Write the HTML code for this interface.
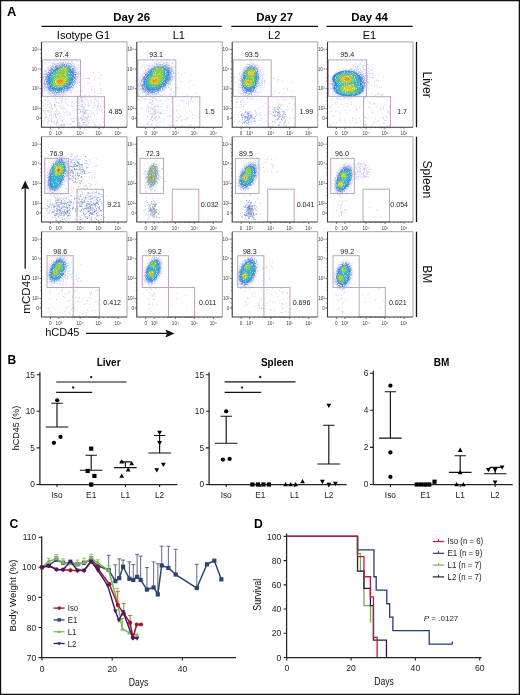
<!DOCTYPE html>
<html><head><meta charset="utf-8"><style>
html,body{margin:0;padding:0;background:#fff;}
body{width:520px;height:695px;overflow:hidden;position:relative;}
svg{position:absolute;left:0;top:0;will-change:transform;}
text{font-family:"Liberation Sans", sans-serif;}
</style></head><body>
<svg width="520" height="695" viewBox="0 0 520 695">
<defs><filter id="bl" x="-30%" y="-30%" width="160%" height="160%"><feGaussianBlur stdDeviation="0.75"/></filter>
<filter id="nz0" x="-20%" y="-20%" width="140%" height="140%"><feTurbulence type="fractalNoise" baseFrequency="0.9" numOctaves="2" seed="4" result="n"/><feColorMatrix in="n" type="matrix" values="0 0 0 0 0 0 0 0 0 0 0 0 0 0 0 0 0 0 5 -2.3" result="m"/><feGaussianBlur in="SourceGraphic" stdDeviation="0.9" result="b"/><feComposite in="b" in2="m" operator="in"/></filter>
<filter id="nz1" x="-20%" y="-20%" width="140%" height="140%"><feTurbulence type="fractalNoise" baseFrequency="0.9" numOctaves="2" seed="9" result="n"/><feColorMatrix in="n" type="matrix" values="0 0 0 0 0 0 0 0 0 0 0 0 0 0 0 0 0 0 5 -1.9" result="m"/><feGaussianBlur in="SourceGraphic" stdDeviation="0.8" result="b"/><feComposite in="b" in2="m" operator="in"/></filter>
<filter id="nz2" x="-20%" y="-20%" width="140%" height="140%"><feTurbulence type="fractalNoise" baseFrequency="0.9" numOctaves="2" seed="13" result="n"/><feColorMatrix in="n" type="matrix" values="0 0 0 0 0 0 0 0 0 0 0 0 0 0 0 0 0 0 5 -1.7" result="m"/><feGaussianBlur in="SourceGraphic" stdDeviation="0.7" result="b"/><feComposite in="b" in2="m" operator="in"/></filter>
<filter id="sp" x="-10%" y="-10%" width="120%" height="120%"><feTurbulence type="fractalNoise" baseFrequency="1.1" numOctaves="1" seed="21" result="n"/><feColorMatrix in="n" type="matrix" values="0 0 0 0 0 0 0 0 0 0 0 0 0 0 0 0 0 0 6 -3.2" result="m"/><feComposite in="SourceGraphic" in2="m" operator="in" result="c"/><feComponentTransfer in="c"><feFuncA type="linear" slope="0.55"/></feComponentTransfer></filter></defs>
<text x="7.1" y="15.9" font-size="12.9" text-anchor="start" font-weight="bold" fill="#000" >A</text>
<text x="131.65" y="20.9" font-size="11.4" text-anchor="middle" font-weight="bold" fill="#000" >Day 26</text>
<line x1="41.5" y1="26.4" x2="221.8" y2="26.4" stroke="#111" stroke-width="1.2" />
<text x="274.65" y="20.9" font-size="11.4" text-anchor="middle" font-weight="bold" fill="#000" >Day 27</text>
<line x1="231.3" y1="26.4" x2="318" y2="26.4" stroke="#111" stroke-width="1.2" />
<text x="369.6" y="20.9" font-size="11.4" text-anchor="middle" font-weight="bold" fill="#000" >Day 44</text>
<line x1="326.5" y1="26.4" x2="412.7" y2="26.4" stroke="#111" stroke-width="1.2" />
<text x="83.45" y="39.2" font-size="11" text-anchor="middle" fill="#000" >Isotype G1</text>
<text x="178.75" y="39.2" font-size="11" text-anchor="middle" fill="#000" >L1</text>
<text x="274.15" y="39.2" font-size="11" text-anchor="middle" fill="#000" >L2</text>
<text x="369.45" y="39.2" font-size="11" text-anchor="middle" fill="#000" >E1</text>
<line x1="416.5" y1="41.9" x2="416.5" y2="127.2" stroke="#111" stroke-width="1.3" />
<text x="0" y="0" font-size="12.1" text-anchor="middle" fill="#111" transform="translate(423.1 84.55) rotate(90)">Liver</text>
<line x1="416.5" y1="136.7" x2="416.5" y2="222" stroke="#111" stroke-width="1.3" />
<text x="0" y="0" font-size="12.1" text-anchor="middle" fill="#111" transform="translate(423.1 179.35) rotate(90)">Spleen</text>
<line x1="416.5" y1="231.7" x2="416.5" y2="317" stroke="#111" stroke-width="1.3" />
<text x="0" y="0" font-size="12.1" text-anchor="middle" fill="#111" transform="translate(423.1 274.35) rotate(90)">BM</text>
<line x1="25.2" y1="268.7" x2="25.2" y2="188" stroke="#111" stroke-width="1.3" />
<path d="M25.2 180.6 L29.3 189.6 L25.2 188 L21.1 189.6 Z" fill="#111"/>
<text x="0" y="0" font-size="11.6" text-anchor="middle" fill="#111" transform="translate(29.6 294) rotate(-90)">mCD45</text>
<text x="45.2" y="335.6" font-size="11" text-anchor="start" fill="#111" >hCD45</text>
<line x1="86" y1="333.4" x2="168" y2="333.4" stroke="#111" stroke-width="1.3" />
<path d="M174.6 333.4 L165.4 329.4 L167 333.4 L165.4 337.4 Z" fill="#111"/>
<clipPath id="c00"><rect x="41.5" y="41.9" width="85.5" height="85.3"/></clipPath>
<g clip-path="url(#c00)">
<path d="M52.09 77.27h0.9v0.9h-0.9zM87.91 106.12h0.9v0.9h-0.9zM79.77 123.54h0.9v0.9h-0.9zM76.48 116.59h0.9v0.9h-0.9zM62.28 121.52h0.9v0.9h-0.9zM94.51 124.1h0.9v0.9h-0.9zM52.79 82.82h0.9v0.9h-0.9zM53.89 82.81h0.9v0.9h-0.9zM66.85 104.35h0.9v0.9h-0.9zM78.23 124.85h0.9v0.9h-0.9zM81.19 126.04h0.9v0.9h-0.9zM48.35 120.29h0.9v0.9h-0.9zM63.85 50.7h0.9v0.9h-0.9zM70.5 78.66h0.9v0.9h-0.9zM65.15 82.22h0.9v0.9h-0.9zM80.72 97.84h0.9v0.9h-0.9zM78.51 125.33h0.9v0.9h-0.9zM79.14 67.37h0.9v0.9h-0.9zM81.8 78.84h0.9v0.9h-0.9zM91.51 86.47h0.9v0.9h-0.9zM65.15 76.42h0.9v0.9h-0.9zM50.89 77.45h0.9v0.9h-0.9zM42.46 74.57h0.9v0.9h-0.9zM56.66 93h0.9v0.9h-0.9zM100.82 75.05h0.9v0.9h-0.9zM80.53 111.26h0.9v0.9h-0.9zM86.38 121.19h0.9v0.9h-0.9zM62.08 125.48h0.9v0.9h-0.9zM78.11 122.21h0.9v0.9h-0.9zM52.46 85.7h0.9v0.9h-0.9zM80.75 100.06h0.9v0.9h-0.9zM73.83 84.1h0.9v0.9h-0.9zM50.19 125.76h0.9v0.9h-0.9zM81.29 100.83h0.9v0.9h-0.9zM68.37 130.06h0.9v0.9h-0.9zM76.59 60.99h0.9v0.9h-0.9zM79.48 108.81h0.9v0.9h-0.9zM50 87h0.9v0.9h-0.9zM84.15 112.13h0.9v0.9h-0.9zM104.19 104.78h0.9v0.9h-0.9zM44.79 74.06h0.9v0.9h-0.9zM93.33 107.32h0.9v0.9h-0.9zM80.3 110.52h0.9v0.9h-0.9zM85.45 97.28h0.9v0.9h-0.9zM60.06 113.01h0.9v0.9h-0.9zM51.21 120.34h0.9v0.9h-0.9zM73.66 68.21h0.9v0.9h-0.9zM104.22 125.27h0.9v0.9h-0.9zM59.23 125.43h0.9v0.9h-0.9zM81.01 97.36h0.9v0.9h-0.9zM85.26 110.25h0.9v0.9h-0.9zM64 80.85h0.9v0.9h-0.9zM51.9 68.73h0.9v0.9h-0.9zM43.29 110.89h0.9v0.9h-0.9zM60.89 102.39h0.9v0.9h-0.9zM47.68 80.07h0.9v0.9h-0.9zM78.26 100.83h0.9v0.9h-0.9zM58.5 92.69h0.9v0.9h-0.9zM86.23 112.42h0.9v0.9h-0.9zM94.23 125.55h0.9v0.9h-0.9zM73.14 106.41h0.9v0.9h-0.9zM47.08 97.33h0.9v0.9h-0.9zM75.3 126.84h0.9v0.9h-0.9zM80.71 118.52h0.9v0.9h-0.9zM56.91 82.43h0.9v0.9h-0.9zM81.66 124.84h0.9v0.9h-0.9zM47.03 104.4h0.9v0.9h-0.9zM53.5 114.64h0.9v0.9h-0.9zM84.56 122.2h0.9v0.9h-0.9zM74.17 121.34h0.9v0.9h-0.9zM57.87 84.35h0.9v0.9h-0.9zM103.89 100.92h0.9v0.9h-0.9zM77.75 106.94h0.9v0.9h-0.9zM56.17 121.75h0.9v0.9h-0.9zM42.46 88.18h0.9v0.9h-0.9zM99.7 124.58h0.9v0.9h-0.9zM59.94 134.93h0.9v0.9h-0.9zM79.38 101.88h0.9v0.9h-0.9zM103.03 118.21h0.9v0.9h-0.9zM74.45 70.48h0.9v0.9h-0.9zM45.32 110.51h0.9v0.9h-0.9zM70.55 67.07h0.9v0.9h-0.9zM88.67 119.57h0.9v0.9h-0.9zM82.83 124.21h0.9v0.9h-0.9zM68.75 111.38h0.9v0.9h-0.9zM103.54 118.5h0.9v0.9h-0.9zM58.84 77.67h0.9v0.9h-0.9zM58.33 113.06h0.9v0.9h-0.9zM58.24 80.43h0.9v0.9h-0.9zM64.04 73.33h0.9v0.9h-0.9zM51.2 105.29h0.9v0.9h-0.9zM69.43 79.73h0.9v0.9h-0.9zM67.13 80.18h0.9v0.9h-0.9zM56.75 74.6h0.9v0.9h-0.9zM51.7 114.23h0.9v0.9h-0.9zM96.88 112.78h0.9v0.9h-0.9zM53.21 83.37h0.9v0.9h-0.9zM75.48 104.77h0.9v0.9h-0.9zM65.58 71.7h0.9v0.9h-0.9zM62.87 67.94h0.9v0.9h-0.9zM92.83 71.9h0.9v0.9h-0.9zM62.64 125.3h0.9v0.9h-0.9zM83.3 120.46h0.9v0.9h-0.9zM85.06 116.83h0.9v0.9h-0.9zM77.77 66.49h0.9v0.9h-0.9zM62.8 110.72h0.9v0.9h-0.9zM57.42 110.84h0.9v0.9h-0.9zM90.58 100.12h0.9v0.9h-0.9zM55.4 107.03h0.9v0.9h-0.9zM57.22 124.71h0.9v0.9h-0.9zM77.15 122.12h0.9v0.9h-0.9zM57.55 95.63h0.9v0.9h-0.9zM63.99 101.4h0.9v0.9h-0.9zM86.85 121.29h0.9v0.9h-0.9zM58.36 105.98h0.9v0.9h-0.9zM101.25 109.41h0.9v0.9h-0.9zM73.74 75.47h0.9v0.9h-0.9zM88.13 105.69h0.9v0.9h-0.9zM81.76 103.95h0.9v0.9h-0.9zM65.45 82.4h0.9v0.9h-0.9zM62.26 117.42h0.9v0.9h-0.9zM80.06 108.7h0.9v0.9h-0.9zM44.56 120.18h0.9v0.9h-0.9zM97.84 93.29h0.9v0.9h-0.9zM91.12 113.48h0.9v0.9h-0.9zM100.64 88.01h0.9v0.9h-0.9zM95.37 119.29h0.9v0.9h-0.9zM87.6 82.41h0.9v0.9h-0.9zM67.47 73.77h0.9v0.9h-0.9zM90.96 88.76h0.9v0.9h-0.9zM59.09 117.02h0.9v0.9h-0.9zM49.38 103.09h0.9v0.9h-0.9zM69.26 114.26h0.9v0.9h-0.9zM60.99 101.34h0.9v0.9h-0.9zM103.28 127.09h0.9v0.9h-0.9zM88.54 126.34h0.9v0.9h-0.9zM59.8 74.01h0.9v0.9h-0.9zM58.29 79.87h0.9v0.9h-0.9zM66.97 123.46h0.9v0.9h-0.9zM82.08 114.52h0.9v0.9h-0.9zM80.04 82h0.9v0.9h-0.9zM82.82 116.33h0.9v0.9h-0.9zM55.31 115.9h0.9v0.9h-0.9zM80.31 112.19h0.9v0.9h-0.9zM84.54 113.12h0.9v0.9h-0.9zM97.56 100.49h0.9v0.9h-0.9z" fill="#aab0d8" fill-opacity="0.7"/>
<path d="M81.88 118.59h0.9v0.9h-0.9zM62.44 106.79h0.9v0.9h-0.9zM84.42 108.49h0.9v0.9h-0.9zM56.77 82.71h0.9v0.9h-0.9zM87.52 123.54h0.9v0.9h-0.9zM60.55 107.18h0.9v0.9h-0.9zM103 121.5h0.9v0.9h-0.9zM57.43 84.93h0.9v0.9h-0.9zM55.12 71.35h0.9v0.9h-0.9zM82.36 97.45h0.9v0.9h-0.9zM57.22 82.96h0.9v0.9h-0.9zM58.11 89.13h0.9v0.9h-0.9zM60.49 74.35h0.9v0.9h-0.9zM44.94 99.65h0.9v0.9h-0.9zM103.22 105.68h0.9v0.9h-0.9zM44.9 63.55h0.9v0.9h-0.9zM63.99 125.11h0.9v0.9h-0.9zM54.36 67.22h0.9v0.9h-0.9zM81.08 101.96h0.9v0.9h-0.9zM62.16 119.93h0.9v0.9h-0.9zM82.37 131.6h0.9v0.9h-0.9zM59.59 84.02h0.9v0.9h-0.9zM69.53 112.28h0.9v0.9h-0.9zM42.64 121.11h0.9v0.9h-0.9zM80.61 106.55h0.9v0.9h-0.9zM80.51 117.84h0.9v0.9h-0.9zM79.96 117.24h0.9v0.9h-0.9zM44.53 112.28h0.9v0.9h-0.9zM61.85 96.96h0.9v0.9h-0.9zM61.67 98.8h0.9v0.9h-0.9zM97.34 105.04h0.9v0.9h-0.9zM67.75 73.53h0.9v0.9h-0.9zM78.89 99.45h0.9v0.9h-0.9zM55.33 82.59h0.9v0.9h-0.9zM55.79 66.65h0.9v0.9h-0.9zM55.65 117.66h0.9v0.9h-0.9zM82.85 73.66h0.9v0.9h-0.9zM81.77 90.36h0.9v0.9h-0.9zM52.57 62.93h0.9v0.9h-0.9zM56.23 108.99h0.9v0.9h-0.9zM71.56 71.77h0.9v0.9h-0.9zM49.55 93.59h0.9v0.9h-0.9zM43.79 89.89h0.9v0.9h-0.9zM62.92 124.3h0.9v0.9h-0.9zM46.05 107.92h0.9v0.9h-0.9zM77.57 104.9h0.9v0.9h-0.9zM104.48 114.75h0.9v0.9h-0.9zM91.29 101.43h0.9v0.9h-0.9zM60.93 125.19h0.9v0.9h-0.9zM60.54 115.61h0.9v0.9h-0.9zM52.38 87.9h0.9v0.9h-0.9zM83.19 78.19h0.9v0.9h-0.9zM79.29 125.92h0.9v0.9h-0.9zM54.76 113.52h0.9v0.9h-0.9zM84.88 109.61h0.9v0.9h-0.9zM84.23 94.82h0.9v0.9h-0.9zM97.96 103.57h0.9v0.9h-0.9zM89.99 115.91h0.9v0.9h-0.9zM57.97 74.53h0.9v0.9h-0.9zM42.64 87.1h0.9v0.9h-0.9zM81.25 100.82h0.9v0.9h-0.9zM82.71 109.01h0.9v0.9h-0.9zM81.08 101.85h0.9v0.9h-0.9zM78.4 126.75h0.9v0.9h-0.9zM84.53 113.8h0.9v0.9h-0.9zM98.14 102.65h0.9v0.9h-0.9zM84.43 122.19h0.9v0.9h-0.9zM54.88 95.19h0.9v0.9h-0.9zM76.02 101.47h0.9v0.9h-0.9zM60.98 123.98h0.9v0.9h-0.9zM44.59 103.14h0.9v0.9h-0.9zM82.07 99.03h0.9v0.9h-0.9zM60.98 126.55h0.9v0.9h-0.9zM55.42 114.06h0.9v0.9h-0.9zM43.31 125.71h0.9v0.9h-0.9zM97.64 107.31h0.9v0.9h-0.9zM86.6 119.29h0.9v0.9h-0.9zM94.2 124.35h0.9v0.9h-0.9zM54.63 79.1h0.9v0.9h-0.9zM69.8 71.22h0.9v0.9h-0.9zM60.05 73.67h0.9v0.9h-0.9zM66.79 63.18h0.9v0.9h-0.9zM59.75 127.88h0.9v0.9h-0.9zM60.59 100.12h0.9v0.9h-0.9zM87.13 126.67h0.9v0.9h-0.9zM56.18 123.3h0.9v0.9h-0.9zM66.5 79.47h0.9v0.9h-0.9zM71.51 101.79h0.9v0.9h-0.9zM60.66 115.81h0.9v0.9h-0.9zM36.77 73.55h0.9v0.9h-0.9zM55.29 123.68h0.9v0.9h-0.9zM81.6 133.55h0.9v0.9h-0.9zM82.43 110.69h0.9v0.9h-0.9zM88.01 116.82h0.9v0.9h-0.9zM54.24 104.58h0.9v0.9h-0.9zM82.53 118.77h0.9v0.9h-0.9zM67.78 94.06h0.9v0.9h-0.9zM69.94 124.08h0.9v0.9h-0.9zM60.43 117.89h0.9v0.9h-0.9zM87.39 116.17h0.9v0.9h-0.9zM61.14 120.51h0.9v0.9h-0.9zM84.63 98.55h0.9v0.9h-0.9zM59.32 76.61h0.9v0.9h-0.9zM57.93 80.06h0.9v0.9h-0.9zM51.64 108.01h0.9v0.9h-0.9zM80.57 97.04h0.9v0.9h-0.9zM72.34 121.32h0.9v0.9h-0.9zM72.62 77.25h0.9v0.9h-0.9zM61.94 120.66h0.9v0.9h-0.9zM62.7 108.92h0.9v0.9h-0.9zM82.36 113.66h0.9v0.9h-0.9zM78.99 124.56h0.9v0.9h-0.9zM53.09 94.93h0.9v0.9h-0.9zM51.4 77.95h0.9v0.9h-0.9zM82.79 75.76h0.9v0.9h-0.9zM93.34 112.78h0.9v0.9h-0.9zM53.3 121.63h0.9v0.9h-0.9zM66.78 117.92h0.9v0.9h-0.9zM54.04 103.66h0.9v0.9h-0.9zM46.12 116.12h0.9v0.9h-0.9zM76.81 116.82h0.9v0.9h-0.9zM69.61 84.82h0.9v0.9h-0.9zM54.94 97.78h0.9v0.9h-0.9zM82.3 122.12h0.9v0.9h-0.9zM61.69 67.29h0.9v0.9h-0.9zM66.07 84.17h0.9v0.9h-0.9zM42.64 109.59h0.9v0.9h-0.9zM57.52 79.7h0.9v0.9h-0.9zM54.88 88.65h0.9v0.9h-0.9zM48.53 111.25h0.9v0.9h-0.9zM58.87 103.21h0.9v0.9h-0.9zM88.65 77.49h0.9v0.9h-0.9zM63.95 123.31h0.9v0.9h-0.9zM44.03 70.47h0.9v0.9h-0.9zM62.98 72.02h0.9v0.9h-0.9zM57.36 121.95h0.9v0.9h-0.9zM78.35 105.04h0.9v0.9h-0.9zM73.11 121.08h0.9v0.9h-0.9zM51.59 117.57h0.9v0.9h-0.9zM50.92 114.67h0.9v0.9h-0.9zM85.7 112.93h0.9v0.9h-0.9zM61.84 85.25h0.9v0.9h-0.9zM83.17 121.64h0.9v0.9h-0.9zM48.15 109.98h0.9v0.9h-0.9zM46.76 110.3h0.9v0.9h-0.9zM93.68 101.8h0.9v0.9h-0.9z" fill="#9aa2d0" fill-opacity="0.7"/>
<path d="M55.72 57.85h0.9v0.9h-0.9zM54.4 98.49h0.9v0.9h-0.9zM75.06 69.05h0.9v0.9h-0.9zM63.28 82.11h0.9v0.9h-0.9zM84.5 102.29h0.9v0.9h-0.9zM50.22 103.77h0.9v0.9h-0.9zM102.41 100.54h0.9v0.9h-0.9zM58.96 76.51h0.9v0.9h-0.9zM65.28 99.09h0.9v0.9h-0.9zM86.27 117.52h0.9v0.9h-0.9zM64.34 124.18h0.9v0.9h-0.9zM82.72 112.47h0.9v0.9h-0.9zM79.36 107.83h0.9v0.9h-0.9zM52.19 81.48h0.9v0.9h-0.9zM81.45 104.24h0.9v0.9h-0.9zM71.9 125.52h0.9v0.9h-0.9zM94.24 114.52h0.9v0.9h-0.9zM80.66 98.1h0.9v0.9h-0.9zM79.87 124.87h0.9v0.9h-0.9zM81.18 89.64h0.9v0.9h-0.9zM71.17 74.24h0.9v0.9h-0.9zM85.24 124.98h0.9v0.9h-0.9zM50.31 108.35h0.9v0.9h-0.9zM91.07 87.64h0.9v0.9h-0.9zM86.96 72.44h0.9v0.9h-0.9zM48.93 60h0.9v0.9h-0.9zM78.03 118.03h0.9v0.9h-0.9zM60.88 123.42h0.9v0.9h-0.9zM78.34 60.77h0.9v0.9h-0.9zM98.62 77.3h0.9v0.9h-0.9zM78.05 120.5h0.9v0.9h-0.9zM51.69 76.29h0.9v0.9h-0.9zM72.72 79.63h0.9v0.9h-0.9zM87.71 103.12h0.9v0.9h-0.9zM82.53 87.23h0.9v0.9h-0.9zM62.34 88.88h0.9v0.9h-0.9zM71.14 119.32h0.9v0.9h-0.9zM94.51 95.03h0.9v0.9h-0.9zM56.55 125.59h0.9v0.9h-0.9zM53.69 122.24h0.9v0.9h-0.9zM81.33 91.46h0.9v0.9h-0.9zM85.43 78.08h0.9v0.9h-0.9zM78.89 82.11h0.9v0.9h-0.9zM57.68 123.31h0.9v0.9h-0.9zM50.6 67.6h0.9v0.9h-0.9zM55.44 104.81h0.9v0.9h-0.9zM75.31 74.21h0.9v0.9h-0.9zM77.33 82.72h0.9v0.9h-0.9zM79.03 101.79h0.9v0.9h-0.9zM70.78 74.59h0.9v0.9h-0.9zM74.44 92.82h0.9v0.9h-0.9zM76.73 67.91h0.9v0.9h-0.9zM86.83 83.42h0.9v0.9h-0.9zM48.72 84.93h0.9v0.9h-0.9zM45.51 100h0.9v0.9h-0.9zM84.21 117.62h0.9v0.9h-0.9zM76.63 91.71h0.9v0.9h-0.9zM73.4 126.22h0.9v0.9h-0.9zM55.05 71.61h0.9v0.9h-0.9zM68.03 105.62h0.9v0.9h-0.9zM88.89 83.05h0.9v0.9h-0.9zM100.92 78.11h0.9v0.9h-0.9zM55.38 69.7h0.9v0.9h-0.9zM53.91 112.61h0.9v0.9h-0.9zM82.92 114.4h0.9v0.9h-0.9zM94.83 76.85h0.9v0.9h-0.9zM49.83 73.01h0.9v0.9h-0.9zM43.39 123.39h0.9v0.9h-0.9zM82.76 119.12h0.9v0.9h-0.9zM43.79 79.79h0.9v0.9h-0.9zM55.06 123.69h0.9v0.9h-0.9zM78.67 122.84h0.9v0.9h-0.9zM81.19 125.98h0.9v0.9h-0.9zM44.1 88.33h0.9v0.9h-0.9zM59.17 98.19h0.9v0.9h-0.9zM82.65 107.02h0.9v0.9h-0.9zM71.92 111.43h0.9v0.9h-0.9zM91.73 110.81h0.9v0.9h-0.9zM102.16 112.31h0.9v0.9h-0.9zM78.86 94.24h0.9v0.9h-0.9zM85.32 115.92h0.9v0.9h-0.9zM59.6 98.07h0.9v0.9h-0.9zM59.72 72.28h0.9v0.9h-0.9zM57 113.53h0.9v0.9h-0.9zM78.44 63.71h0.9v0.9h-0.9zM95.61 122.36h0.9v0.9h-0.9zM96.19 109.87h0.9v0.9h-0.9zM101.28 116.43h0.9v0.9h-0.9zM57.44 102.44h0.9v0.9h-0.9zM51.2 118.67h0.9v0.9h-0.9zM53.83 101.47h0.9v0.9h-0.9zM56.95 114.42h0.9v0.9h-0.9zM83.17 107.43h0.9v0.9h-0.9zM84.74 120.16h0.9v0.9h-0.9zM83.38 107.62h0.9v0.9h-0.9zM54.64 86.05h0.9v0.9h-0.9zM94.06 79.49h0.9v0.9h-0.9zM79.59 124.75h0.9v0.9h-0.9zM68.07 85.96h0.9v0.9h-0.9zM87.86 126.46h0.9v0.9h-0.9zM90.1 85.69h0.9v0.9h-0.9zM69.88 77.68h0.9v0.9h-0.9zM63.19 112.78h0.9v0.9h-0.9zM88.97 104.74h0.9v0.9h-0.9zM52.54 80.61h0.9v0.9h-0.9zM102.16 126.23h0.9v0.9h-0.9zM45.06 117.19h0.9v0.9h-0.9zM86.5 99.25h0.9v0.9h-0.9zM72.87 77.72h0.9v0.9h-0.9zM43.81 110.04h0.9v0.9h-0.9zM49.55 78.94h0.9v0.9h-0.9zM67.78 97.49h0.9v0.9h-0.9zM70.92 90.39h0.9v0.9h-0.9zM70.28 113.6h0.9v0.9h-0.9zM44.62 118.16h0.9v0.9h-0.9zM83.71 110.63h0.9v0.9h-0.9zM78.29 117.56h0.9v0.9h-0.9zM83.85 107.18h0.9v0.9h-0.9zM47.91 118.6h0.9v0.9h-0.9zM53.87 89.58h0.9v0.9h-0.9zM94.61 104.73h0.9v0.9h-0.9zM67.75 64.26h0.9v0.9h-0.9zM87.16 100.92h0.9v0.9h-0.9zM87.14 125.76h0.9v0.9h-0.9zM71.03 79.07h0.9v0.9h-0.9zM62.94 73.84h0.9v0.9h-0.9zM82.29 121.95h0.9v0.9h-0.9zM100.85 98.4h0.9v0.9h-0.9zM85.26 72.75h0.9v0.9h-0.9zM77.89 109.03h0.9v0.9h-0.9zM57.06 77.85h0.9v0.9h-0.9zM71.17 123.08h0.9v0.9h-0.9zM70.86 61.05h0.9v0.9h-0.9zM50.77 73.17h0.9v0.9h-0.9zM82.32 110.92h0.9v0.9h-0.9zM84.06 101.96h0.9v0.9h-0.9zM79.9 90.83h0.9v0.9h-0.9zM80.37 95.64h0.9v0.9h-0.9zM47.03 66.72h0.9v0.9h-0.9zM63.63 108.03h0.9v0.9h-0.9zM54.27 60.95h0.9v0.9h-0.9zM44.47 113.56h0.9v0.9h-0.9zM85.49 118.12h0.9v0.9h-0.9zM79.35 71.12h0.9v0.9h-0.9zM81.22 116.12h0.9v0.9h-0.9zM56.21 93.75h0.9v0.9h-0.9z" fill="#bcbcde" fill-opacity="0.7"/>
<path d="M44.37 76.94h0.9v0.9h-0.9zM47.72 123.69h0.9v0.9h-0.9zM65.61 101.23h0.9v0.9h-0.9zM65 71.02h0.9v0.9h-0.9zM75.93 107.95h0.9v0.9h-0.9zM42.93 71.68h0.9v0.9h-0.9zM78.54 104.95h0.9v0.9h-0.9zM68.49 76.54h0.9v0.9h-0.9zM78.75 98.64h0.9v0.9h-0.9zM68.7 66.65h0.9v0.9h-0.9zM64.46 125.62h0.9v0.9h-0.9zM45.47 116.92h0.9v0.9h-0.9zM69.47 75.99h0.9v0.9h-0.9zM86.73 98.9h0.9v0.9h-0.9zM71.42 103.29h0.9v0.9h-0.9zM64.47 71.65h0.9v0.9h-0.9zM63.55 74.76h0.9v0.9h-0.9zM48.06 74.06h0.9v0.9h-0.9zM91.47 88.95h0.9v0.9h-0.9zM51.31 105.78h0.9v0.9h-0.9zM58.5 73.16h0.9v0.9h-0.9zM53.64 66.37h0.9v0.9h-0.9zM51.57 117.88h0.9v0.9h-0.9zM66.17 98.54h0.9v0.9h-0.9zM53.74 93.91h0.9v0.9h-0.9zM63.59 64h0.9v0.9h-0.9zM80.6 95.41h0.9v0.9h-0.9zM55.13 114.58h0.9v0.9h-0.9zM83.96 119.13h0.9v0.9h-0.9zM86.96 105.71h0.9v0.9h-0.9zM63.12 104.86h0.9v0.9h-0.9zM50.57 105.29h0.9v0.9h-0.9zM73.98 120.53h0.9v0.9h-0.9zM59.88 125.24h0.9v0.9h-0.9zM83.33 115.81h0.9v0.9h-0.9zM65.2 50.39h0.9v0.9h-0.9zM82.48 100.29h0.9v0.9h-0.9zM73 86.49h0.9v0.9h-0.9zM101.02 110.56h0.9v0.9h-0.9zM82.95 106.78h0.9v0.9h-0.9zM42.51 101.48h0.9v0.9h-0.9zM70.34 95.81h0.9v0.9h-0.9zM95.08 98.36h0.9v0.9h-0.9zM70.34 72.76h0.9v0.9h-0.9zM81.6 110.82h0.9v0.9h-0.9zM51.33 107.43h0.9v0.9h-0.9zM67.87 102.05h0.9v0.9h-0.9zM77.3 115.28h0.9v0.9h-0.9zM57.41 81.44h0.9v0.9h-0.9zM65.15 126.99h0.9v0.9h-0.9zM81.63 118.12h0.9v0.9h-0.9zM56 117.16h0.9v0.9h-0.9zM72.21 126.99h0.9v0.9h-0.9zM68.61 78.51h0.9v0.9h-0.9zM54.88 110.78h0.9v0.9h-0.9zM77.9 71.75h0.9v0.9h-0.9zM78.97 104.95h0.9v0.9h-0.9zM74.34 120.6h0.9v0.9h-0.9zM43.87 117.15h0.9v0.9h-0.9zM94.09 91.02h0.9v0.9h-0.9zM93.86 89.36h0.9v0.9h-0.9zM42.55 81.32h0.9v0.9h-0.9zM61.73 123.67h0.9v0.9h-0.9zM83.98 117.28h0.9v0.9h-0.9zM79.56 104.59h0.9v0.9h-0.9zM57.13 119.84h0.9v0.9h-0.9zM48.33 91.73h0.9v0.9h-0.9zM96.4 107.15h0.9v0.9h-0.9zM50.91 87.28h0.9v0.9h-0.9zM62.53 101.14h0.9v0.9h-0.9zM76.67 98.31h0.9v0.9h-0.9zM81.24 117.14h0.9v0.9h-0.9zM84.35 97h0.9v0.9h-0.9zM52.78 93.48h0.9v0.9h-0.9zM79.71 110.41h0.9v0.9h-0.9zM60.58 78.98h0.9v0.9h-0.9zM46.95 101.48h0.9v0.9h-0.9zM51.26 68.13h0.9v0.9h-0.9zM85.85 119.71h0.9v0.9h-0.9zM84.88 104.12h0.9v0.9h-0.9zM50.87 121.44h0.9v0.9h-0.9zM76.51 108.89h0.9v0.9h-0.9zM60.36 124.1h0.9v0.9h-0.9zM43.82 62.15h0.9v0.9h-0.9zM58.81 77.99h0.9v0.9h-0.9zM78.43 123.04h0.9v0.9h-0.9zM52.3 92.59h0.9v0.9h-0.9zM82.08 105.91h0.9v0.9h-0.9zM73.76 87.72h0.9v0.9h-0.9zM78.08 97.58h0.9v0.9h-0.9zM72.79 86.51h0.9v0.9h-0.9zM51.39 77.01h0.9v0.9h-0.9zM88.96 109.99h0.9v0.9h-0.9zM49.35 106.55h0.9v0.9h-0.9zM46.83 103.66h0.9v0.9h-0.9zM82.5 113.54h0.9v0.9h-0.9zM52.66 77.02h0.9v0.9h-0.9zM84.4 105.83h0.9v0.9h-0.9zM87.06 117.91h0.9v0.9h-0.9zM55.28 116.83h0.9v0.9h-0.9zM71.56 72.74h0.9v0.9h-0.9zM54.49 104.92h0.9v0.9h-0.9zM56.05 89.48h0.9v0.9h-0.9zM98.83 72.45h0.9v0.9h-0.9zM44.68 98.94h0.9v0.9h-0.9zM65.34 67.41h0.9v0.9h-0.9zM84.7 126.35h0.9v0.9h-0.9zM92.82 122.19h0.9v0.9h-0.9zM87.64 116.39h0.9v0.9h-0.9zM47.87 67.24h0.9v0.9h-0.9zM86.51 124.86h0.9v0.9h-0.9zM57.19 68.94h0.9v0.9h-0.9zM82.73 101.36h0.9v0.9h-0.9zM75.86 117.82h0.9v0.9h-0.9zM78.47 90.45h0.9v0.9h-0.9zM86.19 78.11h0.9v0.9h-0.9zM77.85 73.3h0.9v0.9h-0.9zM74.94 59.08h0.9v0.9h-0.9zM77.46 69.15h0.9v0.9h-0.9zM83 112.25h0.9v0.9h-0.9zM83.91 112.91h0.9v0.9h-0.9zM80.37 105.92h0.9v0.9h-0.9zM67.88 113.76h0.9v0.9h-0.9zM51.58 109.6h0.9v0.9h-0.9zM96.34 108.8h0.9v0.9h-0.9zM47.89 61.77h0.9v0.9h-0.9zM103.12 102.94h0.9v0.9h-0.9zM78.76 109.01h0.9v0.9h-0.9zM78.81 64.35h0.9v0.9h-0.9zM80.16 63.58h0.9v0.9h-0.9zM64.08 114.68h0.9v0.9h-0.9zM53.91 113.5h0.9v0.9h-0.9zM82.03 120h0.9v0.9h-0.9zM71.63 61.36h0.9v0.9h-0.9zM48.36 66.42h0.9v0.9h-0.9zM70.57 92.57h0.9v0.9h-0.9zM45.04 104.19h0.9v0.9h-0.9zM42.64 92.25h0.9v0.9h-0.9zM91.55 111.8h0.9v0.9h-0.9zM64.66 98.19h0.9v0.9h-0.9zM78.68 122.39h0.9v0.9h-0.9zM75.98 110.45h0.9v0.9h-0.9zM57.86 84.77h0.9v0.9h-0.9zM58.43 88.34h0.9v0.9h-0.9zM48.75 120.81h0.9v0.9h-0.9z" fill="#c4b6da" fill-opacity="0.7"/>
<path d="M93.12 72.16h0.9v0.9h-0.9zM81.53 105.13h0.9v0.9h-0.9zM63.38 74.52h0.9v0.9h-0.9zM53.11 116.58h0.9v0.9h-0.9zM63.94 112.22h0.9v0.9h-0.9zM103.55 100.76h0.9v0.9h-0.9zM99.06 83.78h0.9v0.9h-0.9zM54.54 104.31h0.9v0.9h-0.9zM83.68 112.05h0.9v0.9h-0.9zM77.51 108.46h0.9v0.9h-0.9zM76.81 100.48h0.9v0.9h-0.9zM82.82 109.57h0.9v0.9h-0.9zM94.74 104.95h0.9v0.9h-0.9zM56.44 111.66h0.9v0.9h-0.9zM86.91 117.87h0.9v0.9h-0.9zM47.55 100.47h0.9v0.9h-0.9zM87.77 121.51h0.9v0.9h-0.9zM95.22 98.38h0.9v0.9h-0.9zM81.95 103.99h0.9v0.9h-0.9zM44.99 70.6h0.9v0.9h-0.9zM51.9 62.23h0.9v0.9h-0.9zM57.9 102.45h0.9v0.9h-0.9zM99.31 83.73h0.9v0.9h-0.9zM57.27 118.62h0.9v0.9h-0.9zM53.71 94.17h0.9v0.9h-0.9zM78.49 119.35h0.9v0.9h-0.9zM53.13 72.55h0.9v0.9h-0.9zM67.26 67.22h0.9v0.9h-0.9zM80.92 126.16h0.9v0.9h-0.9zM61.51 97.72h0.9v0.9h-0.9zM60.33 106.27h0.9v0.9h-0.9zM57.23 120.99h0.9v0.9h-0.9zM100.67 89.52h0.9v0.9h-0.9zM55.25 100.62h0.9v0.9h-0.9zM85.38 94.9h0.9v0.9h-0.9zM55.95 102.06h0.9v0.9h-0.9zM50.99 74.91h0.9v0.9h-0.9zM83.63 106.51h0.9v0.9h-0.9zM97.82 97.65h0.9v0.9h-0.9zM47.62 121.94h0.9v0.9h-0.9zM89.32 78.33h0.9v0.9h-0.9zM55.53 110.61h0.9v0.9h-0.9zM85.68 123.95h0.9v0.9h-0.9zM47.82 111.72h0.9v0.9h-0.9zM80.9 120.57h0.9v0.9h-0.9zM97.36 106.05h0.9v0.9h-0.9zM59.65 73.52h0.9v0.9h-0.9zM79.45 112.77h0.9v0.9h-0.9zM100.03 106.02h0.9v0.9h-0.9zM66 112.24h0.9v0.9h-0.9zM81.83 107.7h0.9v0.9h-0.9zM58.77 72.39h0.9v0.9h-0.9zM77.54 112.86h0.9v0.9h-0.9zM65.35 121.13h0.9v0.9h-0.9zM96.35 125.87h0.9v0.9h-0.9zM49.81 101.82h0.9v0.9h-0.9zM87.82 104.54h0.9v0.9h-0.9zM61.26 107.98h0.9v0.9h-0.9zM88.24 115.59h0.9v0.9h-0.9zM73.22 83.42h0.9v0.9h-0.9zM50.44 112.58h0.9v0.9h-0.9zM88.77 121.94h0.9v0.9h-0.9zM79.47 80.89h0.9v0.9h-0.9zM66.85 110.38h0.9v0.9h-0.9zM78.97 122.23h0.9v0.9h-0.9zM49.66 85.48h0.9v0.9h-0.9zM87.13 109.79h0.9v0.9h-0.9zM54.83 115.08h0.9v0.9h-0.9zM46.21 113.88h0.9v0.9h-0.9zM103.73 113.54h0.9v0.9h-0.9zM78.15 72.29h0.9v0.9h-0.9zM94 99.65h0.9v0.9h-0.9zM65.72 76.27h0.9v0.9h-0.9zM51.04 114.31h0.9v0.9h-0.9zM78.21 103.01h0.9v0.9h-0.9zM61.34 66.64h0.9v0.9h-0.9zM79.84 99.39h0.9v0.9h-0.9zM59.45 87.16h0.9v0.9h-0.9zM89.69 117.22h0.9v0.9h-0.9zM91.52 119.65h0.9v0.9h-0.9zM60.35 104.71h0.9v0.9h-0.9zM50.59 94.97h0.9v0.9h-0.9zM60.17 73.27h0.9v0.9h-0.9zM72.23 62.74h0.9v0.9h-0.9zM95.21 125.25h0.9v0.9h-0.9zM84.73 110.98h0.9v0.9h-0.9zM63.69 107.94h0.9v0.9h-0.9zM58.81 111.56h0.9v0.9h-0.9zM54.53 69.82h0.9v0.9h-0.9zM74.44 110.33h0.9v0.9h-0.9zM71.9 101.06h0.9v0.9h-0.9zM98.91 123.78h0.9v0.9h-0.9zM60.82 97.47h0.9v0.9h-0.9zM60.54 89.39h0.9v0.9h-0.9zM56.71 71.84h0.9v0.9h-0.9zM61.78 68.23h0.9v0.9h-0.9zM66.84 114.91h0.9v0.9h-0.9zM70.9 92.25h0.9v0.9h-0.9zM54.64 72.93h0.9v0.9h-0.9zM46.16 77.85h0.9v0.9h-0.9zM80.4 95.19h0.9v0.9h-0.9zM70.9 126.74h0.9v0.9h-0.9zM88.72 95.07h0.9v0.9h-0.9zM100.53 93.12h0.9v0.9h-0.9zM72.55 105.68h0.9v0.9h-0.9zM54.29 105.61h0.9v0.9h-0.9zM50.67 111.59h0.9v0.9h-0.9zM66.31 109.86h0.9v0.9h-0.9zM43.48 105.37h0.9v0.9h-0.9zM64.86 108.18h0.9v0.9h-0.9zM54.14 121.16h0.9v0.9h-0.9zM48.83 114.52h0.9v0.9h-0.9zM51.38 121.54h0.9v0.9h-0.9zM68.28 66.57h0.9v0.9h-0.9zM87.76 113.6h0.9v0.9h-0.9zM50.88 111.02h0.9v0.9h-0.9zM71.27 105.52h0.9v0.9h-0.9zM48.38 100.45h0.9v0.9h-0.9zM70.25 72.63h0.9v0.9h-0.9zM52.24 109.48h0.9v0.9h-0.9zM48.67 103.93h0.9v0.9h-0.9zM76.07 95.46h0.9v0.9h-0.9zM95.95 99.66h0.9v0.9h-0.9zM63.26 118.98h0.9v0.9h-0.9zM78.8 85.14h0.9v0.9h-0.9zM98.75 108.85h0.9v0.9h-0.9zM75.41 76.07h0.9v0.9h-0.9zM63.16 81.19h0.9v0.9h-0.9zM85.99 109.74h0.9v0.9h-0.9zM59.32 126.61h0.9v0.9h-0.9zM87.7 78.24h0.9v0.9h-0.9zM70.3 118.08h0.9v0.9h-0.9zM81.87 106.14h0.9v0.9h-0.9zM66.52 83.95h0.9v0.9h-0.9zM100.27 89.94h0.9v0.9h-0.9zM83.41 124.52h0.9v0.9h-0.9zM66.89 79.16h0.9v0.9h-0.9zM53.29 77.57h0.9v0.9h-0.9zM47.09 124.47h0.9v0.9h-0.9zM72.72 117.99h0.9v0.9h-0.9zM97.35 101.13h0.9v0.9h-0.9zM65.27 103.21h0.9v0.9h-0.9zM51.4 74.91h0.9v0.9h-0.9zM80.15 111.29h0.9v0.9h-0.9zM84.9 112.29h0.9v0.9h-0.9z" fill="#a4aed8" fill-opacity="0.7"/>
<g fill="#b4c0ee" fill-opacity="0.55" filter="url(#nz0)">
<ellipse cx="60.5" cy="78.5" rx="21.12" ry="17.28" transform="rotate(-35 60.5 78.5)"/>
</g>
<g fill="#8aa0e0" fill-opacity="0.75" filter="url(#nz1)">
<ellipse cx="60.5" cy="78.5" rx="18.48" ry="15.12" transform="rotate(-35 60.5 78.5)"/>
</g>
<g fill="#5a7ad0" fill-opacity="0.75" filter="url(#nz2)">
<ellipse cx="60.5" cy="78.5" rx="16.5" ry="13.5" transform="rotate(-35 60.5 78.5)"/>
</g>
<g fill="#3a8ad8" filter="url(#bl)">
<ellipse cx="60.5" cy="78.5" rx="13.86" ry="11.34" transform="rotate(-35 60.5 78.5)"/>
</g>
<g fill="#38aed0" filter="url(#bl)">
<ellipse cx="60.5" cy="78.5" rx="11.55" ry="9.45" transform="rotate(-35 60.5 78.5)"/>
</g>
<g fill="#56bf86" filter="url(#bl)">
<ellipse cx="60.5" cy="78.5" rx="9.24" ry="7.56" transform="rotate(-35 60.5 78.5)"/>
<ellipse cx="60" cy="81.5" rx="9.52" ry="6.16" transform="rotate(-15 60 81.5)"/>
<ellipse cx="62.5" cy="72" rx="7.28" ry="5.6" transform="rotate(-30 62.5 72)"/>
</g>
<g fill="#8fc944" filter="url(#bl)">
<ellipse cx="60.5" cy="78.5" rx="7.09" ry="5.8" transform="rotate(-35 60.5 78.5)"/>
<ellipse cx="60" cy="81.5" rx="7.31" ry="4.73" transform="rotate(-15 60 81.5)"/>
<ellipse cx="62.5" cy="72" rx="5.59" ry="4.3" transform="rotate(-30 62.5 72)"/>
</g>
<g fill="#d6cc2e" filter="url(#bl)">
<ellipse cx="60" cy="81.5" rx="5.1" ry="3.3" transform="rotate(-15 60 81.5)"/>
</g>
<g fill="#ec8f22" filter="url(#bl)">
<ellipse cx="60" cy="81.5" rx="3.06" ry="1.98" transform="rotate(-15 60 81.5)"/>
</g>
<g fill="#fff" filter="url(#sp)">
<ellipse cx="60.5" cy="78.5" rx="17.32" ry="14.18" transform="rotate(-35 60.5 78.5)"/>
</g>
</g>
<rect x="42.5" y="59.9" width="38" height="36.5" fill="none" stroke="#bca6bc" stroke-width="1"/>
<rect x="77.5" y="96.7" width="27" height="30.5" fill="none" stroke="#bca6bc" stroke-width="1"/>
<path d="M41.5 41.9H127V127.2" fill="none" stroke="#a6a6a6" stroke-width="1"/>
<path d="M41.5 41.9V127.2H127" fill="none" stroke="#3a3a3a" stroke-width="1.1"/>
<path d="M39.5 49.4h2M40.5 53.9h1M40.5 57.9h1M40.5 61.4h1M39.5 69.1h2M40.5 73.6h1M40.5 77.6h1M40.5 81.1h1M39.5 88.7h2M40.5 93.2h1M40.5 97.2h1M40.5 100.7h1M39.5 108.7h2M40.5 113.2h1M40.5 117.2h1M39.3 118.3h2.2M50.4 127.2v2M58.9 127.2v2M80.1 127.2v2M99 127.2v2M118 127.2v2M63.5 127.2v1M68.5 127.2v1M72 127.2v1M74.5 127.2v1M84.5 127.2v1M89.5 127.2v1M93 127.2v1M95.5 127.2v1M103.5 127.2v1M108.5 127.2v1M112 127.2v1M114.5 127.2v1" stroke="#444" stroke-width="0.7" fill="none"/>
<g font-size="4.6" fill="#3a3a3a"><text x="38.9" y="50.8" text-anchor="end">10⁵</text><text x="38.9" y="70.5" text-anchor="end">10⁴</text><text x="38.9" y="90.1" text-anchor="end">10³</text><text x="38.9" y="110.1" text-anchor="end">10²</text><text x="38.7" y="119.7" text-anchor="end">0</text><text x="50.4" y="134.8" text-anchor="middle">0</text><text x="58.9" y="134.8" text-anchor="middle">10³</text><text x="80.1" y="134.8" text-anchor="middle">10⁴</text><text x="99" y="134.8" text-anchor="middle">10⁵</text><text x="118" y="134.8" text-anchor="middle">10⁶</text></g>
<text x="54.9" y="57.4" font-size="7.1" text-anchor="start" fill="#1a1a1a" >87.4</text>
<text x="108.5" y="113.9" font-size="7.1" text-anchor="start" fill="#1a1a1a" >4.85</text>
<clipPath id="c01"><rect x="136.8" y="41.9" width="85.5" height="85.3"/></clipPath>
<g clip-path="url(#c01)">
<path d="M171.91 84.6h0.9v0.9h-0.9zM180.63 75.31h0.9v0.9h-0.9zM147.72 68.08h0.9v0.9h-0.9zM158.28 72.2h0.9v0.9h-0.9zM163.49 63.74h0.9v0.9h-0.9zM158.32 111.3h0.9v0.9h-0.9zM149.28 121.3h0.9v0.9h-0.9zM141.08 80.01h0.9v0.9h-0.9zM141.13 122.84h0.9v0.9h-0.9zM197.79 117.21h0.9v0.9h-0.9zM160.93 82.61h0.9v0.9h-0.9zM150.89 106.5h0.9v0.9h-0.9zM159.51 112.25h0.9v0.9h-0.9zM146.29 106.77h0.9v0.9h-0.9zM156.31 77.32h0.9v0.9h-0.9zM154.72 105.59h0.9v0.9h-0.9zM172.39 68.63h0.9v0.9h-0.9zM168.1 115.71h0.9v0.9h-0.9zM154 80.48h0.9v0.9h-0.9zM154.05 98.13h0.9v0.9h-0.9zM152.26 100.03h0.9v0.9h-0.9zM159.36 95.97h0.9v0.9h-0.9zM154.26 117.77h0.9v0.9h-0.9zM186.83 94.29h0.9v0.9h-0.9zM191.33 111.64h0.9v0.9h-0.9zM175.47 72.75h0.9v0.9h-0.9zM195.47 109.2h0.9v0.9h-0.9zM157.56 109.73h0.9v0.9h-0.9zM141.91 108.94h0.9v0.9h-0.9zM143.09 85.05h0.9v0.9h-0.9zM160.6 63.83h0.9v0.9h-0.9zM181.4 120.45h0.9v0.9h-0.9zM153.05 81.83h0.9v0.9h-0.9zM147.25 123.51h0.9v0.9h-0.9zM177.16 110.39h0.9v0.9h-0.9zM158.38 80.99h0.9v0.9h-0.9zM150.98 116.69h0.9v0.9h-0.9zM169.75 80.97h0.9v0.9h-0.9zM161.02 84.37h0.9v0.9h-0.9zM186.02 102.64h0.9v0.9h-0.9zM156.2 86.96h0.9v0.9h-0.9zM163.56 119.33h0.9v0.9h-0.9zM180.52 115.48h0.9v0.9h-0.9zM165.77 60.32h0.9v0.9h-0.9zM151.8 90.63h0.9v0.9h-0.9zM150.23 57.56h0.9v0.9h-0.9zM137.17 95.48h0.9v0.9h-0.9zM143.64 98.73h0.9v0.9h-0.9zM145.82 109.31h0.9v0.9h-0.9zM142.77 82.39h0.9v0.9h-0.9zM148.43 111.38h0.9v0.9h-0.9zM159.59 84.29h0.9v0.9h-0.9zM149.14 106.76h0.9v0.9h-0.9zM161.23 112.89h0.9v0.9h-0.9zM151.68 115.36h0.9v0.9h-0.9zM171.87 98.12h0.9v0.9h-0.9zM185.45 126.59h0.9v0.9h-0.9zM148.08 107.59h0.9v0.9h-0.9zM164.13 76.05h0.9v0.9h-0.9zM155.65 119.7h0.9v0.9h-0.9zM163.16 74.88h0.9v0.9h-0.9zM193.96 106.65h0.9v0.9h-0.9zM155.61 126.33h0.9v0.9h-0.9zM168.36 84.21h0.9v0.9h-0.9zM190.12 74.45h0.9v0.9h-0.9zM157.8 106.06h0.9v0.9h-0.9zM163.1 67.27h0.9v0.9h-0.9zM156.55 85.02h0.9v0.9h-0.9zM160.72 61.13h0.9v0.9h-0.9zM153.28 118.91h0.9v0.9h-0.9zM152.53 108.93h0.9v0.9h-0.9zM170.68 78.99h0.9v0.9h-0.9zM159.8 79.88h0.9v0.9h-0.9zM147.51 68.51h0.9v0.9h-0.9zM158.8 117.57h0.9v0.9h-0.9zM144.27 66.78h0.9v0.9h-0.9zM138.16 98.97h0.9v0.9h-0.9zM182.22 125.67h0.9v0.9h-0.9zM198.51 121.9h0.9v0.9h-0.9zM154.15 83.25h0.9v0.9h-0.9zM181.76 119.29h0.9v0.9h-0.9zM169.93 115.79h0.9v0.9h-0.9zM198.82 101.99h0.9v0.9h-0.9zM167 107.63h0.9v0.9h-0.9zM141.56 88.41h0.9v0.9h-0.9zM153.86 114.3h0.9v0.9h-0.9zM159.37 76.78h0.9v0.9h-0.9zM151.27 84.88h0.9v0.9h-0.9zM157.56 119.26h0.9v0.9h-0.9zM195.11 92.85h0.9v0.9h-0.9zM166.46 97.84h0.9v0.9h-0.9zM176.98 126.57h0.9v0.9h-0.9zM153.1 121.92h0.9v0.9h-0.9zM163.05 72.7h0.9v0.9h-0.9zM134.97 80.35h0.9v0.9h-0.9z" fill="#aab0d8" fill-opacity="0.7"/>
<path d="M147.77 73.45h0.9v0.9h-0.9zM182.5 99.66h0.9v0.9h-0.9zM152.43 103.77h0.9v0.9h-0.9zM173.18 91.35h0.9v0.9h-0.9zM167.55 105.36h0.9v0.9h-0.9zM142.38 64.78h0.9v0.9h-0.9zM163.75 65.7h0.9v0.9h-0.9zM161.54 68.47h0.9v0.9h-0.9zM141.7 87.73h0.9v0.9h-0.9zM161.58 65.46h0.9v0.9h-0.9zM151.43 108.33h0.9v0.9h-0.9zM139.39 85.17h0.9v0.9h-0.9zM186.53 117.4h0.9v0.9h-0.9zM165.27 71.84h0.9v0.9h-0.9zM157.59 83.96h0.9v0.9h-0.9zM158.11 122.64h0.9v0.9h-0.9zM152.35 116.64h0.9v0.9h-0.9zM147.49 122.32h0.9v0.9h-0.9zM152.88 102.39h0.9v0.9h-0.9zM158.21 74.65h0.9v0.9h-0.9zM187.9 102.19h0.9v0.9h-0.9zM145.83 89.39h0.9v0.9h-0.9zM192.73 113.64h0.9v0.9h-0.9zM153.68 97.36h0.9v0.9h-0.9zM181.01 100.25h0.9v0.9h-0.9zM159.89 112.78h0.9v0.9h-0.9zM175.99 109.77h0.9v0.9h-0.9zM163.25 109.93h0.9v0.9h-0.9zM161.88 90.43h0.9v0.9h-0.9zM156.93 74.14h0.9v0.9h-0.9zM149.82 125.24h0.9v0.9h-0.9zM158.64 116.54h0.9v0.9h-0.9zM151.66 112.92h0.9v0.9h-0.9zM154.18 118.37h0.9v0.9h-0.9zM155.05 78.8h0.9v0.9h-0.9zM148.53 76.64h0.9v0.9h-0.9zM152.2 70.51h0.9v0.9h-0.9zM144.81 73.28h0.9v0.9h-0.9zM156.87 80.9h0.9v0.9h-0.9zM157.38 76.46h0.9v0.9h-0.9zM154.85 112.21h0.9v0.9h-0.9zM160.76 105.84h0.9v0.9h-0.9zM165.33 74.95h0.9v0.9h-0.9zM146.25 86.53h0.9v0.9h-0.9zM171.26 97.67h0.9v0.9h-0.9zM152.83 70.57h0.9v0.9h-0.9zM153.82 110.77h0.9v0.9h-0.9zM155.85 63.25h0.9v0.9h-0.9zM149.44 77.46h0.9v0.9h-0.9zM156.53 92.96h0.9v0.9h-0.9zM155.2 110.95h0.9v0.9h-0.9zM151.36 117.01h0.9v0.9h-0.9zM151.39 123.21h0.9v0.9h-0.9zM159.29 75.05h0.9v0.9h-0.9zM174.6 67.2h0.9v0.9h-0.9zM170.29 101.57h0.9v0.9h-0.9zM162.97 87.8h0.9v0.9h-0.9zM159.92 118.22h0.9v0.9h-0.9zM188.04 103.8h0.9v0.9h-0.9zM151.99 82.18h0.9v0.9h-0.9zM178.76 112.88h0.9v0.9h-0.9zM151.86 120.15h0.9v0.9h-0.9zM169.78 88.85h0.9v0.9h-0.9zM161.63 84.45h0.9v0.9h-0.9zM161.61 94.47h0.9v0.9h-0.9zM164.78 86.44h0.9v0.9h-0.9zM164.5 112.68h0.9v0.9h-0.9zM178.36 117.3h0.9v0.9h-0.9zM159.6 88.07h0.9v0.9h-0.9zM180.38 81.21h0.9v0.9h-0.9zM164.28 86.38h0.9v0.9h-0.9zM181.14 126.08h0.9v0.9h-0.9zM148.56 76.3h0.9v0.9h-0.9zM147.2 116.01h0.9v0.9h-0.9zM184.07 119.44h0.9v0.9h-0.9zM172.32 63.06h0.9v0.9h-0.9zM182.18 99.7h0.9v0.9h-0.9zM176.39 116.32h0.9v0.9h-0.9zM164.67 70.55h0.9v0.9h-0.9zM155.49 119.7h0.9v0.9h-0.9zM138.74 95.7h0.9v0.9h-0.9zM151.91 119.98h0.9v0.9h-0.9zM164.36 93.53h0.9v0.9h-0.9zM153.86 114h0.9v0.9h-0.9zM155.59 116.33h0.9v0.9h-0.9zM189.23 109.95h0.9v0.9h-0.9zM172.44 108.43h0.9v0.9h-0.9zM155.33 116.55h0.9v0.9h-0.9zM172.71 110.65h0.9v0.9h-0.9zM166.56 106.9h0.9v0.9h-0.9zM141.76 107.43h0.9v0.9h-0.9zM155.21 79.38h0.9v0.9h-0.9zM147.85 110.66h0.9v0.9h-0.9zM149.85 110.76h0.9v0.9h-0.9zM154.63 110.77h0.9v0.9h-0.9z" fill="#9aa2d0" fill-opacity="0.7"/>
<path d="M153.17 61.6h0.9v0.9h-0.9zM176.47 87.17h0.9v0.9h-0.9zM141.03 107.89h0.9v0.9h-0.9zM171.82 123.9h0.9v0.9h-0.9zM189.39 80.81h0.9v0.9h-0.9zM162.1 74.56h0.9v0.9h-0.9zM168.4 86.4h0.9v0.9h-0.9zM155.02 109.87h0.9v0.9h-0.9zM165.35 73.62h0.9v0.9h-0.9zM167.94 68.47h0.9v0.9h-0.9zM150.15 112.84h0.9v0.9h-0.9zM152.09 108h0.9v0.9h-0.9zM157.31 101.51h0.9v0.9h-0.9zM157.04 86.87h0.9v0.9h-0.9zM154.15 70.01h0.9v0.9h-0.9zM139 90.04h0.9v0.9h-0.9zM153.71 108.21h0.9v0.9h-0.9zM156.55 72.72h0.9v0.9h-0.9zM144.89 115.41h0.9v0.9h-0.9zM148.3 113.17h0.9v0.9h-0.9zM155.6 93.65h0.9v0.9h-0.9zM153.31 81.62h0.9v0.9h-0.9zM198.63 111.7h0.9v0.9h-0.9zM155.6 117.22h0.9v0.9h-0.9zM145.36 98.62h0.9v0.9h-0.9zM155.58 99.6h0.9v0.9h-0.9zM162.01 119.52h0.9v0.9h-0.9zM152.16 113.56h0.9v0.9h-0.9zM150.63 99.18h0.9v0.9h-0.9zM151.36 77.5h0.9v0.9h-0.9zM156.35 62.56h0.9v0.9h-0.9zM190.9 79.66h0.9v0.9h-0.9zM154.73 77.28h0.9v0.9h-0.9zM147.53 104.55h0.9v0.9h-0.9zM154.88 105.7h0.9v0.9h-0.9zM135.56 73.76h0.9v0.9h-0.9zM178.05 91.97h0.9v0.9h-0.9zM149.21 99.11h0.9v0.9h-0.9zM150.55 118.09h0.9v0.9h-0.9zM155.01 109.16h0.9v0.9h-0.9zM147.62 65.31h0.9v0.9h-0.9zM164.75 68.07h0.9v0.9h-0.9zM187.85 98.28h0.9v0.9h-0.9zM179.3 115.97h0.9v0.9h-0.9zM154.88 74.84h0.9v0.9h-0.9zM147.4 94.07h0.9v0.9h-0.9zM152.73 114.46h0.9v0.9h-0.9zM146.62 105.44h0.9v0.9h-0.9zM152.16 101.15h0.9v0.9h-0.9zM153.82 110.14h0.9v0.9h-0.9zM172.96 117.85h0.9v0.9h-0.9zM146.16 76.93h0.9v0.9h-0.9zM141.42 67.07h0.9v0.9h-0.9zM155.32 109.73h0.9v0.9h-0.9zM181.12 73.34h0.9v0.9h-0.9zM178.81 73.7h0.9v0.9h-0.9zM188.17 105.67h0.9v0.9h-0.9zM185.91 119.54h0.9v0.9h-0.9zM151.28 73.11h0.9v0.9h-0.9zM159.18 79.14h0.9v0.9h-0.9zM175.7 87.31h0.9v0.9h-0.9zM154.96 106.38h0.9v0.9h-0.9zM155.37 112.65h0.9v0.9h-0.9zM161.47 110.63h0.9v0.9h-0.9zM138.13 94.32h0.9v0.9h-0.9zM148.01 75.89h0.9v0.9h-0.9zM152.45 128.1h0.9v0.9h-0.9zM138.56 113.6h0.9v0.9h-0.9zM199.75 115.54h0.9v0.9h-0.9zM192.98 97.67h0.9v0.9h-0.9zM179.94 116.45h0.9v0.9h-0.9zM163.24 90h0.9v0.9h-0.9zM179.17 104.79h0.9v0.9h-0.9zM165.9 110.1h0.9v0.9h-0.9zM175.37 67.16h0.9v0.9h-0.9zM161.4 95.62h0.9v0.9h-0.9zM184.75 107.21h0.9v0.9h-0.9zM171.04 89.23h0.9v0.9h-0.9zM157.98 91.82h0.9v0.9h-0.9zM162.75 64.83h0.9v0.9h-0.9zM151.33 113.52h0.9v0.9h-0.9zM188.33 125.25h0.9v0.9h-0.9zM193.66 83.89h0.9v0.9h-0.9zM151.02 118.56h0.9v0.9h-0.9zM172.43 117.43h0.9v0.9h-0.9zM161.19 101.15h0.9v0.9h-0.9zM188.46 87.56h0.9v0.9h-0.9zM140.89 89.05h0.9v0.9h-0.9zM198.21 117.41h0.9v0.9h-0.9zM138.04 119.5h0.9v0.9h-0.9zM170.86 87.99h0.9v0.9h-0.9zM156.51 122.08h0.9v0.9h-0.9zM139.05 99.95h0.9v0.9h-0.9zM156.59 104.64h0.9v0.9h-0.9z" fill="#bcbcde" fill-opacity="0.7"/>
<path d="M161.62 75.54h0.9v0.9h-0.9zM150.2 101.41h0.9v0.9h-0.9zM158.28 65.64h0.9v0.9h-0.9zM173.97 124.04h0.9v0.9h-0.9zM172.35 80.31h0.9v0.9h-0.9zM154.52 88.38h0.9v0.9h-0.9zM156.6 92.15h0.9v0.9h-0.9zM155.06 74.56h0.9v0.9h-0.9zM191.65 100.94h0.9v0.9h-0.9zM196.43 114.63h0.9v0.9h-0.9zM188.75 81.38h0.9v0.9h-0.9zM176.96 89.67h0.9v0.9h-0.9zM184.23 96.38h0.9v0.9h-0.9zM146.93 75.79h0.9v0.9h-0.9zM154.18 112.89h0.9v0.9h-0.9zM155.96 74.2h0.9v0.9h-0.9zM143.48 125.75h0.9v0.9h-0.9zM178.37 117.81h0.9v0.9h-0.9zM154.08 79.15h0.9v0.9h-0.9zM155.24 75.78h0.9v0.9h-0.9zM157.69 82.28h0.9v0.9h-0.9zM148.67 102.22h0.9v0.9h-0.9zM178.19 72.52h0.9v0.9h-0.9zM158.67 80.5h0.9v0.9h-0.9zM170.49 109.53h0.9v0.9h-0.9zM162.3 81.5h0.9v0.9h-0.9zM159.49 113.33h0.9v0.9h-0.9zM169.84 69.64h0.9v0.9h-0.9zM155.88 89.33h0.9v0.9h-0.9zM178.78 77.59h0.9v0.9h-0.9zM158.46 125.14h0.9v0.9h-0.9zM141.3 97.31h0.9v0.9h-0.9zM168.3 71.24h0.9v0.9h-0.9zM177.22 120.56h0.9v0.9h-0.9zM193.3 84.68h0.9v0.9h-0.9zM150.39 127.69h0.9v0.9h-0.9zM170.16 84.36h0.9v0.9h-0.9zM193.24 101.63h0.9v0.9h-0.9zM151.68 124.9h0.9v0.9h-0.9zM150.36 113.94h0.9v0.9h-0.9zM140.35 73.46h0.9v0.9h-0.9zM155.64 98.87h0.9v0.9h-0.9zM172.55 101.43h0.9v0.9h-0.9zM156.71 125.74h0.9v0.9h-0.9zM154.08 109.84h0.9v0.9h-0.9zM170.74 67.58h0.9v0.9h-0.9zM157.3 78.79h0.9v0.9h-0.9zM195.45 115.87h0.9v0.9h-0.9zM140.63 82.24h0.9v0.9h-0.9zM157.65 80.13h0.9v0.9h-0.9zM148.29 113.15h0.9v0.9h-0.9zM153.61 107.06h0.9v0.9h-0.9zM152.43 108.99h0.9v0.9h-0.9zM166.29 67.87h0.9v0.9h-0.9zM174.11 76.45h0.9v0.9h-0.9zM156.83 106.23h0.9v0.9h-0.9zM165.49 100.74h0.9v0.9h-0.9zM157.41 100.22h0.9v0.9h-0.9zM167.61 117.89h0.9v0.9h-0.9zM171.71 115.32h0.9v0.9h-0.9zM157.14 91.55h0.9v0.9h-0.9zM151.84 70.32h0.9v0.9h-0.9zM144.5 85.99h0.9v0.9h-0.9zM155.75 123.75h0.9v0.9h-0.9zM168.05 81.24h0.9v0.9h-0.9zM152.7 80.47h0.9v0.9h-0.9zM142.16 86.12h0.9v0.9h-0.9zM167.18 79.12h0.9v0.9h-0.9zM158.5 62.42h0.9v0.9h-0.9zM160.16 68.91h0.9v0.9h-0.9zM159.43 103.61h0.9v0.9h-0.9zM159.09 70.79h0.9v0.9h-0.9zM149.48 102.62h0.9v0.9h-0.9zM169.83 94.73h0.9v0.9h-0.9zM159.59 80.94h0.9v0.9h-0.9zM139.44 126.6h0.9v0.9h-0.9zM186.38 117.76h0.9v0.9h-0.9zM157.97 87.53h0.9v0.9h-0.9zM158.87 86.2h0.9v0.9h-0.9zM149.92 119.12h0.9v0.9h-0.9zM165.42 65.07h0.9v0.9h-0.9zM164.07 65.19h0.9v0.9h-0.9zM157.33 105.4h0.9v0.9h-0.9zM152.14 71.55h0.9v0.9h-0.9zM152.45 93.31h0.9v0.9h-0.9zM180.35 82.47h0.9v0.9h-0.9zM153.8 73.17h0.9v0.9h-0.9zM147.25 91.45h0.9v0.9h-0.9zM152.2 60.05h0.9v0.9h-0.9zM159.01 107.44h0.9v0.9h-0.9zM147.88 107.58h0.9v0.9h-0.9zM174.58 66.8h0.9v0.9h-0.9zM152.41 62.19h0.9v0.9h-0.9zM156.92 78.16h0.9v0.9h-0.9z" fill="#c4b6da" fill-opacity="0.7"/>
<path d="M149.75 71.98h0.9v0.9h-0.9zM183.47 101.3h0.9v0.9h-0.9zM146.51 94.39h0.9v0.9h-0.9zM192.53 118.09h0.9v0.9h-0.9zM150.99 103.93h0.9v0.9h-0.9zM191.15 96.79h0.9v0.9h-0.9zM185.84 118.28h0.9v0.9h-0.9zM173.13 111.64h0.9v0.9h-0.9zM195.14 96.9h0.9v0.9h-0.9zM169.35 99.46h0.9v0.9h-0.9zM150.58 102.87h0.9v0.9h-0.9zM159.57 68.56h0.9v0.9h-0.9zM172.08 74.49h0.9v0.9h-0.9zM153.2 112.4h0.9v0.9h-0.9zM169.27 114.7h0.9v0.9h-0.9zM169.66 94.03h0.9v0.9h-0.9zM142.99 82.74h0.9v0.9h-0.9zM142.06 97.31h0.9v0.9h-0.9zM157.85 108.64h0.9v0.9h-0.9zM170.07 127.07h0.9v0.9h-0.9zM168.21 64.73h0.9v0.9h-0.9zM148.73 115.69h0.9v0.9h-0.9zM151.89 101.37h0.9v0.9h-0.9zM157.54 112h0.9v0.9h-0.9zM149.27 102.01h0.9v0.9h-0.9zM149.81 69.98h0.9v0.9h-0.9zM184.27 73.16h0.9v0.9h-0.9zM165.44 71.83h0.9v0.9h-0.9zM171.37 124.81h0.9v0.9h-0.9zM153.33 108.46h0.9v0.9h-0.9zM155.13 112.82h0.9v0.9h-0.9zM156.91 126.28h0.9v0.9h-0.9zM158.42 78.5h0.9v0.9h-0.9zM150.31 108.58h0.9v0.9h-0.9zM157.87 71.11h0.9v0.9h-0.9zM160.82 112.56h0.9v0.9h-0.9zM173.64 72.86h0.9v0.9h-0.9zM191.19 98.03h0.9v0.9h-0.9zM159.79 121.33h0.9v0.9h-0.9zM154.64 91.32h0.9v0.9h-0.9zM162.12 103.61h0.9v0.9h-0.9zM150.88 86.04h0.9v0.9h-0.9zM190.43 99.27h0.9v0.9h-0.9zM162.63 68.22h0.9v0.9h-0.9zM161.85 68.56h0.9v0.9h-0.9zM169.62 83.29h0.9v0.9h-0.9zM186.24 112.68h0.9v0.9h-0.9zM151.94 97.36h0.9v0.9h-0.9zM159.55 100.26h0.9v0.9h-0.9zM162 77.41h0.9v0.9h-0.9zM156.61 76.9h0.9v0.9h-0.9zM167.74 72.11h0.9v0.9h-0.9zM146.08 98.09h0.9v0.9h-0.9zM191.59 126.42h0.9v0.9h-0.9zM146.78 124.05h0.9v0.9h-0.9zM168.83 72.62h0.9v0.9h-0.9zM195.66 120.48h0.9v0.9h-0.9zM171.64 62.16h0.9v0.9h-0.9zM182.13 124.58h0.9v0.9h-0.9zM161.37 66.84h0.9v0.9h-0.9zM167.72 72.56h0.9v0.9h-0.9zM190.5 124.2h0.9v0.9h-0.9zM175.82 120.04h0.9v0.9h-0.9zM144.93 84.03h0.9v0.9h-0.9zM156.17 68.06h0.9v0.9h-0.9zM159.79 95.16h0.9v0.9h-0.9zM165.7 63.49h0.9v0.9h-0.9zM160.38 75.62h0.9v0.9h-0.9zM163.87 79.49h0.9v0.9h-0.9zM183.53 95.95h0.9v0.9h-0.9zM157.45 72.89h0.9v0.9h-0.9zM151.27 91.74h0.9v0.9h-0.9zM158.01 105.21h0.9v0.9h-0.9zM155.44 116.7h0.9v0.9h-0.9zM151.36 117.19h0.9v0.9h-0.9zM138.61 95.49h0.9v0.9h-0.9zM144.39 109.66h0.9v0.9h-0.9zM191.91 114.7h0.9v0.9h-0.9zM189.99 101.06h0.9v0.9h-0.9zM162.82 80.24h0.9v0.9h-0.9zM156.19 103.66h0.9v0.9h-0.9zM141.66 79.7h0.9v0.9h-0.9zM150.64 123.92h0.9v0.9h-0.9zM158.2 116.29h0.9v0.9h-0.9zM168.2 87.11h0.9v0.9h-0.9zM189.8 125.43h0.9v0.9h-0.9zM163.08 87.08h0.9v0.9h-0.9zM156.45 112.78h0.9v0.9h-0.9zM149.37 65.01h0.9v0.9h-0.9zM154.12 106.12h0.9v0.9h-0.9zM172.57 92.4h0.9v0.9h-0.9zM178.7 87.82h0.9v0.9h-0.9zM151.32 71.69h0.9v0.9h-0.9zM168.78 124.64h0.9v0.9h-0.9z" fill="#a4aed8" fill-opacity="0.7"/>
<g fill="#b4c0ee" fill-opacity="0.55" filter="url(#nz0)">
<ellipse cx="156.5" cy="79" rx="21.76" ry="14.72" transform="rotate(-40 156.5 79)"/>
</g>
<g fill="#8aa0e0" fill-opacity="0.75" filter="url(#nz1)">
<ellipse cx="156.5" cy="79" rx="19.04" ry="12.88" transform="rotate(-40 156.5 79)"/>
</g>
<g fill="#5a7ad0" fill-opacity="0.75" filter="url(#nz2)">
<ellipse cx="156.5" cy="79" rx="17" ry="11.5" transform="rotate(-40 156.5 79)"/>
</g>
<g fill="#3a8ad8" filter="url(#bl)">
<ellipse cx="156.5" cy="79" rx="14.28" ry="9.66" transform="rotate(-40 156.5 79)"/>
</g>
<g fill="#38aed0" filter="url(#bl)">
<ellipse cx="156.5" cy="79" rx="11.9" ry="8.05" transform="rotate(-40 156.5 79)"/>
</g>
<g fill="#56bf86" filter="url(#bl)">
<ellipse cx="156.5" cy="79" rx="9.52" ry="6.44" transform="rotate(-40 156.5 79)"/>
<ellipse cx="155" cy="80.5" rx="8.4" ry="6.16" transform="rotate(-20 155 80.5)"/>
<ellipse cx="158" cy="72" rx="6.72" ry="5.04" transform="rotate(-30 158 72)"/>
</g>
<g fill="#8fc944" filter="url(#bl)">
<ellipse cx="156.5" cy="79" rx="7.31" ry="4.95" transform="rotate(-40 156.5 79)"/>
<ellipse cx="155" cy="80.5" rx="6.45" ry="4.73" transform="rotate(-20 155 80.5)"/>
<ellipse cx="158" cy="72" rx="5.16" ry="3.87" transform="rotate(-30 158 72)"/>
</g>
<g fill="#d6cc2e" filter="url(#bl)">
<ellipse cx="155" cy="80.5" rx="4.5" ry="3.3" transform="rotate(-20 155 80.5)"/>
</g>
<g fill="#ec8f22" filter="url(#bl)">
<ellipse cx="155" cy="80.5" rx="2.7" ry="1.98" transform="rotate(-20 155 80.5)"/>
</g>
<g fill="#fff" filter="url(#sp)">
<ellipse cx="156.5" cy="79" rx="17.85" ry="12.08" transform="rotate(-40 156.5 79)"/>
</g>
</g>
<rect x="137.8" y="59.9" width="38" height="36.5" fill="none" stroke="#bca6bc" stroke-width="1"/>
<rect x="172.8" y="96.7" width="27" height="30.5" fill="none" stroke="#bca6bc" stroke-width="1"/>
<path d="M136.8 41.9H222.3V127.2" fill="none" stroke="#a6a6a6" stroke-width="1"/>
<path d="M136.8 41.9V127.2H222.3" fill="none" stroke="#3a3a3a" stroke-width="1.1"/>
<path d="M134.8 49.4h2M135.8 53.9h1M135.8 57.9h1M135.8 61.4h1M134.8 69.1h2M135.8 73.6h1M135.8 77.6h1M135.8 81.1h1M134.8 88.7h2M135.8 93.2h1M135.8 97.2h1M135.8 100.7h1M134.8 108.7h2M135.8 113.2h1M135.8 117.2h1M134.6 118.3h2.2M145.7 127.2v2M154.2 127.2v2M175.4 127.2v2M194.3 127.2v2M213.3 127.2v2M158.8 127.2v1M163.8 127.2v1M167.3 127.2v1M169.8 127.2v1M179.8 127.2v1M184.8 127.2v1M188.3 127.2v1M190.8 127.2v1M198.8 127.2v1M203.8 127.2v1M207.3 127.2v1M209.8 127.2v1" stroke="#444" stroke-width="0.7" fill="none"/>
<g font-size="4.6" fill="#3a3a3a"><text x="134.2" y="50.8" text-anchor="end">10⁵</text><text x="134.2" y="70.5" text-anchor="end">10⁴</text><text x="134.2" y="90.1" text-anchor="end">10³</text><text x="134.2" y="110.1" text-anchor="end">10²</text><text x="134" y="119.7" text-anchor="end">0</text><text x="145.7" y="134.8" text-anchor="middle">0</text><text x="154.2" y="134.8" text-anchor="middle">10³</text><text x="175.4" y="134.8" text-anchor="middle">10⁴</text><text x="194.3" y="134.8" text-anchor="middle">10⁵</text><text x="213.3" y="134.8" text-anchor="middle">10⁶</text></g>
<text x="149.2" y="57.4" font-size="7.1" text-anchor="start" fill="#1a1a1a" >93.1</text>
<text x="204.8" y="113.9" font-size="7.1" text-anchor="start" fill="#1a1a1a" >1.5</text>
<clipPath id="c02"><rect x="232.2" y="41.9" width="85.5" height="85.3"/></clipPath>
<g clip-path="url(#c02)">
<path d="M295 102.57h0.9v0.9h-0.9zM255.35 67.72h0.9v0.9h-0.9zM247.66 118h0.9v0.9h-0.9zM242.17 125.67h0.9v0.9h-0.9zM247.5 97.19h0.9v0.9h-0.9zM287.33 98.93h0.9v0.9h-0.9zM249.74 59.7h0.9v0.9h-0.9zM252.59 86.86h0.9v0.9h-0.9zM255.41 73.62h0.9v0.9h-0.9zM240.57 116.78h0.9v0.9h-0.9zM247.43 81.46h0.9v0.9h-0.9zM237.04 122.11h0.9v0.9h-0.9zM283.07 88.33h0.9v0.9h-0.9zM271.39 93.24h0.9v0.9h-0.9zM238.98 73.06h0.9v0.9h-0.9zM242.87 84.54h0.9v0.9h-0.9zM265.15 102.98h0.9v0.9h-0.9zM235.76 107.12h0.9v0.9h-0.9zM258.9 78.27h0.9v0.9h-0.9zM242.45 74.93h0.9v0.9h-0.9zM260.25 102.19h0.9v0.9h-0.9zM262.64 127.14h0.9v0.9h-0.9zM240.14 101.41h0.9v0.9h-0.9zM254 83.12h0.9v0.9h-0.9zM250.8 93.58h0.9v0.9h-0.9zM276.79 79.3h0.9v0.9h-0.9zM239.05 121.07h0.9v0.9h-0.9zM288.99 103.07h0.9v0.9h-0.9zM277.45 108.38h0.9v0.9h-0.9zM281.5 120.29h0.9v0.9h-0.9zM256.74 83.7h0.9v0.9h-0.9zM253.76 78.62h0.9v0.9h-0.9zM268.28 123.59h0.9v0.9h-0.9zM237.48 89.83h0.9v0.9h-0.9zM289.35 121.21h0.9v0.9h-0.9zM243.83 99.45h0.9v0.9h-0.9zM274.68 114.71h0.9v0.9h-0.9zM248.09 89.37h0.9v0.9h-0.9zM293.17 117.69h0.9v0.9h-0.9zM250.3 72.54h0.9v0.9h-0.9zM235.87 118.95h0.9v0.9h-0.9zM245.46 111.48h0.9v0.9h-0.9z" fill="#aab0d8" fill-opacity="0.7"/>
<path d="M243.45 92.02h0.9v0.9h-0.9zM286.11 124.3h0.9v0.9h-0.9zM241.52 79.78h0.9v0.9h-0.9zM234.03 76.83h0.9v0.9h-0.9zM243.12 113.73h0.9v0.9h-0.9zM233.37 116.44h0.9v0.9h-0.9zM278.72 106.98h0.9v0.9h-0.9zM244.81 88.96h0.9v0.9h-0.9zM258.45 65.39h0.9v0.9h-0.9zM272.65 108.59h0.9v0.9h-0.9zM249.72 71.9h0.9v0.9h-0.9zM248.44 94.25h0.9v0.9h-0.9zM282.93 99.42h0.9v0.9h-0.9zM292.22 109.25h0.9v0.9h-0.9zM243 106.08h0.9v0.9h-0.9zM240 93.26h0.9v0.9h-0.9zM286.67 88.81h0.9v0.9h-0.9zM258.9 107.79h0.9v0.9h-0.9zM240.82 104.28h0.9v0.9h-0.9zM259.77 114.83h0.9v0.9h-0.9zM278.58 92.3h0.9v0.9h-0.9zM244.08 78.34h0.9v0.9h-0.9zM249.1 82.14h0.9v0.9h-0.9zM278.34 124.06h0.9v0.9h-0.9zM241.76 75.98h0.9v0.9h-0.9zM273.38 78.05h0.9v0.9h-0.9zM249.01 84.54h0.9v0.9h-0.9zM293.8 103.82h0.9v0.9h-0.9zM292.22 98.42h0.9v0.9h-0.9zM240 101.51h0.9v0.9h-0.9zM247.02 79.98h0.9v0.9h-0.9zM287.02 88.55h0.9v0.9h-0.9zM289.49 117.51h0.9v0.9h-0.9zM248.04 115.81h0.9v0.9h-0.9zM254.05 85.38h0.9v0.9h-0.9zM293.88 123.51h0.9v0.9h-0.9zM291.53 81.67h0.9v0.9h-0.9zM262.58 81h0.9v0.9h-0.9zM234.59 114.45h0.9v0.9h-0.9zM251.5 77.35h0.9v0.9h-0.9zM250.82 91.25h0.9v0.9h-0.9zM245.51 116.82h0.9v0.9h-0.9z" fill="#9aa2d0" fill-opacity="0.7"/>
<path d="M243.94 67.85h0.9v0.9h-0.9zM258.46 80.8h0.9v0.9h-0.9zM257.05 64.63h0.9v0.9h-0.9zM253.09 98.17h0.9v0.9h-0.9zM239.64 107h0.9v0.9h-0.9zM239.6 106.52h0.9v0.9h-0.9zM246.7 63.91h0.9v0.9h-0.9zM254.97 78.45h0.9v0.9h-0.9zM250.5 75.1h0.9v0.9h-0.9zM269.62 111.02h0.9v0.9h-0.9zM251.55 99.11h0.9v0.9h-0.9zM262.49 106.09h0.9v0.9h-0.9zM272.27 101.97h0.9v0.9h-0.9zM252.83 87.78h0.9v0.9h-0.9zM291.87 90.26h0.9v0.9h-0.9zM282.73 104.22h0.9v0.9h-0.9zM230.23 73.07h0.9v0.9h-0.9zM248.16 79.58h0.9v0.9h-0.9zM241.56 88.77h0.9v0.9h-0.9zM249.17 95.89h0.9v0.9h-0.9zM274.04 90.73h0.9v0.9h-0.9zM285.28 98.96h0.9v0.9h-0.9zM265.8 120.73h0.9v0.9h-0.9zM237.04 114.17h0.9v0.9h-0.9zM284.23 116.75h0.9v0.9h-0.9zM279.72 106.13h0.9v0.9h-0.9zM241.59 99.78h0.9v0.9h-0.9zM242.67 113.29h0.9v0.9h-0.9zM242.34 100.13h0.9v0.9h-0.9zM236.72 96.94h0.9v0.9h-0.9zM251.86 70.91h0.9v0.9h-0.9zM264.15 79.75h0.9v0.9h-0.9zM241.13 93.38h0.9v0.9h-0.9zM247.25 98.08h0.9v0.9h-0.9zM283.73 125.18h0.9v0.9h-0.9zM260.55 123.85h0.9v0.9h-0.9zM246.96 97.99h0.9v0.9h-0.9zM269.08 107.08h0.9v0.9h-0.9zM240.58 119.43h0.9v0.9h-0.9zM258.69 76.48h0.9v0.9h-0.9zM244.55 104.35h0.9v0.9h-0.9zM234.92 81.75h0.9v0.9h-0.9z" fill="#bcbcde" fill-opacity="0.7"/>
<path d="M257.51 82.25h0.9v0.9h-0.9zM252.42 97.25h0.9v0.9h-0.9zM274.04 115.9h0.9v0.9h-0.9zM285.47 125.31h0.9v0.9h-0.9zM261.52 118.83h0.9v0.9h-0.9zM255.14 77.98h0.9v0.9h-0.9zM237.43 117.02h0.9v0.9h-0.9zM237.15 101.79h0.9v0.9h-0.9zM241.89 92.81h0.9v0.9h-0.9zM257.79 69.41h0.9v0.9h-0.9zM283.94 93.32h0.9v0.9h-0.9zM253.64 119.81h0.9v0.9h-0.9zM236.63 103.41h0.9v0.9h-0.9zM283.36 123.49h0.9v0.9h-0.9zM286.34 120.89h0.9v0.9h-0.9zM252.31 79.04h0.9v0.9h-0.9zM246.93 73.91h0.9v0.9h-0.9zM234.33 120.79h0.9v0.9h-0.9zM238.3 87.03h0.9v0.9h-0.9zM253.85 84.05h0.9v0.9h-0.9zM260.6 79.96h0.9v0.9h-0.9zM260.07 120.08h0.9v0.9h-0.9zM252.59 77.74h0.9v0.9h-0.9zM276.52 82.3h0.9v0.9h-0.9zM248.43 70.61h0.9v0.9h-0.9zM285.78 126.33h0.9v0.9h-0.9zM250.13 99.3h0.9v0.9h-0.9zM248.59 93.35h0.9v0.9h-0.9zM269.22 112.82h0.9v0.9h-0.9zM256.91 82.7h0.9v0.9h-0.9zM276.31 115.2h0.9v0.9h-0.9zM240.25 111.15h0.9v0.9h-0.9zM267.78 124.42h0.9v0.9h-0.9zM243.43 97.67h0.9v0.9h-0.9zM261.87 121.79h0.9v0.9h-0.9zM260.32 112.44h0.9v0.9h-0.9zM289.72 95.91h0.9v0.9h-0.9zM276.29 101.32h0.9v0.9h-0.9zM289.6 91.67h0.9v0.9h-0.9zM282 80.18h0.9v0.9h-0.9zM244.73 107.93h0.9v0.9h-0.9z" fill="#c4b6da" fill-opacity="0.7"/>
<path d="M245.2 83.93h0.9v0.9h-0.9zM283.93 121.24h0.9v0.9h-0.9zM258.63 113.1h0.9v0.9h-0.9zM278.83 111.02h0.9v0.9h-0.9zM281.6 104.76h0.9v0.9h-0.9zM256.33 77.56h0.9v0.9h-0.9zM246.23 72.19h0.9v0.9h-0.9zM243.7 102.11h0.9v0.9h-0.9zM277.11 98.99h0.9v0.9h-0.9zM288.47 122.58h0.9v0.9h-0.9zM264.85 114.44h0.9v0.9h-0.9zM251.1 71.14h0.9v0.9h-0.9zM278.07 109.36h0.9v0.9h-0.9zM252.85 76.8h0.9v0.9h-0.9zM236.9 98.53h0.9v0.9h-0.9zM241.56 101.54h0.9v0.9h-0.9zM281.04 109.35h0.9v0.9h-0.9zM262.03 69.45h0.9v0.9h-0.9zM286.12 108.86h0.9v0.9h-0.9zM238.38 112.4h0.9v0.9h-0.9zM277.68 79.86h0.9v0.9h-0.9zM250.35 97.44h0.9v0.9h-0.9zM256.4 99.63h0.9v0.9h-0.9zM258.15 75.38h0.9v0.9h-0.9zM246.51 95.09h0.9v0.9h-0.9zM250.02 78.35h0.9v0.9h-0.9zM251.96 90.94h0.9v0.9h-0.9zM249.28 79.93h0.9v0.9h-0.9zM251.54 64.85h0.9v0.9h-0.9zM238.14 92.3h0.9v0.9h-0.9zM243.7 114.48h0.9v0.9h-0.9zM236.25 102.09h0.9v0.9h-0.9zM249.12 119.53h0.9v0.9h-0.9zM291.6 98.42h0.9v0.9h-0.9zM247.74 122.27h0.9v0.9h-0.9zM282.05 119.57h0.9v0.9h-0.9zM260.91 118.15h0.9v0.9h-0.9zM286.93 106.08h0.9v0.9h-0.9zM284.49 98.8h0.9v0.9h-0.9zM251.03 75.61h0.9v0.9h-0.9zM285.12 120.35h0.9v0.9h-0.9z" fill="#a4aed8" fill-opacity="0.7"/>
<path d="M281.63 116.06h0.9v0.9h-0.9zM278.42 112.41h0.9v0.9h-0.9zM246.8 120.14h0.9v0.9h-0.9zM278.28 125.16h0.9v0.9h-0.9zM243.23 122.2h0.9v0.9h-0.9zM283.52 111.6h0.9v0.9h-0.9zM279.33 112.48h0.9v0.9h-0.9zM283.48 113.28h0.9v0.9h-0.9zM281.05 118.81h0.9v0.9h-0.9zM274.79 111.92h0.9v0.9h-0.9zM283.57 116.43h0.9v0.9h-0.9zM247.25 117.85h0.9v0.9h-0.9zM253.68 118.21h0.9v0.9h-0.9zM251.44 116.63h0.9v0.9h-0.9zM278.26 118.57h0.9v0.9h-0.9zM255.08 116.31h0.9v0.9h-0.9zM275.55 111.17h0.9v0.9h-0.9zM244.09 118.66h0.9v0.9h-0.9zM274.68 122.01h0.9v0.9h-0.9zM246.73 116.53h0.9v0.9h-0.9zM250.36 117.59h0.9v0.9h-0.9zM284.73 119.47h0.9v0.9h-0.9zM250.35 116.9h0.9v0.9h-0.9zM251.49 114.71h0.9v0.9h-0.9zM276.68 119.6h0.9v0.9h-0.9zM277 114.75h0.9v0.9h-0.9zM248.67 117.81h0.9v0.9h-0.9zM274.77 116.06h0.9v0.9h-0.9zM253.85 121.05h0.9v0.9h-0.9z" fill="#4a66c4" fill-opacity="0.75"/>
<path d="M285.62 116.15h0.9v0.9h-0.9zM284.5 111.72h0.9v0.9h-0.9zM278.93 107.03h0.9v0.9h-0.9zM277.93 116.68h0.9v0.9h-0.9zM247.64 112.91h0.9v0.9h-0.9zM244.69 116.04h0.9v0.9h-0.9zM278.27 103.59h0.9v0.9h-0.9zM279.64 122.18h0.9v0.9h-0.9zM282.15 117.13h0.9v0.9h-0.9zM245.21 116.46h0.9v0.9h-0.9zM278.14 105.67h0.9v0.9h-0.9zM247.4 113.84h0.9v0.9h-0.9zM246.62 112.47h0.9v0.9h-0.9zM248.23 111.78h0.9v0.9h-0.9zM277.05 108.82h0.9v0.9h-0.9zM244 120.65h0.9v0.9h-0.9zM244.18 116.71h0.9v0.9h-0.9zM273.53 115.14h0.9v0.9h-0.9zM241.87 122.79h0.9v0.9h-0.9zM278.3 110.55h0.9v0.9h-0.9zM247.69 115.74h0.9v0.9h-0.9zM247.53 117.15h0.9v0.9h-0.9zM272.9 111.4h0.9v0.9h-0.9zM250.12 116.75h0.9v0.9h-0.9zM274.49 108.62h0.9v0.9h-0.9zM278.58 115.89h0.9v0.9h-0.9zM247.93 113.77h0.9v0.9h-0.9zM254.86 110.56h0.9v0.9h-0.9zM247.26 117.07h0.9v0.9h-0.9z" fill="#5c7ad2" fill-opacity="0.75"/>
<path d="M278.57 124.3h0.9v0.9h-0.9zM248.35 124.05h0.9v0.9h-0.9zM278.19 112.52h0.9v0.9h-0.9zM275.3 119.28h0.9v0.9h-0.9zM252.52 117.62h0.9v0.9h-0.9zM277.48 118.25h0.9v0.9h-0.9zM278.05 114.21h0.9v0.9h-0.9zM276.32 111.19h0.9v0.9h-0.9zM244.39 112.13h0.9v0.9h-0.9zM254.32 118.45h0.9v0.9h-0.9zM247.18 114.19h0.9v0.9h-0.9zM250.99 121.87h0.9v0.9h-0.9zM241.05 114.56h0.9v0.9h-0.9zM283.71 117.8h0.9v0.9h-0.9zM256.34 114.48h0.9v0.9h-0.9zM243.59 122.4h0.9v0.9h-0.9zM267.99 113.23h0.9v0.9h-0.9zM277.15 118.86h0.9v0.9h-0.9zM255.65 112.56h0.9v0.9h-0.9zM248.36 119.32h0.9v0.9h-0.9zM246.86 122.92h0.9v0.9h-0.9zM242.09 113.43h0.9v0.9h-0.9zM247.93 115.36h0.9v0.9h-0.9zM244.37 116.28h0.9v0.9h-0.9zM247.97 120.48h0.9v0.9h-0.9zM273.76 109.58h0.9v0.9h-0.9zM242.26 118.84h0.9v0.9h-0.9zM248.33 113.61h0.9v0.9h-0.9z" fill="#7088d6" fill-opacity="0.75"/>
<path d="M250.01 115.38h0.9v0.9h-0.9zM249.1 118.61h0.9v0.9h-0.9zM247.63 113.18h0.9v0.9h-0.9zM246.66 111.64h0.9v0.9h-0.9zM244.94 111.39h0.9v0.9h-0.9zM245.79 119.98h0.9v0.9h-0.9zM278.02 111.96h0.9v0.9h-0.9zM244.89 120.98h0.9v0.9h-0.9zM247.94 121.8h0.9v0.9h-0.9zM245.09 117.76h0.9v0.9h-0.9zM240.92 114.55h0.9v0.9h-0.9zM283.82 122.25h0.9v0.9h-0.9zM272.46 124.66h0.9v0.9h-0.9zM246.24 122.55h0.9v0.9h-0.9zM273.07 111.73h0.9v0.9h-0.9zM254.62 120.46h0.9v0.9h-0.9zM280.08 115.42h0.9v0.9h-0.9zM251.54 116.4h0.9v0.9h-0.9zM274.34 107.18h0.9v0.9h-0.9zM284.87 114.09h0.9v0.9h-0.9zM282.64 110.99h0.9v0.9h-0.9zM250.98 115.55h0.9v0.9h-0.9zM246.99 118.62h0.9v0.9h-0.9zM277.25 112.07h0.9v0.9h-0.9zM250.52 114.52h0.9v0.9h-0.9zM242 116.88h0.9v0.9h-0.9zM271.95 120.96h0.9v0.9h-0.9zM244.19 122.45h0.9v0.9h-0.9z" fill="#3e5ab4" fill-opacity="0.75"/>
<path d="M279.82 104.59h0.9v0.9h-0.9zM279.25 116.54h0.9v0.9h-0.9zM275.34 114.9h0.9v0.9h-0.9zM270.38 113.58h0.9v0.9h-0.9zM282.4 111.47h0.9v0.9h-0.9zM275.36 111.06h0.9v0.9h-0.9zM247.77 118.78h0.9v0.9h-0.9zM246.23 117.33h0.9v0.9h-0.9zM278.95 115.48h0.9v0.9h-0.9zM277.46 106.57h0.9v0.9h-0.9zM279.73 113.78h0.9v0.9h-0.9zM241.92 115.56h0.9v0.9h-0.9zM278.66 117.11h0.9v0.9h-0.9zM241.35 114.86h0.9v0.9h-0.9zM249.44 112.71h0.9v0.9h-0.9zM246.4 119.74h0.9v0.9h-0.9zM246.32 116.18h0.9v0.9h-0.9zM274.69 110.34h0.9v0.9h-0.9zM246.13 125.44h0.9v0.9h-0.9zM274.03 115.06h0.9v0.9h-0.9zM254.03 118.04h0.9v0.9h-0.9zM250.56 113.81h0.9v0.9h-0.9zM276.99 112.3h0.9v0.9h-0.9zM250.48 121.31h0.9v0.9h-0.9zM269.37 123.46h0.9v0.9h-0.9zM283.84 116.05h0.9v0.9h-0.9zM243.11 115.28h0.9v0.9h-0.9zM248.34 115.51h0.9v0.9h-0.9z" fill="#8aa0dc" fill-opacity="0.75"/>
<path d="M249.03 115.3h0.9v0.9h-0.9zM276.39 106.92h0.9v0.9h-0.9zM242.97 116.64h0.9v0.9h-0.9zM285.15 122.22h0.9v0.9h-0.9zM250.27 111.51h0.9v0.9h-0.9zM279.38 114.24h0.9v0.9h-0.9zM251.02 119.88h0.9v0.9h-0.9zM243.4 116h0.9v0.9h-0.9zM281.86 114.87h0.9v0.9h-0.9zM282.95 114.51h0.9v0.9h-0.9zM251.17 118.47h0.9v0.9h-0.9zM249.46 117.29h0.9v0.9h-0.9zM279.29 108h0.9v0.9h-0.9zM245.51 117.08h0.9v0.9h-0.9zM275.55 108.37h0.9v0.9h-0.9zM272.49 115.17h0.9v0.9h-0.9zM250.65 119.44h0.9v0.9h-0.9zM248.45 115.51h0.9v0.9h-0.9zM273.42 121.21h0.9v0.9h-0.9zM248.9 111.05h0.9v0.9h-0.9zM278.88 114.54h0.9v0.9h-0.9zM279.88 115h0.9v0.9h-0.9zM252.63 116.93h0.9v0.9h-0.9zM282.88 124.52h0.9v0.9h-0.9zM277.22 106.62h0.9v0.9h-0.9zM287.44 109.43h0.9v0.9h-0.9zM246.55 117.61h0.9v0.9h-0.9zM279.61 121.58h0.9v0.9h-0.9z" fill="#a0b0e0" fill-opacity="0.75"/>
<g fill="#b4c0ee" fill-opacity="0.55" filter="url(#nz0)">
<ellipse cx="250" cy="79.5" rx="10.88" ry="17.92" transform="rotate(12 250 79.5)"/>
<ellipse cx="257" cy="82" rx="8.96" ry="14.08" transform="rotate(10 257 82)"/>
</g>
<g fill="#8aa0e0" fill-opacity="0.75" filter="url(#nz1)">
<ellipse cx="250" cy="79.5" rx="9.52" ry="15.68" transform="rotate(12 250 79.5)"/>
</g>
<g fill="#5a7ad0" fill-opacity="0.75" filter="url(#nz2)">
<ellipse cx="250" cy="79.5" rx="8.5" ry="14" transform="rotate(12 250 79.5)"/>
</g>
<g fill="#3a8ad8" filter="url(#bl)">
<ellipse cx="250" cy="79.5" rx="7.14" ry="11.76" transform="rotate(12 250 79.5)"/>
</g>
<g fill="#38aed0" filter="url(#bl)">
<ellipse cx="250" cy="79.5" rx="5.95" ry="9.8" transform="rotate(12 250 79.5)"/>
</g>
<g fill="#56bf86" filter="url(#bl)">
<ellipse cx="250" cy="79.5" rx="4.76" ry="7.84" transform="rotate(12 250 79.5)"/>
<ellipse cx="248.5" cy="82.5" rx="6.16" ry="5.04" transform="rotate(0 248.5 82.5)"/>
<ellipse cx="251" cy="73" rx="5.6" ry="5.04" transform="rotate(0 251 73)"/>
</g>
<g fill="#8fc944" filter="url(#bl)">
<ellipse cx="250" cy="79.5" rx="3.65" ry="6.02" transform="rotate(12 250 79.5)"/>
<ellipse cx="248.5" cy="82.5" rx="4.73" ry="3.87" transform="rotate(0 248.5 82.5)"/>
<ellipse cx="251" cy="73" rx="4.3" ry="3.87" transform="rotate(0 251 73)"/>
</g>
<g fill="#d6cc2e" filter="url(#bl)">
<ellipse cx="248.5" cy="82.5" rx="3.3" ry="2.7" transform="rotate(0 248.5 82.5)"/>
<ellipse cx="251" cy="73" rx="3" ry="2.7" transform="rotate(0 251 73)"/>
</g>
<g fill="#ec8f22" filter="url(#bl)">
<ellipse cx="248.5" cy="82.5" rx="1.98" ry="1.62" transform="rotate(0 248.5 82.5)"/>
</g>
<g fill="#fff" filter="url(#sp)">
<ellipse cx="250" cy="79.5" rx="8.93" ry="14.7" transform="rotate(12 250 79.5)"/>
</g>
</g>
<rect x="233.2" y="59.9" width="38" height="36.5" fill="none" stroke="#bca6bc" stroke-width="1"/>
<rect x="268.2" y="96.7" width="27" height="30.5" fill="none" stroke="#bca6bc" stroke-width="1"/>
<path d="M232.2 41.9H317.7V127.2" fill="none" stroke="#a6a6a6" stroke-width="1"/>
<path d="M232.2 41.9V127.2H317.7" fill="none" stroke="#3a3a3a" stroke-width="1.1"/>
<path d="M230.2 49.4h2M231.2 53.9h1M231.2 57.9h1M231.2 61.4h1M230.2 69.1h2M231.2 73.6h1M231.2 77.6h1M231.2 81.1h1M230.2 88.7h2M231.2 93.2h1M231.2 97.2h1M231.2 100.7h1M230.2 108.7h2M231.2 113.2h1M231.2 117.2h1M230 118.3h2.2M241.1 127.2v2M249.6 127.2v2M270.8 127.2v2M289.7 127.2v2M308.7 127.2v2M254.2 127.2v1M259.2 127.2v1M262.7 127.2v1M265.2 127.2v1M275.2 127.2v1M280.2 127.2v1M283.7 127.2v1M286.2 127.2v1M294.2 127.2v1M299.2 127.2v1M302.7 127.2v1M305.2 127.2v1" stroke="#444" stroke-width="0.7" fill="none"/>
<g font-size="4.6" fill="#3a3a3a"><text x="229.6" y="50.8" text-anchor="end">10⁵</text><text x="229.6" y="70.5" text-anchor="end">10⁴</text><text x="229.6" y="90.1" text-anchor="end">10³</text><text x="229.6" y="110.1" text-anchor="end">10²</text><text x="229.4" y="119.7" text-anchor="end">0</text><text x="241.1" y="134.8" text-anchor="middle">0</text><text x="249.6" y="134.8" text-anchor="middle">10³</text><text x="270.8" y="134.8" text-anchor="middle">10⁴</text><text x="289.7" y="134.8" text-anchor="middle">10⁵</text><text x="308.7" y="134.8" text-anchor="middle">10⁶</text></g>
<text x="244.9" y="57.4" font-size="7.1" text-anchor="start" fill="#1a1a1a" >93.5</text>
<text x="299.4" y="113.9" font-size="7.1" text-anchor="start" fill="#1a1a1a" >1.99</text>
<clipPath id="c03"><rect x="327.5" y="41.9" width="85.5" height="85.3"/></clipPath>
<g clip-path="url(#c03)">
<path d="M337.82 78.72h0.9v0.9h-0.9zM343.79 74.83h0.9v0.9h-0.9zM330.77 110.68h0.9v0.9h-0.9zM345.76 77.94h0.9v0.9h-0.9zM347.25 77.6h0.9v0.9h-0.9zM364.91 123.85h0.9v0.9h-0.9zM341.86 84.89h0.9v0.9h-0.9zM330.33 126.4h0.9v0.9h-0.9zM385.39 119.89h0.9v0.9h-0.9zM382.95 108.62h0.9v0.9h-0.9zM354.79 122.32h0.9v0.9h-0.9zM340.58 119.88h0.9v0.9h-0.9zM354.22 74.3h0.9v0.9h-0.9zM378.81 124.53h0.9v0.9h-0.9zM378.33 80.71h0.9v0.9h-0.9zM364.45 116.83h0.9v0.9h-0.9zM340.46 73.6h0.9v0.9h-0.9zM364.88 120.21h0.9v0.9h-0.9zM377.35 121.57h0.9v0.9h-0.9zM380.11 106.4h0.9v0.9h-0.9zM366.88 79.24h0.9v0.9h-0.9zM383.07 106.43h0.9v0.9h-0.9zM334.58 102.19h0.9v0.9h-0.9zM337.73 69.06h0.9v0.9h-0.9zM356.24 86.49h0.9v0.9h-0.9zM384.41 122.87h0.9v0.9h-0.9zM372.7 112.65h0.9v0.9h-0.9zM359.78 63.44h0.9v0.9h-0.9zM346.8 106.18h0.9v0.9h-0.9zM336.36 82.04h0.9v0.9h-0.9zM349.16 75.86h0.9v0.9h-0.9zM346.45 103.31h0.9v0.9h-0.9zM368.13 101.46h0.9v0.9h-0.9zM338.36 64.37h0.9v0.9h-0.9zM341.42 122.66h0.9v0.9h-0.9zM361.72 82.21h0.9v0.9h-0.9zM349.34 109.39h0.9v0.9h-0.9zM333.44 115.24h0.9v0.9h-0.9zM360.82 80.2h0.9v0.9h-0.9zM325.36 82.57h0.9v0.9h-0.9zM347.59 81.66h0.9v0.9h-0.9zM359.06 78.63h0.9v0.9h-0.9zM352.34 118.17h0.9v0.9h-0.9zM359.12 106.99h0.9v0.9h-0.9zM331.39 99.58h0.9v0.9h-0.9zM372.08 123.6h0.9v0.9h-0.9zM374.8 118.27h0.9v0.9h-0.9zM372.91 77.6h0.9v0.9h-0.9zM375.18 94.68h0.9v0.9h-0.9zM381.13 86.9h0.9v0.9h-0.9zM351.81 120.13h0.9v0.9h-0.9zM336.05 122.35h0.9v0.9h-0.9zM378.17 80.92h0.9v0.9h-0.9zM366.91 81.15h0.9v0.9h-0.9zM350.79 75.76h0.9v0.9h-0.9zM349.57 82.49h0.9v0.9h-0.9z" fill="#aab0d8" fill-opacity="0.7"/>
<path d="M341.05 75.26h0.9v0.9h-0.9zM336.77 97.63h0.9v0.9h-0.9zM366.69 95.79h0.9v0.9h-0.9zM340.36 118.23h0.9v0.9h-0.9zM367.34 93.4h0.9v0.9h-0.9zM340.66 87.37h0.9v0.9h-0.9zM375.73 79.86h0.9v0.9h-0.9zM361.45 84.09h0.9v0.9h-0.9zM344.37 82.45h0.9v0.9h-0.9zM348.67 88h0.9v0.9h-0.9zM358.68 83.62h0.9v0.9h-0.9zM386.52 116.91h0.9v0.9h-0.9zM340.11 98.63h0.9v0.9h-0.9zM357.93 69.09h0.9v0.9h-0.9zM382.76 117.23h0.9v0.9h-0.9zM373.95 121.35h0.9v0.9h-0.9zM355.84 108.84h0.9v0.9h-0.9zM335.23 102.47h0.9v0.9h-0.9zM390.44 103.81h0.9v0.9h-0.9zM344.51 119.65h0.9v0.9h-0.9zM369.76 107.32h0.9v0.9h-0.9zM349.86 81.14h0.9v0.9h-0.9zM350.31 85.6h0.9v0.9h-0.9zM371.16 84.78h0.9v0.9h-0.9zM378.48 92.83h0.9v0.9h-0.9zM364.36 124.47h0.9v0.9h-0.9zM361.27 81.12h0.9v0.9h-0.9zM388.22 111.78h0.9v0.9h-0.9zM356.44 122.26h0.9v0.9h-0.9zM355.61 106.46h0.9v0.9h-0.9zM357.34 73.47h0.9v0.9h-0.9zM353.04 75.32h0.9v0.9h-0.9zM376.98 86.11h0.9v0.9h-0.9zM358.33 83.04h0.9v0.9h-0.9zM355.32 68.8h0.9v0.9h-0.9zM387.56 110.78h0.9v0.9h-0.9zM350.86 89.43h0.9v0.9h-0.9zM371.78 112.19h0.9v0.9h-0.9zM341.59 104.06h0.9v0.9h-0.9zM346.64 82.05h0.9v0.9h-0.9zM381.77 93.73h0.9v0.9h-0.9zM377.94 120.53h0.9v0.9h-0.9zM388.97 113.79h0.9v0.9h-0.9zM369.61 102.5h0.9v0.9h-0.9zM365.52 116.87h0.9v0.9h-0.9zM367.05 77.65h0.9v0.9h-0.9zM366.09 79.17h0.9v0.9h-0.9zM331.07 107.47h0.9v0.9h-0.9zM370.13 77.11h0.9v0.9h-0.9zM335.44 111.14h0.9v0.9h-0.9zM340.51 81.38h0.9v0.9h-0.9zM376.74 79.68h0.9v0.9h-0.9zM361.33 88.03h0.9v0.9h-0.9zM384.76 119.59h0.9v0.9h-0.9zM353.18 81.1h0.9v0.9h-0.9zM362.81 90.33h0.9v0.9h-0.9z" fill="#9aa2d0" fill-opacity="0.7"/>
<path d="M337.01 82.9h0.9v0.9h-0.9zM338.71 119.55h0.9v0.9h-0.9zM343.58 76.64h0.9v0.9h-0.9zM345.69 85.4h0.9v0.9h-0.9zM361.53 88.07h0.9v0.9h-0.9zM377.37 110.52h0.9v0.9h-0.9zM385.16 97.74h0.9v0.9h-0.9zM378.4 99.68h0.9v0.9h-0.9zM360.02 120.69h0.9v0.9h-0.9zM349.23 120.2h0.9v0.9h-0.9zM372.02 92.87h0.9v0.9h-0.9zM332.6 115.97h0.9v0.9h-0.9zM355.98 118.67h0.9v0.9h-0.9zM382.4 106.48h0.9v0.9h-0.9zM336.51 97.61h0.9v0.9h-0.9zM363.84 117.38h0.9v0.9h-0.9zM367.52 74.86h0.9v0.9h-0.9zM375.18 95.09h0.9v0.9h-0.9zM348.12 97.78h0.9v0.9h-0.9zM382.17 95.55h0.9v0.9h-0.9zM352.86 70.82h0.9v0.9h-0.9zM356.81 90.33h0.9v0.9h-0.9zM359.95 100.88h0.9v0.9h-0.9zM376.72 94.08h0.9v0.9h-0.9zM365.3 121.25h0.9v0.9h-0.9zM336.77 102.21h0.9v0.9h-0.9zM358.44 81.42h0.9v0.9h-0.9zM331.59 78.65h0.9v0.9h-0.9zM344.36 98.41h0.9v0.9h-0.9zM328.96 125.19h0.9v0.9h-0.9zM382.48 76.5h0.9v0.9h-0.9zM374.47 104.16h0.9v0.9h-0.9zM385.56 116.42h0.9v0.9h-0.9zM335.64 104.43h0.9v0.9h-0.9zM340.73 70.98h0.9v0.9h-0.9zM343.3 105.84h0.9v0.9h-0.9zM355.29 80.32h0.9v0.9h-0.9zM354.08 84.2h0.9v0.9h-0.9zM383.92 120.22h0.9v0.9h-0.9zM339.71 85.97h0.9v0.9h-0.9zM379.2 92.97h0.9v0.9h-0.9zM380.34 110.15h0.9v0.9h-0.9zM356.08 62.68h0.9v0.9h-0.9zM335.7 83.62h0.9v0.9h-0.9zM351.7 69.25h0.9v0.9h-0.9zM366.88 75.17h0.9v0.9h-0.9zM337.79 98.82h0.9v0.9h-0.9zM339.51 121.48h0.9v0.9h-0.9zM367.09 122.9h0.9v0.9h-0.9zM362.68 78.87h0.9v0.9h-0.9zM344.29 73.14h0.9v0.9h-0.9zM325.62 77.78h0.9v0.9h-0.9zM372.09 77.58h0.9v0.9h-0.9zM356.08 71.96h0.9v0.9h-0.9zM340.77 80.92h0.9v0.9h-0.9zM352.76 117.4h0.9v0.9h-0.9z" fill="#bcbcde" fill-opacity="0.7"/>
<path d="M344.66 84.03h0.9v0.9h-0.9zM388.96 125.38h0.9v0.9h-0.9zM333.11 123.2h0.9v0.9h-0.9zM354.27 87.12h0.9v0.9h-0.9zM363.13 121.3h0.9v0.9h-0.9zM353.13 77.83h0.9v0.9h-0.9zM350.29 121.89h0.9v0.9h-0.9zM359.49 68.33h0.9v0.9h-0.9zM363.6 92.64h0.9v0.9h-0.9zM356.31 76.37h0.9v0.9h-0.9zM331.03 111.22h0.9v0.9h-0.9zM349.46 74.95h0.9v0.9h-0.9zM368.81 81.71h0.9v0.9h-0.9zM366.28 85.28h0.9v0.9h-0.9zM371.79 104.17h0.9v0.9h-0.9zM338.77 106.75h0.9v0.9h-0.9zM349.14 79.8h0.9v0.9h-0.9zM330.8 101.51h0.9v0.9h-0.9zM353.63 110.66h0.9v0.9h-0.9zM367.6 83.05h0.9v0.9h-0.9zM330.1 124.08h0.9v0.9h-0.9zM340.01 89.2h0.9v0.9h-0.9zM345.02 110.09h0.9v0.9h-0.9zM379.2 86.99h0.9v0.9h-0.9zM381.93 116.89h0.9v0.9h-0.9zM380.69 94.48h0.9v0.9h-0.9zM360.95 104.9h0.9v0.9h-0.9zM365.21 117.63h0.9v0.9h-0.9zM376.36 106.32h0.9v0.9h-0.9zM349.57 75.49h0.9v0.9h-0.9zM345.33 78.69h0.9v0.9h-0.9zM365.87 124.85h0.9v0.9h-0.9zM356.68 108.91h0.9v0.9h-0.9zM372.3 110.14h0.9v0.9h-0.9zM358.95 117.68h0.9v0.9h-0.9zM376.34 84.35h0.9v0.9h-0.9zM356.29 110.6h0.9v0.9h-0.9zM330.72 83.21h0.9v0.9h-0.9zM336.93 90.35h0.9v0.9h-0.9zM341.98 78.7h0.9v0.9h-0.9zM330.67 110.93h0.9v0.9h-0.9zM357.77 77.03h0.9v0.9h-0.9zM368.16 106.59h0.9v0.9h-0.9zM371.17 125.47h0.9v0.9h-0.9zM354.21 81.65h0.9v0.9h-0.9zM340 112.1h0.9v0.9h-0.9zM329.08 106.33h0.9v0.9h-0.9zM363.45 87.34h0.9v0.9h-0.9zM345.05 83.59h0.9v0.9h-0.9zM364.56 98.04h0.9v0.9h-0.9zM352.93 78.67h0.9v0.9h-0.9zM367.41 118.03h0.9v0.9h-0.9zM353.07 70.27h0.9v0.9h-0.9zM366.25 72.76h0.9v0.9h-0.9zM371.89 76.67h0.9v0.9h-0.9zM367.97 88.22h0.9v0.9h-0.9z" fill="#c4b6da" fill-opacity="0.7"/>
<path d="M364.14 68.86h0.9v0.9h-0.9zM381.6 112.96h0.9v0.9h-0.9zM345.98 91.96h0.9v0.9h-0.9zM346.05 112.71h0.9v0.9h-0.9zM374.02 83.44h0.9v0.9h-0.9zM389.14 106.04h0.9v0.9h-0.9zM338.73 113.57h0.9v0.9h-0.9zM386.92 112.45h0.9v0.9h-0.9zM382.61 107.88h0.9v0.9h-0.9zM363.02 127.06h0.9v0.9h-0.9zM336.1 83.06h0.9v0.9h-0.9zM352.02 75.44h0.9v0.9h-0.9zM356.78 81.98h0.9v0.9h-0.9zM386.51 125.32h0.9v0.9h-0.9zM361.66 86.76h0.9v0.9h-0.9zM360.39 75.58h0.9v0.9h-0.9zM367.24 75.36h0.9v0.9h-0.9zM378.42 74.44h0.9v0.9h-0.9zM383.19 122.61h0.9v0.9h-0.9zM345.68 77.51h0.9v0.9h-0.9zM377.04 93.48h0.9v0.9h-0.9zM350.53 104.33h0.9v0.9h-0.9zM371.99 63.97h0.9v0.9h-0.9zM334.63 78.7h0.9v0.9h-0.9zM329.56 106.61h0.9v0.9h-0.9zM374.13 81.35h0.9v0.9h-0.9zM340.33 81.52h0.9v0.9h-0.9zM382.46 94.3h0.9v0.9h-0.9zM350.2 84.83h0.9v0.9h-0.9zM385.6 115.19h0.9v0.9h-0.9zM350.01 80.13h0.9v0.9h-0.9zM364.07 65.12h0.9v0.9h-0.9zM364.91 69.77h0.9v0.9h-0.9zM351.55 84.36h0.9v0.9h-0.9zM337.03 72.81h0.9v0.9h-0.9zM373.88 86.13h0.9v0.9h-0.9zM357.44 81.46h0.9v0.9h-0.9zM382.27 126.48h0.9v0.9h-0.9zM347.64 82.37h0.9v0.9h-0.9zM352.64 77.01h0.9v0.9h-0.9zM334.33 86.45h0.9v0.9h-0.9zM331.5 104.44h0.9v0.9h-0.9zM351.21 101.85h0.9v0.9h-0.9zM344.81 79.85h0.9v0.9h-0.9zM380.18 108.85h0.9v0.9h-0.9zM340.13 73.36h0.9v0.9h-0.9zM356.28 89.19h0.9v0.9h-0.9zM372.57 73.19h0.9v0.9h-0.9zM365.02 96.9h0.9v0.9h-0.9zM344.9 121.58h0.9v0.9h-0.9zM364.98 124.05h0.9v0.9h-0.9zM362.87 84.94h0.9v0.9h-0.9zM384.76 104.61h0.9v0.9h-0.9zM382.83 119.2h0.9v0.9h-0.9zM374.12 103.02h0.9v0.9h-0.9zM358.69 83.73h0.9v0.9h-0.9z" fill="#a4aed8" fill-opacity="0.7"/>
<g fill="#b4c0ee" fill-opacity="0.55" filter="url(#nz0)">
<ellipse cx="349" cy="83.5" rx="20.48" ry="16" transform="rotate(-8 349 83.5)"/>
<ellipse cx="362" cy="72" rx="11.52" ry="10.24" transform="rotate(0 362 72)"/>
</g>
<g fill="#8aa0e0" fill-opacity="0.75" filter="url(#nz1)">
<ellipse cx="349" cy="83.5" rx="17.92" ry="14" transform="rotate(-8 349 83.5)"/>
</g>
<g fill="#5a7ad0" fill-opacity="0.75" filter="url(#nz2)">
<ellipse cx="349" cy="83.5" rx="16" ry="12.5" transform="rotate(-8 349 83.5)"/>
</g>
<g fill="#3a8ad8" filter="url(#bl)">
<ellipse cx="349" cy="83.5" rx="13.44" ry="10.5" transform="rotate(-8 349 83.5)"/>
<ellipse cx="346.5" cy="79" rx="14.28" ry="8.4" transform="rotate(0 346.5 79)"/>
<ellipse cx="348.6" cy="88.5" rx="15.12" ry="7.98" transform="rotate(0 348.6 88.5)"/>
</g>
<g fill="#38aed0" filter="url(#bl)">
<ellipse cx="349" cy="83.5" rx="11.2" ry="8.75" transform="rotate(-8 349 83.5)"/>
<ellipse cx="346.5" cy="79" rx="11.9" ry="7" transform="rotate(0 346.5 79)"/>
<ellipse cx="348.6" cy="88.5" rx="12.6" ry="6.65" transform="rotate(0 348.6 88.5)"/>
</g>
<g fill="#56bf86" filter="url(#bl)">
<ellipse cx="346.5" cy="79" rx="9.52" ry="5.6" transform="rotate(0 346.5 79)"/>
<ellipse cx="348.6" cy="88.5" rx="10.08" ry="5.32" transform="rotate(0 348.6 88.5)"/>
</g>
<g fill="#8fc944" filter="url(#bl)">
<ellipse cx="346.5" cy="79" rx="7.31" ry="4.3" transform="rotate(0 346.5 79)"/>
<ellipse cx="348.6" cy="88.5" rx="7.74" ry="4.08" transform="rotate(0 348.6 88.5)"/>
</g>
<g fill="#d6cc2e" filter="url(#bl)">
<ellipse cx="346.5" cy="79" rx="5.1" ry="3" transform="rotate(0 346.5 79)"/>
<ellipse cx="348.6" cy="88.5" rx="5.4" ry="2.85" transform="rotate(0 348.6 88.5)"/>
</g>
<g fill="#ec8f22" filter="url(#bl)">
<ellipse cx="346.5" cy="79" rx="3.06" ry="1.8" transform="rotate(0 346.5 79)"/>
</g>
<g fill="#fff" filter="url(#sp)">
<ellipse cx="349" cy="83.5" rx="16.8" ry="13.12" transform="rotate(-8 349 83.5)"/>
</g>
</g>
<rect x="328.5" y="59.9" width="38" height="36.5" fill="none" stroke="#bca6bc" stroke-width="1"/>
<rect x="363.5" y="96.7" width="27" height="30.5" fill="none" stroke="#bca6bc" stroke-width="1"/>
<path d="M327.5 41.9H413V127.2" fill="none" stroke="#a6a6a6" stroke-width="1"/>
<path d="M327.5 41.9V127.2H413" fill="none" stroke="#3a3a3a" stroke-width="1.1"/>
<path d="M325.5 49.4h2M326.5 53.9h1M326.5 57.9h1M326.5 61.4h1M325.5 69.1h2M326.5 73.6h1M326.5 77.6h1M326.5 81.1h1M325.5 88.7h2M326.5 93.2h1M326.5 97.2h1M326.5 100.7h1M325.5 108.7h2M326.5 113.2h1M326.5 117.2h1M325.3 118.3h2.2M336.4 127.2v2M344.9 127.2v2M366.1 127.2v2M385 127.2v2M404 127.2v2M349.5 127.2v1M354.5 127.2v1M358 127.2v1M360.5 127.2v1M370.5 127.2v1M375.5 127.2v1M379 127.2v1M381.5 127.2v1M389.5 127.2v1M394.5 127.2v1M398 127.2v1M400.5 127.2v1" stroke="#444" stroke-width="0.7" fill="none"/>
<g font-size="4.6" fill="#3a3a3a"><text x="324.9" y="50.8" text-anchor="end">10⁵</text><text x="324.9" y="70.5" text-anchor="end">10⁴</text><text x="324.9" y="90.1" text-anchor="end">10³</text><text x="324.9" y="110.1" text-anchor="end">10²</text><text x="324.7" y="119.7" text-anchor="end">0</text><text x="336.4" y="134.8" text-anchor="middle">0</text><text x="344.9" y="134.8" text-anchor="middle">10³</text><text x="366.1" y="134.8" text-anchor="middle">10⁴</text><text x="385" y="134.8" text-anchor="middle">10⁵</text><text x="404" y="134.8" text-anchor="middle">10⁶</text></g>
<text x="340.3" y="57.4" font-size="7.1" text-anchor="start" fill="#1a1a1a" >95.4</text>
<text x="397.2" y="113.9" font-size="7.1" text-anchor="start" fill="#1a1a1a" >1.7</text>
<clipPath id="c10"><rect x="41.5" y="136.7" width="85.5" height="85.3"/></clipPath>
<g clip-path="url(#c10)">
<path d="M80.91 202.84h0.9v0.9h-0.9zM68.35 164.43h0.9v0.9h-0.9zM86.38 221.48h0.9v0.9h-0.9zM76.65 190.66h0.9v0.9h-0.9zM72.94 164.43h0.9v0.9h-0.9zM100.35 201.42h0.9v0.9h-0.9zM49.2 206.72h0.9v0.9h-0.9zM60.67 214.07h0.9v0.9h-0.9zM64.43 194.93h0.9v0.9h-0.9zM63 202.3h0.9v0.9h-0.9zM90.28 193.14h0.9v0.9h-0.9zM70.52 172.02h0.9v0.9h-0.9zM70.36 203.33h0.9v0.9h-0.9zM69.85 189.1h0.9v0.9h-0.9zM53.72 207.04h0.9v0.9h-0.9zM64.47 198.66h0.9v0.9h-0.9zM97.06 209.28h0.9v0.9h-0.9zM81.15 212.16h0.9v0.9h-0.9zM93.63 208.79h0.9v0.9h-0.9zM84.23 198.95h0.9v0.9h-0.9zM67.63 218.37h0.9v0.9h-0.9zM84.75 190.22h0.9v0.9h-0.9zM61.82 221.86h0.9v0.9h-0.9zM75.29 180.84h0.9v0.9h-0.9zM73.19 179.85h0.9v0.9h-0.9zM56.18 181.87h0.9v0.9h-0.9zM67.64 159.67h0.9v0.9h-0.9zM76.53 198.1h0.9v0.9h-0.9zM68.79 174.67h0.9v0.9h-0.9zM65.35 206.32h0.9v0.9h-0.9zM78.85 216.21h0.9v0.9h-0.9zM94.9 166.09h0.9v0.9h-0.9zM66.29 197.34h0.9v0.9h-0.9zM60.71 184.27h0.9v0.9h-0.9zM68.61 198.96h0.9v0.9h-0.9zM95.1 205.76h0.9v0.9h-0.9zM77.67 185.78h0.9v0.9h-0.9zM88.89 159.3h0.9v0.9h-0.9zM95.75 192.04h0.9v0.9h-0.9zM51.12 211.85h0.9v0.9h-0.9zM70.03 208.11h0.9v0.9h-0.9zM50.43 203.29h0.9v0.9h-0.9zM76 159.46h0.9v0.9h-0.9zM80.94 219.23h0.9v0.9h-0.9zM89.65 172.34h0.9v0.9h-0.9zM73.39 194.92h0.9v0.9h-0.9zM102.71 207.12h0.9v0.9h-0.9zM78.42 197.72h0.9v0.9h-0.9zM89.57 208.7h0.9v0.9h-0.9zM80.93 191.34h0.9v0.9h-0.9zM71.64 165.79h0.9v0.9h-0.9zM75.19 221.4h0.9v0.9h-0.9zM101.86 196.04h0.9v0.9h-0.9zM57.49 194.17h0.9v0.9h-0.9zM64.56 202.2h0.9v0.9h-0.9z" fill="#aab0d8" fill-opacity="0.7"/>
<path d="M46.64 205.31h0.9v0.9h-0.9zM60.58 213.91h0.9v0.9h-0.9zM89.83 207.01h0.9v0.9h-0.9zM76.15 221.63h0.9v0.9h-0.9zM99.98 198.37h0.9v0.9h-0.9zM80.49 215.55h0.9v0.9h-0.9zM79.38 158.92h0.9v0.9h-0.9zM76.3 219.6h0.9v0.9h-0.9zM68.08 193.6h0.9v0.9h-0.9zM66.08 179.67h0.9v0.9h-0.9zM90.92 212.56h0.9v0.9h-0.9zM76.83 161.37h0.9v0.9h-0.9zM48.32 212.79h0.9v0.9h-0.9zM69.96 214.52h0.9v0.9h-0.9zM70.2 160.56h0.9v0.9h-0.9zM55.29 217.19h0.9v0.9h-0.9zM90.75 192.5h0.9v0.9h-0.9zM83.8 186.34h0.9v0.9h-0.9zM79.06 203.35h0.9v0.9h-0.9zM57.29 196.07h0.9v0.9h-0.9zM66.12 205.65h0.9v0.9h-0.9zM82.35 162.39h0.9v0.9h-0.9zM94.28 177.25h0.9v0.9h-0.9zM72.79 188.45h0.9v0.9h-0.9zM90.05 212.08h0.9v0.9h-0.9zM102.46 208.78h0.9v0.9h-0.9zM82.16 220.24h0.9v0.9h-0.9zM59.22 198.01h0.9v0.9h-0.9zM95.08 184.18h0.9v0.9h-0.9zM95.43 211.06h0.9v0.9h-0.9zM97.3 210.63h0.9v0.9h-0.9zM98.27 216.32h0.9v0.9h-0.9zM101.76 191.39h0.9v0.9h-0.9zM70.24 187.29h0.9v0.9h-0.9zM98.51 190.64h0.9v0.9h-0.9zM72.55 202.35h0.9v0.9h-0.9zM73.16 201.92h0.9v0.9h-0.9zM49.92 202.79h0.9v0.9h-0.9zM94.15 196.98h0.9v0.9h-0.9zM49.09 203.9h0.9v0.9h-0.9zM62.95 203.37h0.9v0.9h-0.9zM76.19 211.23h0.9v0.9h-0.9zM79.06 179.8h0.9v0.9h-0.9zM82.45 201.6h0.9v0.9h-0.9zM75.19 198.22h0.9v0.9h-0.9zM65.68 188.04h0.9v0.9h-0.9zM74.67 218.55h0.9v0.9h-0.9zM74.42 169.45h0.9v0.9h-0.9zM78.41 186.23h0.9v0.9h-0.9zM88.28 182.68h0.9v0.9h-0.9zM54.63 200.91h0.9v0.9h-0.9zM101.06 189.45h0.9v0.9h-0.9zM68.11 167.41h0.9v0.9h-0.9zM80.06 201.11h0.9v0.9h-0.9zM56.46 205h0.9v0.9h-0.9z" fill="#9aa2d0" fill-opacity="0.7"/>
<path d="M69.13 184.97h0.9v0.9h-0.9zM94.47 172.17h0.9v0.9h-0.9zM66.12 217.08h0.9v0.9h-0.9zM54.37 205.83h0.9v0.9h-0.9zM64.75 218.89h0.9v0.9h-0.9zM84.62 213.16h0.9v0.9h-0.9zM71.99 165.76h0.9v0.9h-0.9zM86.02 160.23h0.9v0.9h-0.9zM93.83 193.28h0.9v0.9h-0.9zM101.7 193.9h0.9v0.9h-0.9zM62.78 209.1h0.9v0.9h-0.9zM53.86 194.74h0.9v0.9h-0.9zM73.66 178.7h0.9v0.9h-0.9zM59.41 187.16h0.9v0.9h-0.9zM88.72 176.27h0.9v0.9h-0.9zM80.93 190.68h0.9v0.9h-0.9zM96.04 181.88h0.9v0.9h-0.9zM69.67 218.66h0.9v0.9h-0.9zM66.34 158.61h0.9v0.9h-0.9zM64.6 202.13h0.9v0.9h-0.9zM89.9 219.08h0.9v0.9h-0.9zM70.79 185.75h0.9v0.9h-0.9zM61.98 217.77h0.9v0.9h-0.9zM99.39 208.75h0.9v0.9h-0.9zM78.4 218.86h0.9v0.9h-0.9zM77.36 180.52h0.9v0.9h-0.9zM90.2 161.07h0.9v0.9h-0.9zM95.85 216.78h0.9v0.9h-0.9zM81.53 215.71h0.9v0.9h-0.9zM73.34 160.17h0.9v0.9h-0.9zM69.33 204.89h0.9v0.9h-0.9zM69.26 214.87h0.9v0.9h-0.9zM56.51 200.51h0.9v0.9h-0.9zM51.69 195.23h0.9v0.9h-0.9zM74.33 158.09h0.9v0.9h-0.9zM81.93 221.12h0.9v0.9h-0.9zM80.86 189.45h0.9v0.9h-0.9zM65.51 208.41h0.9v0.9h-0.9zM70.83 189.72h0.9v0.9h-0.9zM57.14 209.52h0.9v0.9h-0.9zM79.98 181.26h0.9v0.9h-0.9zM86.77 162.72h0.9v0.9h-0.9zM78.86 195.52h0.9v0.9h-0.9zM66.79 190.84h0.9v0.9h-0.9zM67.82 184.76h0.9v0.9h-0.9zM77.44 169.71h0.9v0.9h-0.9zM93.99 169.65h0.9v0.9h-0.9zM78.32 194.51h0.9v0.9h-0.9zM88.76 196.65h0.9v0.9h-0.9zM46.96 200.16h0.9v0.9h-0.9zM81.45 171.67h0.9v0.9h-0.9zM81.08 195.61h0.9v0.9h-0.9zM78.89 189.3h0.9v0.9h-0.9zM68 199.55h0.9v0.9h-0.9z" fill="#bcbcde" fill-opacity="0.7"/>
<path d="M67.74 217.72h0.9v0.9h-0.9zM66.67 189.08h0.9v0.9h-0.9zM97.85 204.07h0.9v0.9h-0.9zM85.93 165.82h0.9v0.9h-0.9zM93.37 208.41h0.9v0.9h-0.9zM64.83 203.39h0.9v0.9h-0.9zM53.45 196.48h0.9v0.9h-0.9zM75.09 176.55h0.9v0.9h-0.9zM60.53 194.09h0.9v0.9h-0.9zM60.97 200.92h0.9v0.9h-0.9zM83.77 187.91h0.9v0.9h-0.9zM80.93 181.43h0.9v0.9h-0.9zM68.48 174.08h0.9v0.9h-0.9zM59.83 179.69h0.9v0.9h-0.9zM58.26 198.96h0.9v0.9h-0.9zM82.36 171.77h0.9v0.9h-0.9zM93.2 196.35h0.9v0.9h-0.9zM60.17 219.71h0.9v0.9h-0.9zM64.56 190.71h0.9v0.9h-0.9zM78.75 175.3h0.9v0.9h-0.9zM78.04 164.71h0.9v0.9h-0.9zM94.7 192.49h0.9v0.9h-0.9zM76 205.93h0.9v0.9h-0.9zM91.52 175.36h0.9v0.9h-0.9zM66.4 206.77h0.9v0.9h-0.9zM85.16 202.07h0.9v0.9h-0.9zM84.34 206.72h0.9v0.9h-0.9zM75.74 158.03h0.9v0.9h-0.9zM76.58 183.78h0.9v0.9h-0.9zM66.98 174.93h0.9v0.9h-0.9zM68.55 200.94h0.9v0.9h-0.9zM56.6 196.87h0.9v0.9h-0.9zM93.35 214.21h0.9v0.9h-0.9zM96.56 199.35h0.9v0.9h-0.9zM67.78 206.58h0.9v0.9h-0.9zM73.65 198.9h0.9v0.9h-0.9zM91.16 201.24h0.9v0.9h-0.9zM102.12 210.72h0.9v0.9h-0.9zM53.62 206.17h0.9v0.9h-0.9zM79.57 165.11h0.9v0.9h-0.9zM49.84 201.39h0.9v0.9h-0.9zM64.48 206.99h0.9v0.9h-0.9zM68.63 203.72h0.9v0.9h-0.9zM94.17 176.4h0.9v0.9h-0.9zM89.97 184.36h0.9v0.9h-0.9zM68.32 197.28h0.9v0.9h-0.9zM99 211.07h0.9v0.9h-0.9zM83.81 220.46h0.9v0.9h-0.9zM55.16 198.1h0.9v0.9h-0.9zM98.12 206.73h0.9v0.9h-0.9zM67.26 163.42h0.9v0.9h-0.9zM56.12 212.99h0.9v0.9h-0.9zM79.86 182.95h0.9v0.9h-0.9zM55.14 185.16h0.9v0.9h-0.9z" fill="#c4b6da" fill-opacity="0.7"/>
<path d="M55.29 197.06h0.9v0.9h-0.9zM81.43 199.16h0.9v0.9h-0.9zM100.75 196.1h0.9v0.9h-0.9zM63.88 209.91h0.9v0.9h-0.9zM69.3 201.95h0.9v0.9h-0.9zM91.6 197.82h0.9v0.9h-0.9zM67.29 195.61h0.9v0.9h-0.9zM88.69 163.39h0.9v0.9h-0.9zM50.14 209.88h0.9v0.9h-0.9zM55.82 218.35h0.9v0.9h-0.9zM85.89 204.84h0.9v0.9h-0.9zM91.38 177.31h0.9v0.9h-0.9zM81.48 221.02h0.9v0.9h-0.9zM77.64 206.87h0.9v0.9h-0.9zM70.88 179.76h0.9v0.9h-0.9zM90.88 184.36h0.9v0.9h-0.9zM96.27 158.41h0.9v0.9h-0.9zM57.75 207.18h0.9v0.9h-0.9zM69.43 159.05h0.9v0.9h-0.9zM88.05 164.97h0.9v0.9h-0.9zM47.17 205.86h0.9v0.9h-0.9zM56.94 204.13h0.9v0.9h-0.9zM97.76 220.01h0.9v0.9h-0.9zM56.66 187.1h0.9v0.9h-0.9zM97.14 202.85h0.9v0.9h-0.9zM98.02 212.27h0.9v0.9h-0.9zM58.79 206.08h0.9v0.9h-0.9zM102.14 189.48h0.9v0.9h-0.9zM83.89 198.72h0.9v0.9h-0.9zM87.33 194.03h0.9v0.9h-0.9zM79.91 217.1h0.9v0.9h-0.9zM68.38 218.1h0.9v0.9h-0.9zM96.28 192.41h0.9v0.9h-0.9zM50.3 194.69h0.9v0.9h-0.9zM56.34 194.29h0.9v0.9h-0.9zM96.12 165.06h0.9v0.9h-0.9zM78.81 173.37h0.9v0.9h-0.9zM89.49 183.11h0.9v0.9h-0.9zM78.41 186.26h0.9v0.9h-0.9zM86.67 218.25h0.9v0.9h-0.9zM55.83 199.48h0.9v0.9h-0.9zM59.1 220.81h0.9v0.9h-0.9zM66.28 163.17h0.9v0.9h-0.9zM67.88 203.67h0.9v0.9h-0.9zM71.07 161.32h0.9v0.9h-0.9zM47.46 200.97h0.9v0.9h-0.9zM92.5 157.47h0.9v0.9h-0.9zM76.6 221.95h0.9v0.9h-0.9zM78.11 185.66h0.9v0.9h-0.9zM95.93 190.38h0.9v0.9h-0.9zM49.56 199.28h0.9v0.9h-0.9zM86.24 197.3h0.9v0.9h-0.9zM78.15 175.47h0.9v0.9h-0.9zM81.84 206.4h0.9v0.9h-0.9z" fill="#a4aed8" fill-opacity="0.7"/>
<path d="M88.18 206.97h0.9v0.9h-0.9zM80.61 177h0.9v0.9h-0.9zM56.06 202.37h0.9v0.9h-0.9zM74.54 174.98h0.9v0.9h-0.9zM62.77 214.88h0.9v0.9h-0.9zM71.36 161.79h0.9v0.9h-0.9zM96.87 201.94h0.9v0.9h-0.9zM87.61 210.71h0.9v0.9h-0.9zM48.71 206.14h0.9v0.9h-0.9zM98.27 193.33h0.9v0.9h-0.9zM81.16 200.94h0.9v0.9h-0.9zM79.69 196.01h0.9v0.9h-0.9zM77.58 175.34h0.9v0.9h-0.9zM58.55 205.87h0.9v0.9h-0.9zM99.05 199.63h0.9v0.9h-0.9zM95.98 202.65h0.9v0.9h-0.9zM86.51 203.85h0.9v0.9h-0.9zM80.86 209.98h0.9v0.9h-0.9zM52.64 208.66h0.9v0.9h-0.9zM84.16 200.54h0.9v0.9h-0.9zM78.63 163.06h0.9v0.9h-0.9zM66.42 212.69h0.9v0.9h-0.9zM93.88 221.34h0.9v0.9h-0.9zM93.55 210.5h0.9v0.9h-0.9zM96 212.98h0.9v0.9h-0.9zM89.54 205.99h0.9v0.9h-0.9zM76.97 171.64h0.9v0.9h-0.9zM67.06 211.83h0.9v0.9h-0.9zM98.18 203.64h0.9v0.9h-0.9zM62.67 203.41h0.9v0.9h-0.9zM79.19 199.21h0.9v0.9h-0.9zM72.59 176.33h0.9v0.9h-0.9zM88.84 196.43h0.9v0.9h-0.9zM88.46 172.04h0.9v0.9h-0.9zM86.74 207.45h0.9v0.9h-0.9zM77.14 174.7h0.9v0.9h-0.9zM84.5 213.99h0.9v0.9h-0.9zM50.49 204.62h0.9v0.9h-0.9zM88.08 211.19h0.9v0.9h-0.9zM70.26 170.68h0.9v0.9h-0.9zM101.15 215.01h0.9v0.9h-0.9zM59.37 213.6h0.9v0.9h-0.9zM54.31 215.28h0.9v0.9h-0.9zM81.54 173.65h0.9v0.9h-0.9zM63.3 197.46h0.9v0.9h-0.9zM64.37 161.25h0.9v0.9h-0.9zM57.48 205.66h0.9v0.9h-0.9zM70.28 159.16h0.9v0.9h-0.9zM89.91 198.78h0.9v0.9h-0.9zM68.2 214.64h0.9v0.9h-0.9zM81.86 202.86h0.9v0.9h-0.9zM68.34 174.41h0.9v0.9h-0.9zM93.83 203.48h0.9v0.9h-0.9zM61.13 200h0.9v0.9h-0.9zM95.12 203.11h0.9v0.9h-0.9zM72.73 158.74h0.9v0.9h-0.9zM74.96 163.62h0.9v0.9h-0.9zM61.82 210.55h0.9v0.9h-0.9zM88.28 203.59h0.9v0.9h-0.9zM56.47 220.28h0.9v0.9h-0.9zM77.15 173.36h0.9v0.9h-0.9zM76.3 214.8h0.9v0.9h-0.9zM83.82 173.09h0.9v0.9h-0.9zM88.47 209.53h0.9v0.9h-0.9zM65.31 171.03h0.9v0.9h-0.9zM61.58 202.58h0.9v0.9h-0.9zM65.29 211.83h0.9v0.9h-0.9zM84.47 170.73h0.9v0.9h-0.9zM57.26 210.43h0.9v0.9h-0.9zM52.7 211.84h0.9v0.9h-0.9zM56.46 207.73h0.9v0.9h-0.9zM100.37 210.32h0.9v0.9h-0.9zM91.54 214.02h0.9v0.9h-0.9zM74.21 162.34h0.9v0.9h-0.9zM68.5 178.11h0.9v0.9h-0.9zM94.41 199.66h0.9v0.9h-0.9zM65.04 212.68h0.9v0.9h-0.9zM71.95 208.94h0.9v0.9h-0.9zM64.24 202.61h0.9v0.9h-0.9zM76.66 161.33h0.9v0.9h-0.9zM74.8 181.45h0.9v0.9h-0.9zM82.14 202.07h0.9v0.9h-0.9zM76.87 212.68h0.9v0.9h-0.9zM78.41 198.25h0.9v0.9h-0.9zM58.32 209.13h0.9v0.9h-0.9zM60.48 213.47h0.9v0.9h-0.9zM68.93 204.83h0.9v0.9h-0.9zM71.18 169.94h0.9v0.9h-0.9zM80.33 219.04h0.9v0.9h-0.9zM68.32 204.78h0.9v0.9h-0.9zM61.7 172.95h0.9v0.9h-0.9zM94.81 217.43h0.9v0.9h-0.9zM74.44 168.15h0.9v0.9h-0.9zM75.57 174.38h0.9v0.9h-0.9zM80.07 210.93h0.9v0.9h-0.9zM96.22 201.86h0.9v0.9h-0.9zM59.31 209.48h0.9v0.9h-0.9zM70.48 172.49h0.9v0.9h-0.9zM64.47 169.17h0.9v0.9h-0.9zM68.38 215.1h0.9v0.9h-0.9zM85.36 163.09h0.9v0.9h-0.9zM81.55 167.35h0.9v0.9h-0.9zM85.36 220.74h0.9v0.9h-0.9zM68 210.49h0.9v0.9h-0.9zM76.54 165.11h0.9v0.9h-0.9zM83.44 209.48h0.9v0.9h-0.9zM67.92 173.05h0.9v0.9h-0.9zM74.55 156.43h0.9v0.9h-0.9zM50.72 207.39h0.9v0.9h-0.9zM83.53 170.58h0.9v0.9h-0.9zM88.2 203.85h0.9v0.9h-0.9zM70.28 194.71h0.9v0.9h-0.9zM55.69 220.12h0.9v0.9h-0.9zM79.97 172.64h0.9v0.9h-0.9zM95.91 209.99h0.9v0.9h-0.9z" fill="#4a66c4" fill-opacity="0.75"/>
<path d="M67.17 210.53h0.9v0.9h-0.9zM62.85 198.89h0.9v0.9h-0.9zM77.73 177.62h0.9v0.9h-0.9zM80.55 206.04h0.9v0.9h-0.9zM76.47 197.25h0.9v0.9h-0.9zM81.57 164.11h0.9v0.9h-0.9zM85.61 216.21h0.9v0.9h-0.9zM95.28 206.72h0.9v0.9h-0.9zM53.6 205.44h0.9v0.9h-0.9zM83.49 154.14h0.9v0.9h-0.9zM55.4 200.23h0.9v0.9h-0.9zM79.76 169.54h0.9v0.9h-0.9zM55.27 202.68h0.9v0.9h-0.9zM92.32 206.85h0.9v0.9h-0.9zM52.16 216.91h0.9v0.9h-0.9zM81.47 175.88h0.9v0.9h-0.9zM70.78 169.58h0.9v0.9h-0.9zM88.54 207.89h0.9v0.9h-0.9zM91.73 208.33h0.9v0.9h-0.9zM86.33 217.85h0.9v0.9h-0.9zM91.64 198.27h0.9v0.9h-0.9zM91.82 213.05h0.9v0.9h-0.9zM57.76 209.35h0.9v0.9h-0.9zM64.2 217.97h0.9v0.9h-0.9zM65.57 203.33h0.9v0.9h-0.9zM51.7 211.43h0.9v0.9h-0.9zM91.23 197.98h0.9v0.9h-0.9zM52.05 204.37h0.9v0.9h-0.9zM66.8 206.84h0.9v0.9h-0.9zM56.08 210.53h0.9v0.9h-0.9zM80.72 206.11h0.9v0.9h-0.9zM98.08 220.13h0.9v0.9h-0.9zM93.42 201.72h0.9v0.9h-0.9zM57.95 215.49h0.9v0.9h-0.9zM74.22 198.37h0.9v0.9h-0.9zM86.6 192.51h0.9v0.9h-0.9zM79.48 164.46h0.9v0.9h-0.9zM91.4 207.5h0.9v0.9h-0.9zM103.7 200.46h0.9v0.9h-0.9zM89.9 206.96h0.9v0.9h-0.9zM86.07 205.51h0.9v0.9h-0.9zM59.17 206.81h0.9v0.9h-0.9zM77.14 155.65h0.9v0.9h-0.9zM65.01 213.12h0.9v0.9h-0.9zM72.3 207.73h0.9v0.9h-0.9zM90.37 211.92h0.9v0.9h-0.9zM52.85 203.6h0.9v0.9h-0.9zM70.21 163.32h0.9v0.9h-0.9zM94.65 195.79h0.9v0.9h-0.9zM89.23 203.47h0.9v0.9h-0.9zM98.04 207.6h0.9v0.9h-0.9zM46.25 210.04h0.9v0.9h-0.9zM82.19 171.02h0.9v0.9h-0.9zM76.73 182.07h0.9v0.9h-0.9zM68.83 172.58h0.9v0.9h-0.9zM84.78 173.1h0.9v0.9h-0.9zM67.17 209.54h0.9v0.9h-0.9zM95.14 203.99h0.9v0.9h-0.9zM59.71 199.41h0.9v0.9h-0.9zM56.6 213.42h0.9v0.9h-0.9zM95.96 191.44h0.9v0.9h-0.9zM89.11 205.67h0.9v0.9h-0.9zM73.76 161.87h0.9v0.9h-0.9zM83.78 171.26h0.9v0.9h-0.9zM103.89 217.16h0.9v0.9h-0.9zM72.9 206.68h0.9v0.9h-0.9zM91.74 213.95h0.9v0.9h-0.9zM76.27 165.15h0.9v0.9h-0.9zM60.74 207.61h0.9v0.9h-0.9zM91.64 198.61h0.9v0.9h-0.9zM98.03 196.99h0.9v0.9h-0.9zM90.69 212.93h0.9v0.9h-0.9zM76.99 208.06h0.9v0.9h-0.9zM59.21 212.11h0.9v0.9h-0.9zM73.87 165.99h0.9v0.9h-0.9zM63.04 211.7h0.9v0.9h-0.9zM80.58 170.83h0.9v0.9h-0.9zM66.46 210.53h0.9v0.9h-0.9zM88.55 216.85h0.9v0.9h-0.9zM98.39 201.62h0.9v0.9h-0.9zM95.72 197.26h0.9v0.9h-0.9zM57.96 199.82h0.9v0.9h-0.9zM80.76 164.29h0.9v0.9h-0.9zM61.74 207.71h0.9v0.9h-0.9zM63.68 211.15h0.9v0.9h-0.9zM75.41 208.48h0.9v0.9h-0.9zM82.68 229.12h0.9v0.9h-0.9zM64.38 208.99h0.9v0.9h-0.9zM42.36 207.74h0.9v0.9h-0.9zM54.88 168.25h0.9v0.9h-0.9zM60.89 202.67h0.9v0.9h-0.9zM59.56 210.1h0.9v0.9h-0.9zM92.27 192.27h0.9v0.9h-0.9zM92.52 212.16h0.9v0.9h-0.9zM80.92 176.27h0.9v0.9h-0.9zM83.92 200.54h0.9v0.9h-0.9zM90.42 213.67h0.9v0.9h-0.9zM54.71 163.29h0.9v0.9h-0.9zM77.8 202.02h0.9v0.9h-0.9zM74.09 169.1h0.9v0.9h-0.9zM71.62 159.95h0.9v0.9h-0.9zM64.08 210.79h0.9v0.9h-0.9zM72.34 163.64h0.9v0.9h-0.9zM73.38 207.41h0.9v0.9h-0.9zM78.86 205.73h0.9v0.9h-0.9zM77.23 165.21h0.9v0.9h-0.9zM74.9 211.09h0.9v0.9h-0.9zM54.39 214.4h0.9v0.9h-0.9zM97.38 215.02h0.9v0.9h-0.9zM100.44 209.99h0.9v0.9h-0.9zM89.72 207.36h0.9v0.9h-0.9zM67.23 215.55h0.9v0.9h-0.9zM80.35 194.38h0.9v0.9h-0.9zM82.75 212.2h0.9v0.9h-0.9zM64.9 212.13h0.9v0.9h-0.9z" fill="#5c7ad2" fill-opacity="0.75"/>
<path d="M83.9 171.7h0.9v0.9h-0.9zM55.37 213.4h0.9v0.9h-0.9zM96.76 202.78h0.9v0.9h-0.9zM77.15 162.23h0.9v0.9h-0.9zM48.83 209.41h0.9v0.9h-0.9zM63.79 203.68h0.9v0.9h-0.9zM53.84 209.81h0.9v0.9h-0.9zM67.03 171.63h0.9v0.9h-0.9zM71.2 165.91h0.9v0.9h-0.9zM65.35 213.38h0.9v0.9h-0.9zM54.46 213.71h0.9v0.9h-0.9zM60.16 210.32h0.9v0.9h-0.9zM77.11 161.05h0.9v0.9h-0.9zM60.89 202.32h0.9v0.9h-0.9zM83.14 169.17h0.9v0.9h-0.9zM100.71 218.79h0.9v0.9h-0.9zM68.36 202.28h0.9v0.9h-0.9zM78.97 205.23h0.9v0.9h-0.9zM61.08 212.52h0.9v0.9h-0.9zM96.95 203.47h0.9v0.9h-0.9zM85.66 206.13h0.9v0.9h-0.9zM55.31 215.32h0.9v0.9h-0.9zM85.12 207.84h0.9v0.9h-0.9zM64.07 205.74h0.9v0.9h-0.9zM67.03 211.03h0.9v0.9h-0.9zM70.51 201h0.9v0.9h-0.9zM79.53 182.26h0.9v0.9h-0.9zM86.06 159.91h0.9v0.9h-0.9zM77.69 159.14h0.9v0.9h-0.9zM73.33 203.58h0.9v0.9h-0.9zM101.13 202.57h0.9v0.9h-0.9zM67.88 170.71h0.9v0.9h-0.9zM69.33 200.49h0.9v0.9h-0.9zM87.59 201.27h0.9v0.9h-0.9zM85.83 197.42h0.9v0.9h-0.9zM80.59 205.13h0.9v0.9h-0.9zM94.88 205.51h0.9v0.9h-0.9zM67.21 173.4h0.9v0.9h-0.9zM61.05 201.07h0.9v0.9h-0.9zM103 204.22h0.9v0.9h-0.9zM96.14 202.61h0.9v0.9h-0.9zM66.11 161.4h0.9v0.9h-0.9zM62.38 211.17h0.9v0.9h-0.9zM73.14 165.86h0.9v0.9h-0.9zM57.51 200.08h0.9v0.9h-0.9zM79.37 210.23h0.9v0.9h-0.9zM56.54 208.2h0.9v0.9h-0.9zM72.88 186.64h0.9v0.9h-0.9zM81.75 165.91h0.9v0.9h-0.9zM74.02 198.32h0.9v0.9h-0.9zM67.59 215.56h0.9v0.9h-0.9zM101.94 204.69h0.9v0.9h-0.9zM60.02 202.28h0.9v0.9h-0.9zM56.43 213.98h0.9v0.9h-0.9zM69.05 170.13h0.9v0.9h-0.9zM83.45 214.05h0.9v0.9h-0.9zM83.53 202.08h0.9v0.9h-0.9zM96.93 212.08h0.9v0.9h-0.9zM93.7 221.36h0.9v0.9h-0.9zM98.12 203.95h0.9v0.9h-0.9zM70.21 172.02h0.9v0.9h-0.9zM69.32 212.7h0.9v0.9h-0.9zM97.17 206.4h0.9v0.9h-0.9zM49 211.49h0.9v0.9h-0.9zM102.92 196.61h0.9v0.9h-0.9zM88.04 192.79h0.9v0.9h-0.9zM86.65 207.62h0.9v0.9h-0.9zM66.56 212.32h0.9v0.9h-0.9zM80.11 194.64h0.9v0.9h-0.9zM52.41 212h0.9v0.9h-0.9zM102.49 203.13h0.9v0.9h-0.9zM88.98 214.82h0.9v0.9h-0.9zM67.03 207.75h0.9v0.9h-0.9zM75.7 172.42h0.9v0.9h-0.9zM91.61 212.98h0.9v0.9h-0.9zM88.49 199.14h0.9v0.9h-0.9zM69.18 165.46h0.9v0.9h-0.9zM75.23 165.77h0.9v0.9h-0.9zM56.98 210.67h0.9v0.9h-0.9zM87.3 205.31h0.9v0.9h-0.9zM53.67 206.37h0.9v0.9h-0.9zM72.9 177.78h0.9v0.9h-0.9zM66.96 204.71h0.9v0.9h-0.9zM95.13 203.29h0.9v0.9h-0.9zM93.72 213.71h0.9v0.9h-0.9zM91.19 204.03h0.9v0.9h-0.9zM95.9 199.36h0.9v0.9h-0.9zM63.79 212.03h0.9v0.9h-0.9zM45.56 208.1h0.9v0.9h-0.9zM97.45 200.86h0.9v0.9h-0.9zM89.64 207.39h0.9v0.9h-0.9zM92.9 202.89h0.9v0.9h-0.9zM76.53 205.98h0.9v0.9h-0.9zM96.66 197.7h0.9v0.9h-0.9zM89.64 203.13h0.9v0.9h-0.9zM92.67 197.62h0.9v0.9h-0.9zM58.45 216.62h0.9v0.9h-0.9zM77.41 169.06h0.9v0.9h-0.9zM63.78 214.9h0.9v0.9h-0.9zM69.64 169.26h0.9v0.9h-0.9zM85.03 216.13h0.9v0.9h-0.9zM81.65 199.11h0.9v0.9h-0.9zM66.16 171.8h0.9v0.9h-0.9zM87.32 167h0.9v0.9h-0.9zM83.22 213.05h0.9v0.9h-0.9zM79.43 203.43h0.9v0.9h-0.9zM82.88 170.15h0.9v0.9h-0.9zM87.93 208.44h0.9v0.9h-0.9zM89.69 213.17h0.9v0.9h-0.9zM96.96 221.94h0.9v0.9h-0.9zM57.08 205.62h0.9v0.9h-0.9zM56.35 208.29h0.9v0.9h-0.9zM91.11 217.6h0.9v0.9h-0.9zM79.53 183.48h0.9v0.9h-0.9zM75.27 179.18h0.9v0.9h-0.9z" fill="#7088d6" fill-opacity="0.75"/>
<path d="M61.2 212.63h0.9v0.9h-0.9zM57.59 199.39h0.9v0.9h-0.9zM95.91 208.36h0.9v0.9h-0.9zM57.4 198.26h0.9v0.9h-0.9zM74.41 181.57h0.9v0.9h-0.9zM90.07 195.83h0.9v0.9h-0.9zM58.64 209.29h0.9v0.9h-0.9zM102.94 205.86h0.9v0.9h-0.9zM79.33 168.41h0.9v0.9h-0.9zM57.81 215.72h0.9v0.9h-0.9zM68.27 161.19h0.9v0.9h-0.9zM74.46 164.2h0.9v0.9h-0.9zM69.01 209.63h0.9v0.9h-0.9zM61.55 221.17h0.9v0.9h-0.9zM69.49 205.11h0.9v0.9h-0.9zM59.72 161.15h0.9v0.9h-0.9zM47.11 208.43h0.9v0.9h-0.9zM61.16 207.78h0.9v0.9h-0.9zM95.99 219.1h0.9v0.9h-0.9zM89.9 209.63h0.9v0.9h-0.9zM74.93 178.1h0.9v0.9h-0.9zM94.55 210.25h0.9v0.9h-0.9zM88.34 192.61h0.9v0.9h-0.9zM85.65 204.89h0.9v0.9h-0.9zM57.69 213.2h0.9v0.9h-0.9zM68.84 213.11h0.9v0.9h-0.9zM66.49 207.54h0.9v0.9h-0.9zM70.55 166.08h0.9v0.9h-0.9zM86.87 208.43h0.9v0.9h-0.9zM67.74 171.59h0.9v0.9h-0.9zM96.58 215.48h0.9v0.9h-0.9zM90.52 215.67h0.9v0.9h-0.9zM60.51 204.33h0.9v0.9h-0.9zM97.04 199.81h0.9v0.9h-0.9zM85.02 197.26h0.9v0.9h-0.9zM70.73 177.94h0.9v0.9h-0.9zM90.57 201.08h0.9v0.9h-0.9zM66.92 211.35h0.9v0.9h-0.9zM72.54 175.55h0.9v0.9h-0.9zM87.08 217.98h0.9v0.9h-0.9zM103.01 204.66h0.9v0.9h-0.9zM91.67 210.62h0.9v0.9h-0.9zM70.08 174.83h0.9v0.9h-0.9zM98.6 208.68h0.9v0.9h-0.9zM72.47 170.85h0.9v0.9h-0.9zM71.46 171.15h0.9v0.9h-0.9zM55.47 215.17h0.9v0.9h-0.9zM88.78 210.77h0.9v0.9h-0.9zM92.39 203.84h0.9v0.9h-0.9zM71.43 153.61h0.9v0.9h-0.9zM78.16 162.4h0.9v0.9h-0.9zM81.61 169.11h0.9v0.9h-0.9zM72.04 172.32h0.9v0.9h-0.9zM81.21 180.25h0.9v0.9h-0.9zM80.16 205.86h0.9v0.9h-0.9zM90.38 204.33h0.9v0.9h-0.9zM64.12 213.86h0.9v0.9h-0.9zM66.12 170.27h0.9v0.9h-0.9zM72.48 167.43h0.9v0.9h-0.9zM76.89 202.25h0.9v0.9h-0.9zM75.11 209.55h0.9v0.9h-0.9zM58.1 201.82h0.9v0.9h-0.9zM93.61 211.83h0.9v0.9h-0.9zM81.44 204.11h0.9v0.9h-0.9zM66.58 175.54h0.9v0.9h-0.9zM85.66 208.54h0.9v0.9h-0.9zM68.99 167.62h0.9v0.9h-0.9zM89.59 212.71h0.9v0.9h-0.9zM100.69 193.77h0.9v0.9h-0.9zM68.84 178.91h0.9v0.9h-0.9zM98.96 207.48h0.9v0.9h-0.9zM90.9 204.82h0.9v0.9h-0.9zM59.76 210.77h0.9v0.9h-0.9zM62.74 206.95h0.9v0.9h-0.9zM90.16 205.66h0.9v0.9h-0.9zM61.89 206.41h0.9v0.9h-0.9zM72.97 173.01h0.9v0.9h-0.9zM60.22 220.81h0.9v0.9h-0.9zM77.83 161.9h0.9v0.9h-0.9zM73.08 182.2h0.9v0.9h-0.9zM69.5 165.9h0.9v0.9h-0.9zM67.43 215.13h0.9v0.9h-0.9zM65.69 202.7h0.9v0.9h-0.9zM67.08 202.12h0.9v0.9h-0.9zM99.32 205.97h0.9v0.9h-0.9zM98.23 192.75h0.9v0.9h-0.9zM48.42 206.52h0.9v0.9h-0.9zM72.35 207.97h0.9v0.9h-0.9zM68.84 207.26h0.9v0.9h-0.9zM74.03 167.77h0.9v0.9h-0.9zM70.6 202.1h0.9v0.9h-0.9zM70.73 155.82h0.9v0.9h-0.9zM65.41 197.57h0.9v0.9h-0.9zM75.75 169.13h0.9v0.9h-0.9zM94.08 211.33h0.9v0.9h-0.9zM87.37 203.05h0.9v0.9h-0.9zM81.25 201.49h0.9v0.9h-0.9zM39.67 207.17h0.9v0.9h-0.9zM56.32 213.42h0.9v0.9h-0.9zM82.79 208.73h0.9v0.9h-0.9zM85.59 185.4h0.9v0.9h-0.9zM94 204.06h0.9v0.9h-0.9zM62.11 218.88h0.9v0.9h-0.9zM54.52 206h0.9v0.9h-0.9zM58.42 204.26h0.9v0.9h-0.9zM84.16 208.27h0.9v0.9h-0.9zM81.7 164.82h0.9v0.9h-0.9zM83.56 201.28h0.9v0.9h-0.9zM91.21 219.83h0.9v0.9h-0.9zM53.66 211.08h0.9v0.9h-0.9zM87.19 187.68h0.9v0.9h-0.9zM90.07 207.9h0.9v0.9h-0.9zM85.17 156.07h0.9v0.9h-0.9zM78.94 175.31h0.9v0.9h-0.9zM78.96 163.97h0.9v0.9h-0.9z" fill="#3e5ab4" fill-opacity="0.75"/>
<path d="M64.92 171.48h0.9v0.9h-0.9zM61.88 212.27h0.9v0.9h-0.9zM84.8 197.95h0.9v0.9h-0.9zM52.01 211.57h0.9v0.9h-0.9zM99.96 198.81h0.9v0.9h-0.9zM63.56 216.21h0.9v0.9h-0.9zM65.66 164.87h0.9v0.9h-0.9zM83.53 201.47h0.9v0.9h-0.9zM100.93 210.53h0.9v0.9h-0.9zM79.66 201.68h0.9v0.9h-0.9zM75.66 159.85h0.9v0.9h-0.9zM62.84 162.61h0.9v0.9h-0.9zM86.13 204.99h0.9v0.9h-0.9zM79.6 201.89h0.9v0.9h-0.9zM94.25 209.18h0.9v0.9h-0.9zM93.6 208.91h0.9v0.9h-0.9zM72.61 169.6h0.9v0.9h-0.9zM96.54 214.74h0.9v0.9h-0.9zM87.15 200.83h0.9v0.9h-0.9zM54.17 195.83h0.9v0.9h-0.9zM86.25 167.59h0.9v0.9h-0.9zM60.79 215.07h0.9v0.9h-0.9zM79.49 166.83h0.9v0.9h-0.9zM56.51 204.41h0.9v0.9h-0.9zM70.28 201.6h0.9v0.9h-0.9zM82.06 192.41h0.9v0.9h-0.9zM60.66 211.79h0.9v0.9h-0.9zM69.08 208.87h0.9v0.9h-0.9zM70.99 195.26h0.9v0.9h-0.9zM62.97 213.53h0.9v0.9h-0.9zM95.48 205.22h0.9v0.9h-0.9zM73.91 165.23h0.9v0.9h-0.9zM77.74 173.42h0.9v0.9h-0.9zM87.04 211.35h0.9v0.9h-0.9zM89.61 186.29h0.9v0.9h-0.9zM65.76 204.57h0.9v0.9h-0.9zM88.79 197.43h0.9v0.9h-0.9zM87.55 196.26h0.9v0.9h-0.9zM79.57 203.68h0.9v0.9h-0.9zM56.57 206.13h0.9v0.9h-0.9zM86.22 205.52h0.9v0.9h-0.9zM58.31 167.91h0.9v0.9h-0.9zM59.1 203.91h0.9v0.9h-0.9zM81.2 168.75h0.9v0.9h-0.9zM68.69 215.66h0.9v0.9h-0.9zM79.44 158.82h0.9v0.9h-0.9zM59.33 215.05h0.9v0.9h-0.9zM56.96 208.71h0.9v0.9h-0.9zM71.78 154.4h0.9v0.9h-0.9zM79.55 167.08h0.9v0.9h-0.9zM90.75 197.99h0.9v0.9h-0.9zM75.57 212.43h0.9v0.9h-0.9zM92.42 212.23h0.9v0.9h-0.9zM62.85 205.4h0.9v0.9h-0.9zM72.04 180.12h0.9v0.9h-0.9zM66.57 210.85h0.9v0.9h-0.9zM86.06 203.47h0.9v0.9h-0.9zM66.76 164.84h0.9v0.9h-0.9zM76.74 166.03h0.9v0.9h-0.9zM60.39 202.92h0.9v0.9h-0.9zM95.24 192.16h0.9v0.9h-0.9zM59.8 208.76h0.9v0.9h-0.9zM73.63 165.91h0.9v0.9h-0.9zM97.18 197.28h0.9v0.9h-0.9zM56.17 202.84h0.9v0.9h-0.9zM92.44 194.3h0.9v0.9h-0.9zM78.58 200.93h0.9v0.9h-0.9zM66.8 170.23h0.9v0.9h-0.9zM66.46 210.03h0.9v0.9h-0.9zM71.15 199.43h0.9v0.9h-0.9zM91.56 201.94h0.9v0.9h-0.9zM61.63 216.41h0.9v0.9h-0.9zM86.32 204.17h0.9v0.9h-0.9zM78.9 173.43h0.9v0.9h-0.9zM82.18 193.67h0.9v0.9h-0.9zM96.8 201.45h0.9v0.9h-0.9zM72.51 169.49h0.9v0.9h-0.9zM82.15 167.53h0.9v0.9h-0.9zM100.98 200.72h0.9v0.9h-0.9zM76.01 208.27h0.9v0.9h-0.9zM84.62 217.14h0.9v0.9h-0.9zM90.53 195.54h0.9v0.9h-0.9zM78.88 168.8h0.9v0.9h-0.9zM61.46 201.81h0.9v0.9h-0.9zM96.01 210.27h0.9v0.9h-0.9zM101.03 203.33h0.9v0.9h-0.9zM91.29 209.2h0.9v0.9h-0.9zM75.87 166.04h0.9v0.9h-0.9zM83.11 196.96h0.9v0.9h-0.9zM79.19 167.43h0.9v0.9h-0.9zM56.49 220.76h0.9v0.9h-0.9zM67.18 208.21h0.9v0.9h-0.9zM89.72 195.67h0.9v0.9h-0.9zM86.15 212.81h0.9v0.9h-0.9zM54.62 204.64h0.9v0.9h-0.9zM57.55 206.37h0.9v0.9h-0.9zM64.25 203.95h0.9v0.9h-0.9zM57.01 202.63h0.9v0.9h-0.9zM85.45 214.38h0.9v0.9h-0.9zM89.12 203.71h0.9v0.9h-0.9zM85 201.72h0.9v0.9h-0.9zM82.61 188.06h0.9v0.9h-0.9zM71.7 208.55h0.9v0.9h-0.9zM55.48 198.21h0.9v0.9h-0.9zM64.65 207.07h0.9v0.9h-0.9zM76.56 156.43h0.9v0.9h-0.9zM78.02 175.74h0.9v0.9h-0.9zM88.8 204.04h0.9v0.9h-0.9zM66.42 200.2h0.9v0.9h-0.9zM99.38 198.68h0.9v0.9h-0.9zM67.64 153.49h0.9v0.9h-0.9zM92.07 196.47h0.9v0.9h-0.9zM76.05 169.3h0.9v0.9h-0.9zM85.45 208.08h0.9v0.9h-0.9zM84.66 160.25h0.9v0.9h-0.9z" fill="#8aa0dc" fill-opacity="0.75"/>
<path d="M76.45 207.32h0.9v0.9h-0.9zM103.02 212.47h0.9v0.9h-0.9zM63.98 209.61h0.9v0.9h-0.9zM87.42 216.08h0.9v0.9h-0.9zM87.14 216.72h0.9v0.9h-0.9zM60.95 197.86h0.9v0.9h-0.9zM57.77 215.9h0.9v0.9h-0.9zM92.43 206.45h0.9v0.9h-0.9zM63.56 206.8h0.9v0.9h-0.9zM92.98 205.17h0.9v0.9h-0.9zM89.93 200.86h0.9v0.9h-0.9zM94.96 219.38h0.9v0.9h-0.9zM72.09 168.99h0.9v0.9h-0.9zM92.87 190.82h0.9v0.9h-0.9zM80.21 194.43h0.9v0.9h-0.9zM86.31 203.68h0.9v0.9h-0.9zM89.11 207.47h0.9v0.9h-0.9zM79.94 172.82h0.9v0.9h-0.9zM55.93 204.18h0.9v0.9h-0.9zM103.32 206.45h0.9v0.9h-0.9zM55.3 213.09h0.9v0.9h-0.9zM81.12 214.68h0.9v0.9h-0.9zM89 217.92h0.9v0.9h-0.9zM70.48 204.55h0.9v0.9h-0.9zM82.31 208.04h0.9v0.9h-0.9zM70.38 179.08h0.9v0.9h-0.9zM91.88 203.59h0.9v0.9h-0.9zM78.69 169.79h0.9v0.9h-0.9zM94.89 210.13h0.9v0.9h-0.9zM58.2 216.84h0.9v0.9h-0.9zM77.26 179.42h0.9v0.9h-0.9zM66.88 164.1h0.9v0.9h-0.9zM66.64 178.13h0.9v0.9h-0.9zM76.95 210.39h0.9v0.9h-0.9zM89 215.17h0.9v0.9h-0.9zM82.42 178.8h0.9v0.9h-0.9zM89.19 213.27h0.9v0.9h-0.9zM67.83 173.86h0.9v0.9h-0.9zM55.93 210.44h0.9v0.9h-0.9zM57.36 211.64h0.9v0.9h-0.9zM91.66 205.02h0.9v0.9h-0.9zM83.12 169.25h0.9v0.9h-0.9zM88.18 208.46h0.9v0.9h-0.9zM59.73 208.54h0.9v0.9h-0.9zM94.03 205.44h0.9v0.9h-0.9zM86.46 195.02h0.9v0.9h-0.9zM70.59 211.44h0.9v0.9h-0.9zM53.09 207.24h0.9v0.9h-0.9zM89.94 202.43h0.9v0.9h-0.9zM78.69 164.01h0.9v0.9h-0.9zM70.34 169.18h0.9v0.9h-0.9zM76.72 172.95h0.9v0.9h-0.9zM80.91 208.76h0.9v0.9h-0.9zM89.47 210.09h0.9v0.9h-0.9zM78.13 162.82h0.9v0.9h-0.9zM80.46 165.09h0.9v0.9h-0.9zM62.86 206.44h0.9v0.9h-0.9zM62.34 193.56h0.9v0.9h-0.9zM80.64 201.86h0.9v0.9h-0.9zM69.15 177.29h0.9v0.9h-0.9zM74.84 201.29h0.9v0.9h-0.9zM105.81 195.3h0.9v0.9h-0.9zM90.29 208.46h0.9v0.9h-0.9zM67.55 165.84h0.9v0.9h-0.9zM82.44 217.96h0.9v0.9h-0.9zM75.17 169.53h0.9v0.9h-0.9zM60.09 194.54h0.9v0.9h-0.9zM92.98 208.02h0.9v0.9h-0.9zM58.09 205.81h0.9v0.9h-0.9zM57.16 210.75h0.9v0.9h-0.9zM71.92 178.65h0.9v0.9h-0.9zM65.49 198.58h0.9v0.9h-0.9zM53.01 206.41h0.9v0.9h-0.9zM86.23 205.62h0.9v0.9h-0.9zM88.35 205.92h0.9v0.9h-0.9zM72.07 169.96h0.9v0.9h-0.9zM63.97 163.39h0.9v0.9h-0.9zM90.37 211.7h0.9v0.9h-0.9zM97.99 193.04h0.9v0.9h-0.9zM76.2 169.17h0.9v0.9h-0.9zM71.09 165.77h0.9v0.9h-0.9zM73.66 175.93h0.9v0.9h-0.9zM77.6 210.77h0.9v0.9h-0.9zM71.67 167.04h0.9v0.9h-0.9zM67.99 175.05h0.9v0.9h-0.9zM68.05 167.85h0.9v0.9h-0.9zM65.88 207.1h0.9v0.9h-0.9zM96.58 207.47h0.9v0.9h-0.9zM62.79 212.9h0.9v0.9h-0.9zM65.53 167.42h0.9v0.9h-0.9zM90.97 217.85h0.9v0.9h-0.9zM60.69 198.46h0.9v0.9h-0.9zM93.63 173.31h0.9v0.9h-0.9zM92.86 214.67h0.9v0.9h-0.9zM59.1 202.23h0.9v0.9h-0.9zM57.87 205.45h0.9v0.9h-0.9zM90.04 194.67h0.9v0.9h-0.9zM62.27 164.08h0.9v0.9h-0.9zM70.47 161.95h0.9v0.9h-0.9zM92.23 216.65h0.9v0.9h-0.9zM86.72 207.37h0.9v0.9h-0.9zM65.92 214.02h0.9v0.9h-0.9zM72.12 206.26h0.9v0.9h-0.9zM69.85 200.47h0.9v0.9h-0.9zM56.76 209.33h0.9v0.9h-0.9zM76.13 153.94h0.9v0.9h-0.9zM80.89 200.75h0.9v0.9h-0.9zM84.16 215.51h0.9v0.9h-0.9zM61.92 206.12h0.9v0.9h-0.9zM75.48 168.32h0.9v0.9h-0.9zM64.12 200.04h0.9v0.9h-0.9zM85.44 199.06h0.9v0.9h-0.9zM59.56 196.63h0.9v0.9h-0.9zM78.97 166.05h0.9v0.9h-0.9zM67.66 175.56h0.9v0.9h-0.9z" fill="#a0b0e0" fill-opacity="0.75"/>
<g fill="#b4c0ee" fill-opacity="0.55" filter="url(#nz0)">
<ellipse cx="57" cy="175" rx="10.24" ry="21.12" transform="rotate(18 57 175)"/>
</g>
<g fill="#8aa0e0" fill-opacity="0.75" filter="url(#nz1)">
<ellipse cx="57" cy="175" rx="8.96" ry="18.48" transform="rotate(18 57 175)"/>
</g>
<g fill="#5a7ad0" fill-opacity="0.75" filter="url(#nz2)">
<ellipse cx="57" cy="175" rx="8" ry="16.5" transform="rotate(18 57 175)"/>
</g>
<g fill="#3a8ad8" filter="url(#bl)">
<ellipse cx="57" cy="175" rx="6.72" ry="13.86" transform="rotate(18 57 175)"/>
</g>
<g fill="#38aed0" filter="url(#bl)">
<ellipse cx="57" cy="175" rx="5.6" ry="11.55" transform="rotate(18 57 175)"/>
<ellipse cx="58.5" cy="170" rx="7" ry="8.4" transform="rotate(20 58.5 170)"/>
<ellipse cx="55.5" cy="184" rx="3.5" ry="4.9" transform="rotate(15 55.5 184)"/>
</g>
<g fill="#56bf86" filter="url(#bl)">
<ellipse cx="58.5" cy="170" rx="5.6" ry="6.72" transform="rotate(20 58.5 170)"/>
</g>
<g fill="#8fc944" filter="url(#bl)">
<ellipse cx="58.5" cy="170" rx="4.3" ry="5.16" transform="rotate(20 58.5 170)"/>
</g>
<g fill="#d6cc2e" filter="url(#bl)">
<ellipse cx="58.5" cy="170" rx="3" ry="3.6" transform="rotate(20 58.5 170)"/>
</g>
<g fill="#ec8f22" filter="url(#bl)">
<ellipse cx="58.5" cy="170" rx="1.8" ry="2.16" transform="rotate(20 58.5 170)"/>
</g>
<g fill="#e4521c" filter="url(#bl)">
<ellipse cx="58.5" cy="170" rx="0.9" ry="1.08" transform="rotate(20 58.5 170)"/>
</g>
<g fill="#fff" filter="url(#sp)">
<ellipse cx="57" cy="175" rx="8.4" ry="17.32" transform="rotate(18 57 175)"/>
</g>
</g>
<rect x="44.7" y="158.3" width="23.6" height="35.2" fill="none" stroke="#bca6bc" stroke-width="1"/>
<rect x="77" y="189.2" width="26.5" height="32.8" fill="none" stroke="#bca6bc" stroke-width="1"/>
<path d="M41.5 136.7H127V222" fill="none" stroke="#a6a6a6" stroke-width="1"/>
<path d="M41.5 136.7V222H127" fill="none" stroke="#3a3a3a" stroke-width="1.1"/>
<path d="M39.5 144.2h2M40.5 148.7h1M40.5 152.7h1M40.5 156.2h1M39.5 163.9h2M40.5 168.4h1M40.5 172.4h1M40.5 175.9h1M39.5 183.5h2M40.5 188h1M40.5 192h1M40.5 195.5h1M39.5 203.5h2M40.5 208h1M40.5 212h1M39.3 213.1h2.2M50.4 222v2M58.9 222v2M80.1 222v2M99 222v2M118 222v2M63.5 222v1M68.5 222v1M72 222v1M74.5 222v1M84.5 222v1M89.5 222v1M93 222v1M95.5 222v1M103.5 222v1M108.5 222v1M112 222v1M114.5 222v1" stroke="#444" stroke-width="0.7" fill="none"/>
<g font-size="4.6" fill="#3a3a3a"><text x="38.9" y="145.6" text-anchor="end">10⁵</text><text x="38.9" y="165.3" text-anchor="end">10⁴</text><text x="38.9" y="184.9" text-anchor="end">10³</text><text x="38.9" y="204.9" text-anchor="end">10²</text><text x="38.7" y="214.5" text-anchor="end">0</text><text x="50.4" y="229.6" text-anchor="middle">0</text><text x="58.9" y="229.6" text-anchor="middle">10³</text><text x="80.1" y="229.6" text-anchor="middle">10⁴</text><text x="99" y="229.6" text-anchor="middle">10⁵</text><text x="118" y="229.6" text-anchor="middle">10⁶</text></g>
<text x="49.5" y="155.6" font-size="7.1" text-anchor="start" fill="#1a1a1a" >76.9</text>
<text x="107.2" y="207.4" font-size="7.1" text-anchor="start" fill="#1a1a1a" >9.21</text>
<clipPath id="c11"><rect x="136.8" y="136.7" width="85.5" height="85.3"/></clipPath>
<g clip-path="url(#c11)">
<path d="M145.52 191.64h0.9v0.9h-0.9zM154.02 168.97h0.9v0.9h-0.9zM161.83 167.94h0.9v0.9h-0.9zM153.43 165.56h0.9v0.9h-0.9zM145.85 213.67h0.9v0.9h-0.9zM163.68 180.8h0.9v0.9h-0.9zM143.6 172.79h0.9v0.9h-0.9zM159.09 217.01h0.9v0.9h-0.9zM148.21 176.97h0.9v0.9h-0.9zM162.25 186.75h0.9v0.9h-0.9zM156.4 163.9h0.9v0.9h-0.9z" fill="#9aa6c8" fill-opacity="0.7"/>
<path d="M154.52 203.44h0.9v0.9h-0.9zM158.69 173.18h0.9v0.9h-0.9zM153.57 181.59h0.9v0.9h-0.9zM159.17 202.34h0.9v0.9h-0.9zM155.92 204.16h0.9v0.9h-0.9zM153.76 163.48h0.9v0.9h-0.9zM145.84 197.27h0.9v0.9h-0.9zM165.55 174.55h0.9v0.9h-0.9zM154.24 216.02h0.9v0.9h-0.9zM146.03 200.4h0.9v0.9h-0.9z" fill="#a0b0c8" fill-opacity="0.7"/>
<path d="M149.12 165.14h0.9v0.9h-0.9zM165.5 181.38h0.9v0.9h-0.9zM144.99 206.05h0.9v0.9h-0.9zM152.77 165.12h0.9v0.9h-0.9zM152.44 198.04h0.9v0.9h-0.9zM158.61 217.8h0.9v0.9h-0.9zM144.46 164.55h0.9v0.9h-0.9zM145.76 191.23h0.9v0.9h-0.9zM152.2 209.62h0.9v0.9h-0.9zM149.82 191.68h0.9v0.9h-0.9z" fill="#b0b8d0" fill-opacity="0.7"/>
<path d="M152.63 216.8h0.9v0.9h-0.9zM152.25 179.53h0.9v0.9h-0.9zM153.36 166.22h0.9v0.9h-0.9zM156.05 216.6h0.9v0.9h-0.9zM153.97 205.67h0.9v0.9h-0.9zM156.49 177.86h0.9v0.9h-0.9zM157.7 213.73h0.9v0.9h-0.9zM144.11 171.46h0.9v0.9h-0.9zM154.34 177.95h0.9v0.9h-0.9zM150.67 182.13h0.9v0.9h-0.9zM154.6 212.39h0.9v0.9h-0.9zM153.6 217.68h0.9v0.9h-0.9zM150.14 208.88h0.9v0.9h-0.9zM152.03 171.98h0.9v0.9h-0.9zM153.93 207.79h0.9v0.9h-0.9zM154.9 211.17h0.9v0.9h-0.9zM156.92 167.34h0.9v0.9h-0.9zM155.02 180.99h0.9v0.9h-0.9zM155.9 210.52h0.9v0.9h-0.9zM155.39 212.03h0.9v0.9h-0.9zM149.92 208.21h0.9v0.9h-0.9zM150.91 179.57h0.9v0.9h-0.9zM148.39 203.89h0.9v0.9h-0.9zM153.27 207.48h0.9v0.9h-0.9zM151.97 214.67h0.9v0.9h-0.9zM149.64 205.1h0.9v0.9h-0.9zM154.44 181.07h0.9v0.9h-0.9zM158.16 170.4h0.9v0.9h-0.9zM152.71 216.13h0.9v0.9h-0.9zM150.75 210.13h0.9v0.9h-0.9zM153.64 180.28h0.9v0.9h-0.9zM150.24 204.33h0.9v0.9h-0.9zM149.52 180.59h0.9v0.9h-0.9zM150.01 207.41h0.9v0.9h-0.9zM155.68 169.22h0.9v0.9h-0.9zM154.73 209.67h0.9v0.9h-0.9zM154.99 206.33h0.9v0.9h-0.9zM151.42 209.65h0.9v0.9h-0.9zM150.42 176.77h0.9v0.9h-0.9zM143.62 209.96h0.9v0.9h-0.9zM156.04 181.36h0.9v0.9h-0.9zM150.11 210.48h0.9v0.9h-0.9zM154.12 201.64h0.9v0.9h-0.9zM149.55 184.62h0.9v0.9h-0.9zM153.8 201.2h0.9v0.9h-0.9zM155.22 212.33h0.9v0.9h-0.9zM155.49 180.18h0.9v0.9h-0.9zM153.01 169.79h0.9v0.9h-0.9zM149.68 167.49h0.9v0.9h-0.9zM144.96 170.48h0.9v0.9h-0.9zM150.7 175.56h0.9v0.9h-0.9zM152.12 182.34h0.9v0.9h-0.9z" fill="#7a8cac" fill-opacity="0.75"/>
<path d="M154.56 164.15h0.9v0.9h-0.9zM154.12 211.3h0.9v0.9h-0.9zM154.46 171.21h0.9v0.9h-0.9zM153.1 213.8h0.9v0.9h-0.9zM158.42 212.97h0.9v0.9h-0.9zM158.35 174.93h0.9v0.9h-0.9zM151.2 202.49h0.9v0.9h-0.9zM147.69 218.36h0.9v0.9h-0.9zM153.04 203.48h0.9v0.9h-0.9zM151.86 207.08h0.9v0.9h-0.9zM153.49 210.46h0.9v0.9h-0.9zM151.61 212.8h0.9v0.9h-0.9zM147.3 162.4h0.9v0.9h-0.9zM153.69 214.14h0.9v0.9h-0.9zM155.75 209.19h0.9v0.9h-0.9zM150.72 176.89h0.9v0.9h-0.9zM154.01 208.63h0.9v0.9h-0.9zM155.81 165.01h0.9v0.9h-0.9zM148.64 206.21h0.9v0.9h-0.9zM151.15 209.4h0.9v0.9h-0.9zM153.72 172.71h0.9v0.9h-0.9zM151.29 188.69h0.9v0.9h-0.9zM153.18 168.87h0.9v0.9h-0.9zM161.43 178h0.9v0.9h-0.9zM152.8 221.17h0.9v0.9h-0.9zM153.42 207.23h0.9v0.9h-0.9zM154.27 209.99h0.9v0.9h-0.9zM150.35 189.61h0.9v0.9h-0.9zM152.96 174.51h0.9v0.9h-0.9zM149.86 207.44h0.9v0.9h-0.9zM155.68 173.45h0.9v0.9h-0.9zM156.14 212.22h0.9v0.9h-0.9zM148.81 210.33h0.9v0.9h-0.9zM149.37 209.53h0.9v0.9h-0.9zM156.98 182.88h0.9v0.9h-0.9zM152.42 179.78h0.9v0.9h-0.9zM154.1 213.16h0.9v0.9h-0.9zM154.68 173.55h0.9v0.9h-0.9zM151.68 215.43h0.9v0.9h-0.9zM150.7 208.87h0.9v0.9h-0.9zM154.59 213.49h0.9v0.9h-0.9zM151.84 204.01h0.9v0.9h-0.9zM148.39 207.99h0.9v0.9h-0.9zM149.11 177.95h0.9v0.9h-0.9zM152.03 213.47h0.9v0.9h-0.9zM153.94 176.46h0.9v0.9h-0.9zM148.72 167.86h0.9v0.9h-0.9zM152.7 203.47h0.9v0.9h-0.9zM153.38 182.92h0.9v0.9h-0.9zM154.69 167.8h0.9v0.9h-0.9zM149.44 172.81h0.9v0.9h-0.9zM154.53 189.3h0.9v0.9h-0.9z" fill="#8c9cb4" fill-opacity="0.75"/>
<path d="M150.06 208.59h0.9v0.9h-0.9zM153.13 164.1h0.9v0.9h-0.9zM155.46 204.3h0.9v0.9h-0.9zM155.03 204.51h0.9v0.9h-0.9zM152.16 177.73h0.9v0.9h-0.9zM152.78 211.33h0.9v0.9h-0.9zM145.37 177.33h0.9v0.9h-0.9zM149.92 209.85h0.9v0.9h-0.9zM144.91 186.9h0.9v0.9h-0.9zM161.69 168.62h0.9v0.9h-0.9zM155.82 215.54h0.9v0.9h-0.9zM153.4 214.07h0.9v0.9h-0.9zM152.93 183.87h0.9v0.9h-0.9zM158.38 178.74h0.9v0.9h-0.9zM153.71 176.62h0.9v0.9h-0.9zM151.16 201.1h0.9v0.9h-0.9zM154.08 174.89h0.9v0.9h-0.9zM151.9 178.69h0.9v0.9h-0.9zM152.6 168.2h0.9v0.9h-0.9zM150.99 210.74h0.9v0.9h-0.9zM154.26 204.22h0.9v0.9h-0.9zM158.58 175.47h0.9v0.9h-0.9zM154.75 213.16h0.9v0.9h-0.9zM150.28 213.78h0.9v0.9h-0.9zM155.85 160.43h0.9v0.9h-0.9zM150.17 186.53h0.9v0.9h-0.9zM150.23 209.65h0.9v0.9h-0.9zM152.17 181.94h0.9v0.9h-0.9zM147.88 178.21h0.9v0.9h-0.9zM154.38 205.79h0.9v0.9h-0.9zM147.26 201.9h0.9v0.9h-0.9zM153.61 214.67h0.9v0.9h-0.9zM155.88 218.71h0.9v0.9h-0.9zM156.38 211.61h0.9v0.9h-0.9zM150.58 211.78h0.9v0.9h-0.9zM153.34 204.44h0.9v0.9h-0.9zM151.95 212.26h0.9v0.9h-0.9zM152.63 180.2h0.9v0.9h-0.9zM151.57 210.07h0.9v0.9h-0.9zM153.12 208.75h0.9v0.9h-0.9zM152.61 208.47h0.9v0.9h-0.9zM155.88 211.38h0.9v0.9h-0.9zM148.25 174.43h0.9v0.9h-0.9zM157.39 173.4h0.9v0.9h-0.9zM156.52 209.15h0.9v0.9h-0.9zM150.2 213.28h0.9v0.9h-0.9zM153.26 207.73h0.9v0.9h-0.9zM150.04 176.49h0.9v0.9h-0.9zM153.58 211.7h0.9v0.9h-0.9zM151.96 206.11h0.9v0.9h-0.9zM154.38 180.94h0.9v0.9h-0.9zM156.04 171.32h0.9v0.9h-0.9z" fill="#6c7ea4" fill-opacity="0.75"/>
<path d="M154.08 190.45h0.9v0.9h-0.9zM150.34 214.24h0.9v0.9h-0.9zM152.1 172.34h0.9v0.9h-0.9zM158.08 154.13h0.9v0.9h-0.9zM155.69 202.87h0.9v0.9h-0.9zM157.36 199.4h0.9v0.9h-0.9zM153.16 163.03h0.9v0.9h-0.9zM151.12 213.4h0.9v0.9h-0.9zM150.4 207.88h0.9v0.9h-0.9zM149.13 206.74h0.9v0.9h-0.9zM147.4 184.01h0.9v0.9h-0.9zM154.88 212.36h0.9v0.9h-0.9zM152.77 176.45h0.9v0.9h-0.9zM155.78 175.85h0.9v0.9h-0.9zM157.25 201.48h0.9v0.9h-0.9zM148.43 217.52h0.9v0.9h-0.9zM153.86 173.28h0.9v0.9h-0.9zM156.92 176.69h0.9v0.9h-0.9zM148.57 207.46h0.9v0.9h-0.9zM148.01 182.22h0.9v0.9h-0.9zM153.19 183.44h0.9v0.9h-0.9zM157.92 177.76h0.9v0.9h-0.9zM153.89 204.82h0.9v0.9h-0.9zM155.51 173.56h0.9v0.9h-0.9zM151.79 214.63h0.9v0.9h-0.9zM154.42 204.68h0.9v0.9h-0.9zM150.61 215.18h0.9v0.9h-0.9zM154.22 205.84h0.9v0.9h-0.9zM157.89 206.18h0.9v0.9h-0.9zM145.22 209.13h0.9v0.9h-0.9zM149.89 207.7h0.9v0.9h-0.9zM153.77 177h0.9v0.9h-0.9zM148.54 171.59h0.9v0.9h-0.9zM155.34 174.98h0.9v0.9h-0.9zM149.04 209.98h0.9v0.9h-0.9zM151.62 175.48h0.9v0.9h-0.9zM152.05 209.85h0.9v0.9h-0.9zM155.26 211.31h0.9v0.9h-0.9zM156.52 216.57h0.9v0.9h-0.9zM150.46 175.76h0.9v0.9h-0.9zM145.36 173.7h0.9v0.9h-0.9zM148.24 210.87h0.9v0.9h-0.9zM153.68 209.08h0.9v0.9h-0.9zM151.17 209.56h0.9v0.9h-0.9zM151.43 183.16h0.9v0.9h-0.9zM150.19 180.42h0.9v0.9h-0.9zM154.46 178.41h0.9v0.9h-0.9zM154.85 212.04h0.9v0.9h-0.9zM152.42 166.96h0.9v0.9h-0.9zM151.67 209.65h0.9v0.9h-0.9zM154.25 184.56h0.9v0.9h-0.9zM147.15 173.04h0.9v0.9h-0.9z" fill="#a0acc4" fill-opacity="0.75"/>
<path d="M152.79 212.4h0.9v0.9h-0.9zM153.12 172.05h0.9v0.9h-0.9zM149.88 187.36h0.9v0.9h-0.9zM155.86 177.21h0.9v0.9h-0.9zM153.42 214.9h0.9v0.9h-0.9zM152.85 211.96h0.9v0.9h-0.9zM150.42 169.84h0.9v0.9h-0.9zM157.08 172.06h0.9v0.9h-0.9zM147.77 215.35h0.9v0.9h-0.9zM153.52 209.38h0.9v0.9h-0.9zM154.7 168.04h0.9v0.9h-0.9zM144.15 185.07h0.9v0.9h-0.9zM152.95 199.65h0.9v0.9h-0.9zM148.95 181.44h0.9v0.9h-0.9zM160.54 175.94h0.9v0.9h-0.9zM157.26 182.22h0.9v0.9h-0.9zM150.64 177.64h0.9v0.9h-0.9zM150.5 174.48h0.9v0.9h-0.9zM156.43 181.59h0.9v0.9h-0.9zM152.39 175.12h0.9v0.9h-0.9zM154.05 172.73h0.9v0.9h-0.9zM156.6 174.77h0.9v0.9h-0.9zM151.86 210.74h0.9v0.9h-0.9zM154 222.12h0.9v0.9h-0.9zM151.19 202.9h0.9v0.9h-0.9zM154.24 167.86h0.9v0.9h-0.9zM154.29 209.65h0.9v0.9h-0.9zM152.54 208.12h0.9v0.9h-0.9zM148.89 210.56h0.9v0.9h-0.9zM153.21 215.44h0.9v0.9h-0.9zM149.44 223.14h0.9v0.9h-0.9zM154.59 180.01h0.9v0.9h-0.9zM149.37 215.78h0.9v0.9h-0.9zM153.03 209.95h0.9v0.9h-0.9zM147.83 173.21h0.9v0.9h-0.9zM152.66 172.09h0.9v0.9h-0.9zM148.41 211.68h0.9v0.9h-0.9zM155.04 203.23h0.9v0.9h-0.9zM152.55 206.72h0.9v0.9h-0.9zM147.83 213.62h0.9v0.9h-0.9zM151.08 208.68h0.9v0.9h-0.9zM154.13 170.58h0.9v0.9h-0.9zM153.74 209.54h0.9v0.9h-0.9zM154.98 209.8h0.9v0.9h-0.9zM147.37 178.61h0.9v0.9h-0.9zM154.07 216.65h0.9v0.9h-0.9zM154.75 178.58h0.9v0.9h-0.9zM153.16 208.74h0.9v0.9h-0.9zM146.07 176.65h0.9v0.9h-0.9zM150.99 177.31h0.9v0.9h-0.9zM148.96 174.65h0.9v0.9h-0.9zM147.3 204.76h0.9v0.9h-0.9z" fill="#90a8a8" fill-opacity="0.75"/>
<g fill="#c4cce4" fill-opacity="0.55" filter="url(#nz0)">
<ellipse cx="152.5" cy="176" rx="7.04" ry="14.72" transform="rotate(10 152.5 176)"/>
</g>
<g fill="#a8b8d4" fill-opacity="0.75" filter="url(#nz1)">
<ellipse cx="152.5" cy="176" rx="6.16" ry="12.88" transform="rotate(10 152.5 176)"/>
</g>
<g fill="#8aa4bc" fill-opacity="0.75" filter="url(#nz2)">
<ellipse cx="152.5" cy="176" rx="5.5" ry="11.5" transform="rotate(10 152.5 176)"/>
</g>
<g fill="#7fa6a8" filter="url(#bl)">
<ellipse cx="152.5" cy="176" rx="4.62" ry="9.66" transform="rotate(10 152.5 176)"/>
</g>
<g fill="#86ab9c" filter="url(#bl)">
<ellipse cx="152.5" cy="176" rx="3.85" ry="8.05" transform="rotate(10 152.5 176)"/>
<ellipse cx="151.5" cy="177.6" rx="3.5" ry="3.5" transform="rotate(0 151.5 177.6)"/>
<ellipse cx="153" cy="169" rx="3.15" ry="3.85" transform="rotate(10 153 169)"/>
</g>
<g fill="#9aae84" filter="url(#bl)">
<ellipse cx="151.5" cy="177.6" rx="2.8" ry="2.8" transform="rotate(0 151.5 177.6)"/>
<ellipse cx="153" cy="169" rx="2.52" ry="3.08" transform="rotate(10 153 169)"/>
</g>
<g fill="#aaa870" filter="url(#bl)">
<ellipse cx="151.5" cy="177.6" rx="2.15" ry="2.15" transform="rotate(0 151.5 177.6)"/>
</g>
<g fill="#b49c5c" filter="url(#bl)">
<ellipse cx="151.5" cy="177.6" rx="1.5" ry="1.5" transform="rotate(0 151.5 177.6)"/>
</g>
<g fill="#b08a50" filter="url(#bl)">
<ellipse cx="151.5" cy="177.6" rx="0.9" ry="0.9" transform="rotate(0 151.5 177.6)"/>
</g>
<g fill="#fff" filter="url(#sp)">
<ellipse cx="152.5" cy="176" rx="5.78" ry="12.08" transform="rotate(10 152.5 176)"/>
</g>
</g>
<rect x="140" y="158.3" width="23.6" height="35.2" fill="none" stroke="#bca6bc" stroke-width="1"/>
<rect x="172.3" y="189.2" width="26.5" height="32.8" fill="none" stroke="#bca6bc" stroke-width="1"/>
<path d="M136.8 136.7H222.3V222" fill="none" stroke="#a6a6a6" stroke-width="1"/>
<path d="M136.8 136.7V222H222.3" fill="none" stroke="#3a3a3a" stroke-width="1.1"/>
<path d="M134.8 144.2h2M135.8 148.7h1M135.8 152.7h1M135.8 156.2h1M134.8 163.9h2M135.8 168.4h1M135.8 172.4h1M135.8 175.9h1M134.8 183.5h2M135.8 188h1M135.8 192h1M135.8 195.5h1M134.8 203.5h2M135.8 208h1M135.8 212h1M134.6 213.1h2.2M145.7 222v2M154.2 222v2M175.4 222v2M194.3 222v2M213.3 222v2M158.8 222v1M163.8 222v1M167.3 222v1M169.8 222v1M179.8 222v1M184.8 222v1M188.3 222v1M190.8 222v1M198.8 222v1M203.8 222v1M207.3 222v1M209.8 222v1" stroke="#444" stroke-width="0.7" fill="none"/>
<g font-size="4.6" fill="#3a3a3a"><text x="134.2" y="145.6" text-anchor="end">10⁵</text><text x="134.2" y="165.3" text-anchor="end">10⁴</text><text x="134.2" y="184.9" text-anchor="end">10³</text><text x="134.2" y="204.9" text-anchor="end">10²</text><text x="134" y="214.5" text-anchor="end">0</text><text x="145.7" y="229.6" text-anchor="middle">0</text><text x="154.2" y="229.6" text-anchor="middle">10³</text><text x="175.4" y="229.6" text-anchor="middle">10⁴</text><text x="194.3" y="229.6" text-anchor="middle">10⁵</text><text x="213.3" y="229.6" text-anchor="middle">10⁶</text></g>
<text x="145.8" y="155.6" font-size="7.1" text-anchor="start" fill="#1a1a1a" >72.3</text>
<text x="200.8" y="207.4" font-size="7.1" text-anchor="start" fill="#1a1a1a" >0.032</text>
<clipPath id="c12"><rect x="232.2" y="136.7" width="85.5" height="85.3"/></clipPath>
<g clip-path="url(#c12)">
<path d="M252.12 216.28h0.9v0.9h-0.9zM272.66 167.25h0.9v0.9h-0.9zM271.3 163.57h0.9v0.9h-0.9zM266.58 170.61h0.9v0.9h-0.9zM258.98 168.81h0.9v0.9h-0.9zM262.87 167.03h0.9v0.9h-0.9zM256.83 158.59h0.9v0.9h-0.9z" fill="#aab0d8" fill-opacity="0.7"/>
<path d="M271.14 171.25h0.9v0.9h-0.9zM272.02 165.57h0.9v0.9h-0.9zM258.53 164.14h0.9v0.9h-0.9zM266.85 158.59h0.9v0.9h-0.9zM277.03 171.15h0.9v0.9h-0.9zM250.04 194.3h0.9v0.9h-0.9z" fill="#9aa2d0" fill-opacity="0.7"/>
<path d="M270.99 159.08h0.9v0.9h-0.9zM244.8 196.12h0.9v0.9h-0.9zM241.77 217.33h0.9v0.9h-0.9zM272.56 165.18h0.9v0.9h-0.9zM242.61 194.68h0.9v0.9h-0.9zM257.15 198.23h0.9v0.9h-0.9z" fill="#bcbcde" fill-opacity="0.7"/>
<path d="M254.17 198.5h0.9v0.9h-0.9zM251.01 209.34h0.9v0.9h-0.9zM264.62 159.16h0.9v0.9h-0.9zM274.43 158.64h0.9v0.9h-0.9zM258.3 192.62h0.9v0.9h-0.9zM254.75 160.51h0.9v0.9h-0.9z" fill="#c4b6da" fill-opacity="0.7"/>
<path d="M254.88 169.57h0.9v0.9h-0.9zM249.64 194.51h0.9v0.9h-0.9zM259.7 205.41h0.9v0.9h-0.9zM265.11 162.13h0.9v0.9h-0.9zM263.8 171.41h0.9v0.9h-0.9zM260.13 213.06h0.9v0.9h-0.9z" fill="#a4aed8" fill-opacity="0.7"/>
<path d="M253.17 213.04h0.9v0.9h-0.9zM250.76 208.82h0.9v0.9h-0.9zM248.47 206.85h0.9v0.9h-0.9zM252.73 212.52h0.9v0.9h-0.9zM248.45 211.38h0.9v0.9h-0.9zM249.21 205.3h0.9v0.9h-0.9zM252.28 216.22h0.9v0.9h-0.9zM247.9 212.82h0.9v0.9h-0.9zM252.92 209.69h0.9v0.9h-0.9zM246.28 200.06h0.9v0.9h-0.9zM248.53 211.55h0.9v0.9h-0.9zM248.09 212.63h0.9v0.9h-0.9zM249.26 213.97h0.9v0.9h-0.9zM248.5 217.76h0.9v0.9h-0.9zM252.21 207.92h0.9v0.9h-0.9zM255.78 209.92h0.9v0.9h-0.9zM244.61 212.22h0.9v0.9h-0.9zM254.23 207.7h0.9v0.9h-0.9zM244.26 206.66h0.9v0.9h-0.9zM250.11 213.21h0.9v0.9h-0.9zM248.76 212.72h0.9v0.9h-0.9zM252.33 205.24h0.9v0.9h-0.9zM248.56 211.04h0.9v0.9h-0.9zM248.02 207.37h0.9v0.9h-0.9zM255.69 213.29h0.9v0.9h-0.9zM247.43 207.7h0.9v0.9h-0.9zM243.91 214.23h0.9v0.9h-0.9zM254.68 219.1h0.9v0.9h-0.9zM249.14 200.33h0.9v0.9h-0.9zM246.35 205.4h0.9v0.9h-0.9zM252.48 216.85h0.9v0.9h-0.9zM250.03 204.57h0.9v0.9h-0.9z" fill="#4a66c4" fill-opacity="0.75"/>
<path d="M247.48 213.57h0.9v0.9h-0.9zM251.95 210.75h0.9v0.9h-0.9zM245.78 206.96h0.9v0.9h-0.9zM248.73 206.66h0.9v0.9h-0.9zM251.52 209.46h0.9v0.9h-0.9zM250.7 210.4h0.9v0.9h-0.9zM248.36 207.98h0.9v0.9h-0.9zM242.8 206.42h0.9v0.9h-0.9zM247.78 212.56h0.9v0.9h-0.9zM248.28 206.22h0.9v0.9h-0.9zM247.84 209h0.9v0.9h-0.9zM251.5 205.49h0.9v0.9h-0.9zM250.78 210.25h0.9v0.9h-0.9zM250.05 210.24h0.9v0.9h-0.9zM254.88 201.5h0.9v0.9h-0.9zM249.39 209.09h0.9v0.9h-0.9zM252.85 213.56h0.9v0.9h-0.9zM249.12 218.1h0.9v0.9h-0.9zM250.05 213.74h0.9v0.9h-0.9zM248.89 208.85h0.9v0.9h-0.9zM246.81 208.94h0.9v0.9h-0.9zM248.01 212.98h0.9v0.9h-0.9zM250.56 202.35h0.9v0.9h-0.9zM249.46 215.78h0.9v0.9h-0.9zM247.23 207.06h0.9v0.9h-0.9zM250.36 214.43h0.9v0.9h-0.9zM248.03 208.91h0.9v0.9h-0.9zM249.16 211.99h0.9v0.9h-0.9zM244.15 214.09h0.9v0.9h-0.9zM252.22 206.41h0.9v0.9h-0.9zM252.34 209h0.9v0.9h-0.9zM244.91 205.01h0.9v0.9h-0.9z" fill="#5c7ad2" fill-opacity="0.75"/>
<path d="M248.04 217.06h0.9v0.9h-0.9zM246.73 208.5h0.9v0.9h-0.9zM251.55 206.04h0.9v0.9h-0.9zM244.35 218.58h0.9v0.9h-0.9zM248.7 210.02h0.9v0.9h-0.9zM256.11 213.88h0.9v0.9h-0.9zM250.6 208.12h0.9v0.9h-0.9zM248.34 208.31h0.9v0.9h-0.9zM245.55 210.41h0.9v0.9h-0.9zM249.46 210.04h0.9v0.9h-0.9zM248.97 212.97h0.9v0.9h-0.9zM247.59 201.8h0.9v0.9h-0.9zM245.72 208.41h0.9v0.9h-0.9zM255.93 206.39h0.9v0.9h-0.9zM253.35 212.7h0.9v0.9h-0.9zM251.23 208.95h0.9v0.9h-0.9zM251.14 208.83h0.9v0.9h-0.9zM249.26 208.22h0.9v0.9h-0.9zM250.06 208.58h0.9v0.9h-0.9zM254.22 215.18h0.9v0.9h-0.9zM245.92 213.36h0.9v0.9h-0.9zM249.55 206.02h0.9v0.9h-0.9zM245.1 215h0.9v0.9h-0.9zM248.04 209.51h0.9v0.9h-0.9zM244.39 206.64h0.9v0.9h-0.9zM244.59 215.2h0.9v0.9h-0.9zM259.67 202.83h0.9v0.9h-0.9zM252.2 215.37h0.9v0.9h-0.9zM252.33 210.78h0.9v0.9h-0.9zM246.16 204.2h0.9v0.9h-0.9zM246.79 211.41h0.9v0.9h-0.9zM241.52 216.35h0.9v0.9h-0.9z" fill="#7088d6" fill-opacity="0.75"/>
<path d="M249.22 215.41h0.9v0.9h-0.9zM248.73 208.46h0.9v0.9h-0.9zM251.09 208.6h0.9v0.9h-0.9zM250.74 213.27h0.9v0.9h-0.9zM248.03 205.64h0.9v0.9h-0.9zM244.83 206.6h0.9v0.9h-0.9zM249.44 207.99h0.9v0.9h-0.9zM253.06 214.53h0.9v0.9h-0.9zM254.11 205.23h0.9v0.9h-0.9zM247.7 201.4h0.9v0.9h-0.9zM246.29 210.74h0.9v0.9h-0.9zM246.44 214.82h0.9v0.9h-0.9zM247.04 210.19h0.9v0.9h-0.9zM249.15 205.96h0.9v0.9h-0.9zM250.88 206.42h0.9v0.9h-0.9zM247.1 206.63h0.9v0.9h-0.9zM250.88 214.13h0.9v0.9h-0.9zM255.29 208.59h0.9v0.9h-0.9zM253.41 217.6h0.9v0.9h-0.9zM250.63 216.05h0.9v0.9h-0.9zM251.26 212.45h0.9v0.9h-0.9zM251.4 214.63h0.9v0.9h-0.9zM245.73 213.84h0.9v0.9h-0.9zM250.59 202.46h0.9v0.9h-0.9zM250.29 212.6h0.9v0.9h-0.9zM248.32 206.34h0.9v0.9h-0.9zM251.46 209.16h0.9v0.9h-0.9zM247.64 212.97h0.9v0.9h-0.9zM247.74 212.08h0.9v0.9h-0.9zM245.4 214.97h0.9v0.9h-0.9zM248.85 207.47h0.9v0.9h-0.9zM249.64 202.54h0.9v0.9h-0.9z" fill="#3e5ab4" fill-opacity="0.75"/>
<path d="M249.08 211.58h0.9v0.9h-0.9zM250.03 206.6h0.9v0.9h-0.9zM248.54 216.37h0.9v0.9h-0.9zM243.65 208.63h0.9v0.9h-0.9zM247.43 203.18h0.9v0.9h-0.9zM250.34 202.42h0.9v0.9h-0.9zM248.06 204.8h0.9v0.9h-0.9zM246.66 203.33h0.9v0.9h-0.9zM247.58 216.54h0.9v0.9h-0.9zM251.12 214.43h0.9v0.9h-0.9zM245.78 212.68h0.9v0.9h-0.9zM250.38 210.83h0.9v0.9h-0.9zM253.68 217.73h0.9v0.9h-0.9zM253.13 218.7h0.9v0.9h-0.9zM250.74 212.41h0.9v0.9h-0.9zM249.91 212.95h0.9v0.9h-0.9zM247.77 213.49h0.9v0.9h-0.9zM252.34 208.54h0.9v0.9h-0.9zM247.78 213.85h0.9v0.9h-0.9zM250.18 207.59h0.9v0.9h-0.9zM249.96 211.56h0.9v0.9h-0.9zM245.4 216.36h0.9v0.9h-0.9zM250.88 209.6h0.9v0.9h-0.9zM247.98 214.29h0.9v0.9h-0.9zM241.92 212.28h0.9v0.9h-0.9zM247.62 208.1h0.9v0.9h-0.9zM247.84 213.54h0.9v0.9h-0.9zM251.51 209.09h0.9v0.9h-0.9zM250.04 210.11h0.9v0.9h-0.9zM250.7 218.88h0.9v0.9h-0.9zM249.09 205.35h0.9v0.9h-0.9z" fill="#8aa0dc" fill-opacity="0.75"/>
<path d="M246.35 218.88h0.9v0.9h-0.9zM249.51 203.97h0.9v0.9h-0.9zM249.94 215.82h0.9v0.9h-0.9zM251.7 218.2h0.9v0.9h-0.9zM251.5 213.2h0.9v0.9h-0.9zM246.09 213.32h0.9v0.9h-0.9zM243.75 203.05h0.9v0.9h-0.9zM247.92 212.01h0.9v0.9h-0.9zM250.36 209.02h0.9v0.9h-0.9zM247.06 209.63h0.9v0.9h-0.9zM247.42 211.07h0.9v0.9h-0.9zM252.06 207.71h0.9v0.9h-0.9zM241.49 216.62h0.9v0.9h-0.9zM244.87 221.44h0.9v0.9h-0.9zM246.98 214.69h0.9v0.9h-0.9zM256.63 206.49h0.9v0.9h-0.9zM252.56 206.48h0.9v0.9h-0.9zM248.44 214.45h0.9v0.9h-0.9zM249.3 211.22h0.9v0.9h-0.9zM247.36 215.56h0.9v0.9h-0.9zM247.43 210.79h0.9v0.9h-0.9zM248.81 216.01h0.9v0.9h-0.9zM253.8 214.13h0.9v0.9h-0.9zM250.64 204.64h0.9v0.9h-0.9zM251 211.08h0.9v0.9h-0.9zM255.2 205.4h0.9v0.9h-0.9zM248.6 210.12h0.9v0.9h-0.9zM248.96 204.26h0.9v0.9h-0.9zM246.45 204.64h0.9v0.9h-0.9zM249.27 209.86h0.9v0.9h-0.9zM249.12 204.36h0.9v0.9h-0.9z" fill="#a0b0e0" fill-opacity="0.75"/>
<g fill="#b4c0ee" fill-opacity="0.55" filter="url(#nz0)">
<ellipse cx="248" cy="176" rx="9.6" ry="17.28" transform="rotate(25 248 176)"/>
</g>
<g fill="#8aa0e0" fill-opacity="0.75" filter="url(#nz1)">
<ellipse cx="248" cy="176" rx="8.4" ry="15.12" transform="rotate(25 248 176)"/>
</g>
<g fill="#5a7ad0" fill-opacity="0.75" filter="url(#nz2)">
<ellipse cx="248" cy="176" rx="7.5" ry="13.5" transform="rotate(25 248 176)"/>
</g>
<g fill="#3a8ad8" filter="url(#bl)">
<ellipse cx="248" cy="176" rx="6.3" ry="11.34" transform="rotate(25 248 176)"/>
</g>
<g fill="#38aed0" filter="url(#bl)">
<ellipse cx="248" cy="176" rx="5.25" ry="9.45" transform="rotate(25 248 176)"/>
<ellipse cx="245.5" cy="177.6" rx="4.9" ry="4.9" transform="rotate(0 245.5 177.6)"/>
<ellipse cx="248.4" cy="171.3" rx="4.2" ry="4.9" transform="rotate(20 248.4 171.3)"/>
</g>
<g fill="#56bf86" filter="url(#bl)">
<ellipse cx="245.5" cy="177.6" rx="3.92" ry="3.92" transform="rotate(0 245.5 177.6)"/>
<ellipse cx="248.4" cy="171.3" rx="3.36" ry="3.92" transform="rotate(20 248.4 171.3)"/>
</g>
<g fill="#8fc944" filter="url(#bl)">
<ellipse cx="245.5" cy="177.6" rx="3.01" ry="3.01" transform="rotate(0 245.5 177.6)"/>
<ellipse cx="248.4" cy="171.3" rx="2.58" ry="3.01" transform="rotate(20 248.4 171.3)"/>
</g>
<g fill="#d6cc2e" filter="url(#bl)">
<ellipse cx="245.5" cy="177.6" rx="2.1" ry="2.1" transform="rotate(0 245.5 177.6)"/>
</g>
<g fill="#ec8f22" filter="url(#bl)">
<ellipse cx="245.5" cy="177.6" rx="1.26" ry="1.26" transform="rotate(0 245.5 177.6)"/>
</g>
<g fill="#e4521c" filter="url(#bl)">
<ellipse cx="245.5" cy="177.6" rx="0.63" ry="0.63" transform="rotate(0 245.5 177.6)"/>
</g>
<g fill="#fff" filter="url(#sp)">
<ellipse cx="248" cy="176" rx="7.88" ry="14.18" transform="rotate(25 248 176)"/>
</g>
</g>
<rect x="235.4" y="158.3" width="23.6" height="35.2" fill="none" stroke="#bca6bc" stroke-width="1"/>
<rect x="267.7" y="189.2" width="26.5" height="32.8" fill="none" stroke="#bca6bc" stroke-width="1"/>
<path d="M232.2 136.7H317.7V222" fill="none" stroke="#a6a6a6" stroke-width="1"/>
<path d="M232.2 136.7V222H317.7" fill="none" stroke="#3a3a3a" stroke-width="1.1"/>
<path d="M230.2 144.2h2M231.2 148.7h1M231.2 152.7h1M231.2 156.2h1M230.2 163.9h2M231.2 168.4h1M231.2 172.4h1M231.2 175.9h1M230.2 183.5h2M231.2 188h1M231.2 192h1M231.2 195.5h1M230.2 203.5h2M231.2 208h1M231.2 212h1M230 213.1h2.2M241.1 222v2M249.6 222v2M270.8 222v2M289.7 222v2M308.7 222v2M254.2 222v1M259.2 222v1M262.7 222v1M265.2 222v1M275.2 222v1M280.2 222v1M283.7 222v1M286.2 222v1M294.2 222v1M299.2 222v1M302.7 222v1M305.2 222v1" stroke="#444" stroke-width="0.7" fill="none"/>
<g font-size="4.6" fill="#3a3a3a"><text x="229.6" y="145.6" text-anchor="end">10⁵</text><text x="229.6" y="165.3" text-anchor="end">10⁴</text><text x="229.6" y="184.9" text-anchor="end">10³</text><text x="229.6" y="204.9" text-anchor="end">10²</text><text x="229.4" y="214.5" text-anchor="end">0</text><text x="241.1" y="229.6" text-anchor="middle">0</text><text x="249.6" y="229.6" text-anchor="middle">10³</text><text x="270.8" y="229.6" text-anchor="middle">10⁴</text><text x="289.7" y="229.6" text-anchor="middle">10⁵</text><text x="308.7" y="229.6" text-anchor="middle">10⁶</text></g>
<text x="239.1" y="155.6" font-size="7.1" text-anchor="start" fill="#1a1a1a" >89.5</text>
<text x="296.7" y="207.4" font-size="7.1" text-anchor="start" fill="#1a1a1a" >0.041</text>
<clipPath id="c13"><rect x="327.5" y="136.7" width="85.5" height="85.3"/></clipPath>
<g clip-path="url(#c13)">
<path d="M360.64 163.59h0.9v0.9h-0.9zM384.44 201.44h0.9v0.9h-0.9zM374.31 216.48h0.9v0.9h-0.9zM360.23 170.69h0.9v0.9h-0.9zM343.62 219.55h0.9v0.9h-0.9zM345.09 212.1h0.9v0.9h-0.9zM337.53 203.74h0.9v0.9h-0.9zM373.38 221.46h0.9v0.9h-0.9zM363.89 216.31h0.9v0.9h-0.9zM369.31 168.95h0.9v0.9h-0.9zM342.18 201.04h0.9v0.9h-0.9zM363.2 173.67h0.9v0.9h-0.9zM338.19 214.13h0.9v0.9h-0.9zM341.27 211.74h0.9v0.9h-0.9zM344.1 209.35h0.9v0.9h-0.9zM363.74 169.22h0.9v0.9h-0.9zM360 168.17h0.9v0.9h-0.9zM341.35 203.53h0.9v0.9h-0.9zM339.3 216.17h0.9v0.9h-0.9z" fill="#aab0d8" fill-opacity="0.7"/>
<path d="M380.43 216.5h0.9v0.9h-0.9zM342.07 193.61h0.9v0.9h-0.9zM358.52 171.16h0.9v0.9h-0.9zM359.16 166.72h0.9v0.9h-0.9zM355.48 177.51h0.9v0.9h-0.9zM341.2 212.75h0.9v0.9h-0.9zM340.38 206.42h0.9v0.9h-0.9zM365.6 168.47h0.9v0.9h-0.9zM363.45 162.85h0.9v0.9h-0.9zM364.1 168.36h0.9v0.9h-0.9zM340.6 208.17h0.9v0.9h-0.9zM339.23 186.38h0.9v0.9h-0.9zM365.4 176.01h0.9v0.9h-0.9zM341.3 215.27h0.9v0.9h-0.9zM365.63 174.69h0.9v0.9h-0.9zM345.94 192.8h0.9v0.9h-0.9zM341.85 211.06h0.9v0.9h-0.9zM341.08 213.77h0.9v0.9h-0.9z" fill="#9aa2d0" fill-opacity="0.7"/>
<path d="M339.63 205.31h0.9v0.9h-0.9zM357.27 171.37h0.9v0.9h-0.9zM359.86 171.9h0.9v0.9h-0.9zM368.6 165.45h0.9v0.9h-0.9zM364.86 165.27h0.9v0.9h-0.9zM342.64 197.26h0.9v0.9h-0.9zM363.85 169.29h0.9v0.9h-0.9zM339.42 200.17h0.9v0.9h-0.9zM355.16 171.98h0.9v0.9h-0.9zM345.68 200.06h0.9v0.9h-0.9zM340.37 197.22h0.9v0.9h-0.9zM337.65 207.66h0.9v0.9h-0.9zM360.13 163.21h0.9v0.9h-0.9zM355.22 173.4h0.9v0.9h-0.9zM357.28 162.76h0.9v0.9h-0.9zM376.54 209.38h0.9v0.9h-0.9zM344.81 209.76h0.9v0.9h-0.9zM367.28 172.98h0.9v0.9h-0.9z" fill="#bcbcde" fill-opacity="0.7"/>
<path d="M336.05 209.86h0.9v0.9h-0.9zM339.72 195.42h0.9v0.9h-0.9zM362.73 177.21h0.9v0.9h-0.9zM369.57 207h0.9v0.9h-0.9zM361.21 172.94h0.9v0.9h-0.9zM356.48 176.21h0.9v0.9h-0.9zM376.38 209.48h0.9v0.9h-0.9zM355.06 164.41h0.9v0.9h-0.9zM360.68 176.27h0.9v0.9h-0.9zM342.33 210.7h0.9v0.9h-0.9zM368.11 177.03h0.9v0.9h-0.9zM358.7 162.78h0.9v0.9h-0.9zM363.11 175.99h0.9v0.9h-0.9zM343.08 213.43h0.9v0.9h-0.9zM365.97 176.69h0.9v0.9h-0.9zM365.36 164.84h0.9v0.9h-0.9zM354.63 178.2h0.9v0.9h-0.9zM364.13 167.49h0.9v0.9h-0.9z" fill="#c4b6da" fill-opacity="0.7"/>
<path d="M345.63 208.94h0.9v0.9h-0.9zM342.18 201.08h0.9v0.9h-0.9zM340.51 212.06h0.9v0.9h-0.9zM367.14 171.52h0.9v0.9h-0.9zM359.94 169.42h0.9v0.9h-0.9zM345.97 194.83h0.9v0.9h-0.9zM364.19 175.99h0.9v0.9h-0.9zM358.84 168.67h0.9v0.9h-0.9zM340.39 205.44h0.9v0.9h-0.9zM355.82 168.33h0.9v0.9h-0.9zM366.36 171.65h0.9v0.9h-0.9zM341.26 192h0.9v0.9h-0.9zM367.93 171.1h0.9v0.9h-0.9zM364.55 165.11h0.9v0.9h-0.9zM367.86 168.88h0.9v0.9h-0.9zM355.41 178.53h0.9v0.9h-0.9zM357.78 166.71h0.9v0.9h-0.9zM359.38 166.9h0.9v0.9h-0.9z" fill="#a4aed8" fill-opacity="0.7"/>
<g fill="#b4c0ee" fill-opacity="0.55" filter="url(#nz0)">
<ellipse cx="343.7" cy="179.3" rx="9.6" ry="17.28" transform="rotate(20 343.7 179.3)"/>
<ellipse cx="360" cy="171" rx="11.52" ry="8.96" transform="rotate(0 360 171)"/>
</g>
<g fill="#8aa0e0" fill-opacity="0.75" filter="url(#nz1)">
<ellipse cx="343.7" cy="179.3" rx="8.4" ry="15.12" transform="rotate(20 343.7 179.3)"/>
</g>
<g fill="#5a7ad0" fill-opacity="0.75" filter="url(#nz2)">
<ellipse cx="343.7" cy="179.3" rx="7.5" ry="13.5" transform="rotate(20 343.7 179.3)"/>
</g>
<g fill="#3a8ad8" filter="url(#bl)">
<ellipse cx="343.7" cy="179.3" rx="6.3" ry="11.34" transform="rotate(20 343.7 179.3)"/>
</g>
<g fill="#38aed0" filter="url(#bl)">
<ellipse cx="343.7" cy="179.3" rx="5.25" ry="9.45" transform="rotate(20 343.7 179.3)"/>
<ellipse cx="343.5" cy="175.3" rx="4.2" ry="4.9" transform="rotate(20 343.5 175.3)"/>
<ellipse cx="340.6" cy="184" rx="4.2" ry="4.9" transform="rotate(20 340.6 184)"/>
</g>
<g fill="#56bf86" filter="url(#bl)">
<ellipse cx="343.5" cy="175.3" rx="3.36" ry="3.92" transform="rotate(20 343.5 175.3)"/>
<ellipse cx="340.6" cy="184" rx="3.36" ry="3.92" transform="rotate(20 340.6 184)"/>
</g>
<g fill="#8fc944" filter="url(#bl)">
<ellipse cx="343.5" cy="175.3" rx="2.58" ry="3.01" transform="rotate(20 343.5 175.3)"/>
<ellipse cx="340.6" cy="184" rx="2.58" ry="3.01" transform="rotate(20 340.6 184)"/>
</g>
<g fill="#d6cc2e" filter="url(#bl)">
<ellipse cx="343.5" cy="175.3" rx="1.8" ry="2.1" transform="rotate(20 343.5 175.3)"/>
<ellipse cx="340.6" cy="184" rx="1.8" ry="2.1" transform="rotate(20 340.6 184)"/>
</g>
<g fill="#fff" filter="url(#sp)">
<ellipse cx="343.7" cy="179.3" rx="7.88" ry="14.18" transform="rotate(20 343.7 179.3)"/>
</g>
</g>
<rect x="330.7" y="158.3" width="23.6" height="35.2" fill="none" stroke="#bca6bc" stroke-width="1"/>
<rect x="363" y="189.2" width="26.5" height="32.8" fill="none" stroke="#bca6bc" stroke-width="1"/>
<path d="M327.5 136.7H413V222" fill="none" stroke="#a6a6a6" stroke-width="1"/>
<path d="M327.5 136.7V222H413" fill="none" stroke="#3a3a3a" stroke-width="1.1"/>
<path d="M325.5 144.2h2M326.5 148.7h1M326.5 152.7h1M326.5 156.2h1M325.5 163.9h2M326.5 168.4h1M326.5 172.4h1M326.5 175.9h1M325.5 183.5h2M326.5 188h1M326.5 192h1M326.5 195.5h1M325.5 203.5h2M326.5 208h1M326.5 212h1M325.3 213.1h2.2M336.4 222v2M344.9 222v2M366.1 222v2M385 222v2M404 222v2M349.5 222v1M354.5 222v1M358 222v1M360.5 222v1M370.5 222v1M375.5 222v1M379 222v1M381.5 222v1M389.5 222v1M394.5 222v1M398 222v1M400.5 222v1" stroke="#444" stroke-width="0.7" fill="none"/>
<g font-size="4.6" fill="#3a3a3a"><text x="324.9" y="145.6" text-anchor="end">10⁵</text><text x="324.9" y="165.3" text-anchor="end">10⁴</text><text x="324.9" y="184.9" text-anchor="end">10³</text><text x="324.9" y="204.9" text-anchor="end">10²</text><text x="324.7" y="214.5" text-anchor="end">0</text><text x="336.4" y="229.6" text-anchor="middle">0</text><text x="344.9" y="229.6" text-anchor="middle">10³</text><text x="366.1" y="229.6" text-anchor="middle">10⁴</text><text x="385" y="229.6" text-anchor="middle">10⁵</text><text x="404" y="229.6" text-anchor="middle">10⁶</text></g>
<text x="335.1" y="155.6" font-size="7.1" text-anchor="start" fill="#1a1a1a" >96.0</text>
<text x="390.3" y="207.4" font-size="7.1" text-anchor="start" fill="#1a1a1a" >0.054</text>
<clipPath id="c20"><rect x="41.5" y="231.7" width="85.5" height="85.3"/></clipPath>
<g clip-path="url(#c20)">
<path d="M66.43 306.89h0.9v0.9h-0.9zM78.04 297.92h0.9v0.9h-0.9zM74.25 280.63h0.9v0.9h-0.9zM77.17 301.6h0.9v0.9h-0.9zM91.56 293h0.9v0.9h-0.9zM68.89 312.33h0.9v0.9h-0.9zM64.17 296.67h0.9v0.9h-0.9zM62.3 315.42h0.9v0.9h-0.9zM71.94 296.6h0.9v0.9h-0.9zM87.05 309.75h0.9v0.9h-0.9zM73.07 304.05h0.9v0.9h-0.9zM49.45 310.79h0.9v0.9h-0.9zM72.04 314.96h0.9v0.9h-0.9zM73.45 306.95h0.9v0.9h-0.9zM89.51 293.12h0.9v0.9h-0.9zM80.11 280.16h0.9v0.9h-0.9zM75.49 297.01h0.9v0.9h-0.9zM76.26 279.07h0.9v0.9h-0.9zM76.05 277.2h0.9v0.9h-0.9zM64.33 311.23h0.9v0.9h-0.9zM86.65 312.54h0.9v0.9h-0.9zM74.88 301.71h0.9v0.9h-0.9z" fill="#aab0d8" fill-opacity="0.7"/>
<path d="M78.68 277.72h0.9v0.9h-0.9zM72.1 307.23h0.9v0.9h-0.9zM61.68 288.98h0.9v0.9h-0.9zM95.39 301.03h0.9v0.9h-0.9zM48.1 307.86h0.9v0.9h-0.9zM96.88 289.29h0.9v0.9h-0.9zM77.78 280.9h0.9v0.9h-0.9zM49.96 292.64h0.9v0.9h-0.9zM85.5 314.53h0.9v0.9h-0.9zM73.26 285.38h0.9v0.9h-0.9zM81.09 300.93h0.9v0.9h-0.9zM86.85 300.3h0.9v0.9h-0.9zM90.99 291.52h0.9v0.9h-0.9zM72.99 258.13h0.9v0.9h-0.9zM89.05 296.99h0.9v0.9h-0.9zM76.49 285.88h0.9v0.9h-0.9zM78.62 297h0.9v0.9h-0.9zM71.24 261.82h0.9v0.9h-0.9zM73.57 290.82h0.9v0.9h-0.9zM84.07 303.96h0.9v0.9h-0.9zM68.86 291.37h0.9v0.9h-0.9zM61.65 290.81h0.9v0.9h-0.9z" fill="#9aa2d0" fill-opacity="0.7"/>
<path d="M74.49 261.26h0.9v0.9h-0.9zM77.83 301.07h0.9v0.9h-0.9zM90.23 293.53h0.9v0.9h-0.9zM74.86 290.08h0.9v0.9h-0.9zM64.63 293.45h0.9v0.9h-0.9zM89.57 294.84h0.9v0.9h-0.9zM76.29 306.2h0.9v0.9h-0.9zM71.9 308.09h0.9v0.9h-0.9zM82.19 313.46h0.9v0.9h-0.9zM61.44 316.58h0.9v0.9h-0.9zM74.94 316.88h0.9v0.9h-0.9zM58.59 305.49h0.9v0.9h-0.9zM49.98 289.68h0.9v0.9h-0.9zM69.54 299.87h0.9v0.9h-0.9zM74.16 307.95h0.9v0.9h-0.9zM50.54 306.55h0.9v0.9h-0.9zM76.34 275.31h0.9v0.9h-0.9zM76.07 308.99h0.9v0.9h-0.9zM95.35 290.51h0.9v0.9h-0.9zM58.64 293.05h0.9v0.9h-0.9zM76.55 280.85h0.9v0.9h-0.9z" fill="#bcbcde" fill-opacity="0.7"/>
<path d="M72.1 272.32h0.9v0.9h-0.9zM80.89 264.03h0.9v0.9h-0.9zM89.51 316.86h0.9v0.9h-0.9zM73.95 270.45h0.9v0.9h-0.9zM92.68 310.62h0.9v0.9h-0.9zM53.24 306.77h0.9v0.9h-0.9zM69.9 313.83h0.9v0.9h-0.9zM67.09 307.82h0.9v0.9h-0.9zM70.47 309.66h0.9v0.9h-0.9zM89.81 303.79h0.9v0.9h-0.9zM70.69 308.89h0.9v0.9h-0.9zM57.28 307.96h0.9v0.9h-0.9zM71.87 295.87h0.9v0.9h-0.9zM82.22 298.51h0.9v0.9h-0.9zM79.04 315.12h0.9v0.9h-0.9zM73.38 309.21h0.9v0.9h-0.9zM66.94 300.79h0.9v0.9h-0.9zM60.13 302.46h0.9v0.9h-0.9zM73.04 311.17h0.9v0.9h-0.9zM64.78 307.84h0.9v0.9h-0.9zM69.19 300.27h0.9v0.9h-0.9z" fill="#c4b6da" fill-opacity="0.7"/>
<path d="M67.3 293.37h0.9v0.9h-0.9zM68.61 306.03h0.9v0.9h-0.9zM95.05 309.96h0.9v0.9h-0.9zM56.52 299.05h0.9v0.9h-0.9zM99.45 304.32h0.9v0.9h-0.9zM49.68 298.61h0.9v0.9h-0.9zM89 291.17h0.9v0.9h-0.9zM71.57 305.5h0.9v0.9h-0.9zM55.94 288.39h0.9v0.9h-0.9zM85.49 303.2h0.9v0.9h-0.9zM85.9 312.19h0.9v0.9h-0.9zM78.56 278.13h0.9v0.9h-0.9zM49.55 314.12h0.9v0.9h-0.9zM74.5 283.67h0.9v0.9h-0.9zM62.98 296.02h0.9v0.9h-0.9zM48.69 291.13h0.9v0.9h-0.9zM72.69 283.79h0.9v0.9h-0.9zM74.63 291.64h0.9v0.9h-0.9zM91.8 298.42h0.9v0.9h-0.9zM59.8 311.86h0.9v0.9h-0.9zM51.8 314.32h0.9v0.9h-0.9z" fill="#a4aed8" fill-opacity="0.7"/>
<g fill="#b4c0ee" fill-opacity="0.55" filter="url(#nz0)">
<ellipse cx="57.5" cy="270" rx="9.6" ry="16" transform="rotate(25 57.5 270)"/>
<ellipse cx="64" cy="274" rx="7.68" ry="12.8" transform="rotate(20 64 274)"/>
</g>
<g fill="#8aa0e0" fill-opacity="0.75" filter="url(#nz1)">
<ellipse cx="57.5" cy="270" rx="8.4" ry="14" transform="rotate(25 57.5 270)"/>
</g>
<g fill="#5a7ad0" fill-opacity="0.75" filter="url(#nz2)">
<ellipse cx="57.5" cy="270" rx="7.5" ry="12.5" transform="rotate(25 57.5 270)"/>
</g>
<g fill="#3a8ad8" filter="url(#bl)">
<ellipse cx="57.5" cy="270" rx="6.3" ry="10.5" transform="rotate(25 57.5 270)"/>
</g>
<g fill="#38aed0" filter="url(#bl)">
<ellipse cx="57.5" cy="270" rx="5.25" ry="8.75" transform="rotate(25 57.5 270)"/>
<ellipse cx="58.5" cy="267" rx="4.2" ry="6.3" transform="rotate(25 58.5 267)"/>
<ellipse cx="55.8" cy="272.6" rx="4.2" ry="4.2" transform="rotate(25 55.8 272.6)"/>
</g>
<g fill="#56bf86" filter="url(#bl)">
<ellipse cx="58.5" cy="267" rx="3.36" ry="5.04" transform="rotate(25 58.5 267)"/>
<ellipse cx="55.8" cy="272.6" rx="3.36" ry="3.36" transform="rotate(25 55.8 272.6)"/>
</g>
<g fill="#8fc944" filter="url(#bl)">
<ellipse cx="58.5" cy="267" rx="2.58" ry="3.87" transform="rotate(25 58.5 267)"/>
<ellipse cx="55.8" cy="272.6" rx="2.58" ry="2.58" transform="rotate(25 55.8 272.6)"/>
</g>
<g fill="#d6cc2e" filter="url(#bl)">
<ellipse cx="55.8" cy="272.6" rx="1.8" ry="1.8" transform="rotate(25 55.8 272.6)"/>
</g>
<g fill="#ec8f22" filter="url(#bl)">
<ellipse cx="55.8" cy="272.6" rx="1.08" ry="1.08" transform="rotate(25 55.8 272.6)"/>
</g>
<g fill="#fff" filter="url(#sp)">
<ellipse cx="57.5" cy="270" rx="7.88" ry="13.12" transform="rotate(25 57.5 270)"/>
</g>
</g>
<rect x="47" y="255.7" width="26.2" height="31.8" fill="none" stroke="#bca6bc" stroke-width="1"/>
<rect x="73.2" y="287.5" width="26.1" height="29.5" fill="none" stroke="#bca6bc" stroke-width="1"/>
<path d="M41.5 231.7H127V317" fill="none" stroke="#a6a6a6" stroke-width="1"/>
<path d="M41.5 231.7V317H127" fill="none" stroke="#3a3a3a" stroke-width="1.1"/>
<path d="M39.5 239.2h2M40.5 243.7h1M40.5 247.7h1M40.5 251.2h1M39.5 258.9h2M40.5 263.4h1M40.5 267.4h1M40.5 270.9h1M39.5 278.5h2M40.5 283h1M40.5 287h1M40.5 290.5h1M39.5 298.5h2M40.5 303h1M40.5 307h1M39.3 308.1h2.2M50.4 317v2M58.9 317v2M80.1 317v2M99 317v2M118 317v2M63.5 317v1M68.5 317v1M72 317v1M74.5 317v1M84.5 317v1M89.5 317v1M93 317v1M95.5 317v1M103.5 317v1M108.5 317v1M112 317v1M114.5 317v1" stroke="#444" stroke-width="0.7" fill="none"/>
<g font-size="4.6" fill="#3a3a3a"><text x="38.9" y="240.6" text-anchor="end">10⁵</text><text x="38.9" y="260.3" text-anchor="end">10⁴</text><text x="38.9" y="279.9" text-anchor="end">10³</text><text x="38.9" y="299.9" text-anchor="end">10²</text><text x="38.7" y="309.5" text-anchor="end">0</text><text x="50.4" y="324.6" text-anchor="middle">0</text><text x="58.9" y="324.6" text-anchor="middle">10³</text><text x="80.1" y="324.6" text-anchor="middle">10⁴</text><text x="99" y="324.6" text-anchor="middle">10⁵</text><text x="118" y="324.6" text-anchor="middle">10⁶</text></g>
<text x="53.3" y="253.8" font-size="7.1" text-anchor="start" fill="#1a1a1a" >98.6</text>
<text x="103.3" y="304.5" font-size="7.1" text-anchor="start" fill="#1a1a1a" >0.412</text>
<clipPath id="c21"><rect x="136.8" y="231.7" width="85.5" height="85.3"/></clipPath>
<g clip-path="url(#c21)">
<path d="M170.9 316.21h0.9v0.9h-0.9zM154.04 298.13h0.9v0.9h-0.9zM153.11 299.1h0.9v0.9h-0.9zM176.33 292.72h0.9v0.9h-0.9zM150.22 285.55h0.9v0.9h-0.9zM149.57 288.36h0.9v0.9h-0.9zM150.81 310.72h0.9v0.9h-0.9z" fill="#aab0d8" fill-opacity="0.7"/>
<path d="M155.01 288.18h0.9v0.9h-0.9zM148.46 308.22h0.9v0.9h-0.9zM185.03 295.25h0.9v0.9h-0.9zM176.12 298.38h0.9v0.9h-0.9zM153.8 293.04h0.9v0.9h-0.9zM148.53 304.06h0.9v0.9h-0.9zM152.52 295.55h0.9v0.9h-0.9z" fill="#9aa2d0" fill-opacity="0.7"/>
<path d="M171.43 304.52h0.9v0.9h-0.9zM150.02 297.44h0.9v0.9h-0.9zM151.92 303.84h0.9v0.9h-0.9zM156 303.81h0.9v0.9h-0.9zM148.96 302.53h0.9v0.9h-0.9zM148.91 294.92h0.9v0.9h-0.9zM152.18 294.7h0.9v0.9h-0.9z" fill="#bcbcde" fill-opacity="0.7"/>
<path d="M181.55 314.16h0.9v0.9h-0.9zM186.15 306.05h0.9v0.9h-0.9zM150.96 289.12h0.9v0.9h-0.9zM150.12 291.7h0.9v0.9h-0.9zM149.29 292.5h0.9v0.9h-0.9zM171.56 294.24h0.9v0.9h-0.9z" fill="#c4b6da" fill-opacity="0.7"/>
<path d="M142.63 293.18h0.9v0.9h-0.9zM146.91 290.21h0.9v0.9h-0.9zM152.91 313.61h0.9v0.9h-0.9zM151.34 294.25h0.9v0.9h-0.9zM147.76 298.6h0.9v0.9h-0.9zM153.65 293.69h0.9v0.9h-0.9z" fill="#a4aed8" fill-opacity="0.7"/>
<g fill="#b4c0ee" fill-opacity="0.55" filter="url(#nz0)">
<ellipse cx="153" cy="271" rx="8.96" ry="16" transform="rotate(20 153 271)"/>
</g>
<g fill="#8aa0e0" fill-opacity="0.75" filter="url(#nz1)">
<ellipse cx="153" cy="271" rx="7.84" ry="14" transform="rotate(20 153 271)"/>
</g>
<g fill="#5a7ad0" fill-opacity="0.75" filter="url(#nz2)">
<ellipse cx="153" cy="271" rx="7" ry="12.5" transform="rotate(20 153 271)"/>
</g>
<g fill="#3a8ad8" filter="url(#bl)">
<ellipse cx="153" cy="271" rx="5.88" ry="10.5" transform="rotate(20 153 271)"/>
</g>
<g fill="#38aed0" filter="url(#bl)">
<ellipse cx="153" cy="271" rx="4.9" ry="8.75" transform="rotate(20 153 271)"/>
<ellipse cx="151.3" cy="273.6" rx="4.2" ry="4.55" transform="rotate(15 151.3 273.6)"/>
<ellipse cx="153.5" cy="265" rx="3.5" ry="4.2" transform="rotate(15 153.5 265)"/>
</g>
<g fill="#56bf86" filter="url(#bl)">
<ellipse cx="151.3" cy="273.6" rx="3.36" ry="3.64" transform="rotate(15 151.3 273.6)"/>
<ellipse cx="153.5" cy="265" rx="2.8" ry="3.36" transform="rotate(15 153.5 265)"/>
</g>
<g fill="#8fc944" filter="url(#bl)">
<ellipse cx="151.3" cy="273.6" rx="2.58" ry="2.79" transform="rotate(15 151.3 273.6)"/>
<ellipse cx="153.5" cy="265" rx="2.15" ry="2.58" transform="rotate(15 153.5 265)"/>
</g>
<g fill="#d6cc2e" filter="url(#bl)">
<ellipse cx="151.3" cy="273.6" rx="1.8" ry="1.95" transform="rotate(15 151.3 273.6)"/>
</g>
<g fill="#ec8f22" filter="url(#bl)">
<ellipse cx="151.3" cy="273.6" rx="1.08" ry="1.17" transform="rotate(15 151.3 273.6)"/>
</g>
<g fill="#fff" filter="url(#sp)">
<ellipse cx="153" cy="271" rx="7.35" ry="13.12" transform="rotate(20 153 271)"/>
</g>
</g>
<rect x="142.3" y="255.7" width="26.2" height="31.8" fill="none" stroke="#bca6bc" stroke-width="1"/>
<rect x="168.5" y="287.5" width="26.1" height="29.5" fill="none" stroke="#bca6bc" stroke-width="1"/>
<path d="M136.8 231.7H222.3V317" fill="none" stroke="#a6a6a6" stroke-width="1"/>
<path d="M136.8 231.7V317H222.3" fill="none" stroke="#3a3a3a" stroke-width="1.1"/>
<path d="M134.8 239.2h2M135.8 243.7h1M135.8 247.7h1M135.8 251.2h1M134.8 258.9h2M135.8 263.4h1M135.8 267.4h1M135.8 270.9h1M134.8 278.5h2M135.8 283h1M135.8 287h1M135.8 290.5h1M134.8 298.5h2M135.8 303h1M135.8 307h1M134.6 308.1h2.2M145.7 317v2M154.2 317v2M175.4 317v2M194.3 317v2M213.3 317v2M158.8 317v1M163.8 317v1M167.3 317v1M169.8 317v1M179.8 317v1M184.8 317v1M188.3 317v1M190.8 317v1M198.8 317v1M203.8 317v1M207.3 317v1M209.8 317v1" stroke="#444" stroke-width="0.7" fill="none"/>
<g font-size="4.6" fill="#3a3a3a"><text x="134.2" y="240.6" text-anchor="end">10⁵</text><text x="134.2" y="260.3" text-anchor="end">10⁴</text><text x="134.2" y="279.9" text-anchor="end">10³</text><text x="134.2" y="299.9" text-anchor="end">10²</text><text x="134" y="309.5" text-anchor="end">0</text><text x="145.7" y="324.6" text-anchor="middle">0</text><text x="154.2" y="324.6" text-anchor="middle">10³</text><text x="175.4" y="324.6" text-anchor="middle">10⁴</text><text x="194.3" y="324.6" text-anchor="middle">10⁵</text><text x="213.3" y="324.6" text-anchor="middle">10⁶</text></g>
<text x="148" y="253.8" font-size="7.1" text-anchor="start" fill="#1a1a1a" >99.2</text>
<text x="199" y="304.5" font-size="7.1" text-anchor="start" fill="#1a1a1a" >0.011</text>
<clipPath id="c22"><rect x="232.2" y="231.7" width="85.5" height="85.3"/></clipPath>
<g clip-path="url(#c22)">
<path d="M257.28 307.59h0.9v0.9h-0.9zM270.64 309.52h0.9v0.9h-0.9zM253.28 291.8h0.9v0.9h-0.9zM249.32 311.25h0.9v0.9h-0.9zM261.88 280.48h0.9v0.9h-0.9zM243.72 305.51h0.9v0.9h-0.9zM246.07 303.84h0.9v0.9h-0.9zM258.63 304.3h0.9v0.9h-0.9zM245.57 301.57h0.9v0.9h-0.9zM282.51 292.14h0.9v0.9h-0.9zM282.72 290.98h0.9v0.9h-0.9zM278.94 290.09h0.9v0.9h-0.9zM248.68 288.58h0.9v0.9h-0.9zM272.12 288.2h0.9v0.9h-0.9zM263.87 304.89h0.9v0.9h-0.9zM280.85 288h0.9v0.9h-0.9zM268.61 308.92h0.9v0.9h-0.9zM247.2 315.69h0.9v0.9h-0.9zM258.92 301.43h0.9v0.9h-0.9z" fill="#aab0d8" fill-opacity="0.7"/>
<path d="M263.49 266.93h0.9v0.9h-0.9zM266.83 289.08h0.9v0.9h-0.9zM269.34 279.11h0.9v0.9h-0.9zM247.36 297.78h0.9v0.9h-0.9zM264.86 308.31h0.9v0.9h-0.9zM266.08 266.39h0.9v0.9h-0.9zM266.74 302.51h0.9v0.9h-0.9zM244.89 290.71h0.9v0.9h-0.9zM279.51 300.17h0.9v0.9h-0.9zM260.75 307.37h0.9v0.9h-0.9zM281.65 303.35h0.9v0.9h-0.9zM272.7 302.23h0.9v0.9h-0.9zM288.37 311.67h0.9v0.9h-0.9zM258.83 306.46h0.9v0.9h-0.9zM274.14 310.15h0.9v0.9h-0.9zM269.7 300.59h0.9v0.9h-0.9zM287.16 291.95h0.9v0.9h-0.9zM253.99 306.43h0.9v0.9h-0.9zM286.76 293.11h0.9v0.9h-0.9z" fill="#9aa2d0" fill-opacity="0.7"/>
<path d="M251.3 295.6h0.9v0.9h-0.9zM275.93 293.18h0.9v0.9h-0.9zM259.74 298.46h0.9v0.9h-0.9zM282.65 298.79h0.9v0.9h-0.9zM283.11 307.8h0.9v0.9h-0.9zM287.39 297.43h0.9v0.9h-0.9zM266.54 305h0.9v0.9h-0.9zM262.8 290.44h0.9v0.9h-0.9zM281.18 306.23h0.9v0.9h-0.9zM263.61 277.44h0.9v0.9h-0.9zM254.88 292.88h0.9v0.9h-0.9zM246.41 305.49h0.9v0.9h-0.9zM261.97 304.3h0.9v0.9h-0.9zM289.49 309.62h0.9v0.9h-0.9zM281.36 312.15h0.9v0.9h-0.9zM239.88 287.72h0.9v0.9h-0.9zM272.03 267.61h0.9v0.9h-0.9zM285.41 303.34h0.9v0.9h-0.9z" fill="#bcbcde" fill-opacity="0.7"/>
<path d="M269.63 262.95h0.9v0.9h-0.9zM266.34 268.08h0.9v0.9h-0.9zM274.24 315.46h0.9v0.9h-0.9zM249.33 298.41h0.9v0.9h-0.9zM254.06 296.6h0.9v0.9h-0.9zM246.19 303.89h0.9v0.9h-0.9zM262.07 269.02h0.9v0.9h-0.9zM252.11 294.21h0.9v0.9h-0.9zM248.51 302.37h0.9v0.9h-0.9zM261.24 308h0.9v0.9h-0.9zM279.44 303.06h0.9v0.9h-0.9zM276.9 296.22h0.9v0.9h-0.9zM260.53 299.73h0.9v0.9h-0.9zM238.39 313.75h0.9v0.9h-0.9zM260.96 298.44h0.9v0.9h-0.9zM263.01 274.82h0.9v0.9h-0.9zM263.17 297.51h0.9v0.9h-0.9zM271.84 262h0.9v0.9h-0.9z" fill="#c4b6da" fill-opacity="0.7"/>
<path d="M261.4 308.02h0.9v0.9h-0.9zM282.54 303.73h0.9v0.9h-0.9zM286.18 306.23h0.9v0.9h-0.9zM245.53 316.76h0.9v0.9h-0.9zM257.04 303.15h0.9v0.9h-0.9zM285.17 311.03h0.9v0.9h-0.9zM282.1 308.16h0.9v0.9h-0.9zM258.8 305.12h0.9v0.9h-0.9zM280.89 311.94h0.9v0.9h-0.9zM275.03 301.38h0.9v0.9h-0.9zM259.04 308.1h0.9v0.9h-0.9zM237.75 299.43h0.9v0.9h-0.9zM260.49 289.09h0.9v0.9h-0.9zM271.02 293.95h0.9v0.9h-0.9zM240.19 288.08h0.9v0.9h-0.9zM271.23 266.11h0.9v0.9h-0.9zM282.21 292.57h0.9v0.9h-0.9zM264.02 311.35h0.9v0.9h-0.9z" fill="#a4aed8" fill-opacity="0.7"/>
<g fill="#b4c0ee" fill-opacity="0.55" filter="url(#nz0)">
<ellipse cx="247.5" cy="272" rx="10.24" ry="17.92" transform="rotate(20 247.5 272)"/>
</g>
<g fill="#8aa0e0" fill-opacity="0.75" filter="url(#nz1)">
<ellipse cx="247.5" cy="272" rx="8.96" ry="15.68" transform="rotate(20 247.5 272)"/>
</g>
<g fill="#5a7ad0" fill-opacity="0.75" filter="url(#nz2)">
<ellipse cx="247.5" cy="272" rx="8" ry="14" transform="rotate(20 247.5 272)"/>
</g>
<g fill="#3a8ad8" filter="url(#bl)">
<ellipse cx="247.5" cy="272" rx="6.72" ry="11.76" transform="rotate(20 247.5 272)"/>
</g>
<g fill="#38aed0" filter="url(#bl)">
<ellipse cx="247.5" cy="272" rx="5.6" ry="9.8" transform="rotate(20 247.5 272)"/>
<ellipse cx="245" cy="276" rx="4.2" ry="4.9" transform="rotate(20 245 276)"/>
<ellipse cx="248" cy="267" rx="3.5" ry="4.2" transform="rotate(20 248 267)"/>
</g>
<g fill="#56bf86" filter="url(#bl)">
<ellipse cx="245" cy="276" rx="3.36" ry="3.92" transform="rotate(20 245 276)"/>
<ellipse cx="248" cy="267" rx="2.8" ry="3.36" transform="rotate(20 248 267)"/>
</g>
<g fill="#8fc944" filter="url(#bl)">
<ellipse cx="245" cy="276" rx="2.58" ry="3.01" transform="rotate(20 245 276)"/>
<ellipse cx="248" cy="267" rx="2.15" ry="2.58" transform="rotate(20 248 267)"/>
</g>
<g fill="#d6cc2e" filter="url(#bl)">
<ellipse cx="245" cy="276" rx="1.8" ry="2.1" transform="rotate(20 245 276)"/>
</g>
<g fill="#ec8f22" filter="url(#bl)">
<ellipse cx="245" cy="276" rx="1.08" ry="1.26" transform="rotate(20 245 276)"/>
</g>
<g fill="#fff" filter="url(#sp)">
<ellipse cx="247.5" cy="272" rx="8.4" ry="14.7" transform="rotate(20 247.5 272)"/>
</g>
</g>
<rect x="237.7" y="255.7" width="26.2" height="31.8" fill="none" stroke="#bca6bc" stroke-width="1"/>
<rect x="263.9" y="287.5" width="26.1" height="29.5" fill="none" stroke="#bca6bc" stroke-width="1"/>
<path d="M232.2 231.7H317.7V317" fill="none" stroke="#a6a6a6" stroke-width="1"/>
<path d="M232.2 231.7V317H317.7" fill="none" stroke="#3a3a3a" stroke-width="1.1"/>
<path d="M230.2 239.2h2M231.2 243.7h1M231.2 247.7h1M231.2 251.2h1M230.2 258.9h2M231.2 263.4h1M231.2 267.4h1M231.2 270.9h1M230.2 278.5h2M231.2 283h1M231.2 287h1M231.2 290.5h1M230.2 298.5h2M231.2 303h1M231.2 307h1M230 308.1h2.2M241.1 317v2M249.6 317v2M270.8 317v2M289.7 317v2M308.7 317v2M254.2 317v1M259.2 317v1M262.7 317v1M265.2 317v1M275.2 317v1M280.2 317v1M283.7 317v1M286.2 317v1M294.2 317v1M299.2 317v1M302.7 317v1M305.2 317v1" stroke="#444" stroke-width="0.7" fill="none"/>
<g font-size="4.6" fill="#3a3a3a"><text x="229.6" y="240.6" text-anchor="end">10⁵</text><text x="229.6" y="260.3" text-anchor="end">10⁴</text><text x="229.6" y="279.9" text-anchor="end">10³</text><text x="229.6" y="299.9" text-anchor="end">10²</text><text x="229.4" y="309.5" text-anchor="end">0</text><text x="241.1" y="324.6" text-anchor="middle">0</text><text x="249.6" y="324.6" text-anchor="middle">10³</text><text x="270.8" y="324.6" text-anchor="middle">10⁴</text><text x="289.7" y="324.6" text-anchor="middle">10⁵</text><text x="308.7" y="324.6" text-anchor="middle">10⁶</text></g>
<text x="242.9" y="253.8" font-size="7.1" text-anchor="start" fill="#1a1a1a" >98.3</text>
<text x="292.7" y="304.5" font-size="7.1" text-anchor="start" fill="#1a1a1a" >0.696</text>
<clipPath id="c23"><rect x="327.5" y="231.7" width="85.5" height="85.3"/></clipPath>
<g clip-path="url(#c23)">
<path d="M335.67 292.64h0.9v0.9h-0.9zM338.67 308.5h0.9v0.9h-0.9zM342.5 311.27h0.9v0.9h-0.9zM335.84 308.99h0.9v0.9h-0.9zM341.54 289.02h0.9v0.9h-0.9zM345.87 299.17h0.9v0.9h-0.9zM337.83 307.77h0.9v0.9h-0.9z" fill="#aab0d8" fill-opacity="0.7"/>
<path d="M335.53 294.65h0.9v0.9h-0.9zM338.05 300.4h0.9v0.9h-0.9zM378.27 288.25h0.9v0.9h-0.9zM383.06 300.42h0.9v0.9h-0.9zM342.5 302.75h0.9v0.9h-0.9zM337.08 298.88h0.9v0.9h-0.9zM375.02 299.65h0.9v0.9h-0.9z" fill="#9aa2d0" fill-opacity="0.7"/>
<path d="M338.65 292.67h0.9v0.9h-0.9zM364.39 315.99h0.9v0.9h-0.9zM347.16 316.36h0.9v0.9h-0.9zM341.86 312.65h0.9v0.9h-0.9zM342.12 297.98h0.9v0.9h-0.9zM340.69 298.66h0.9v0.9h-0.9zM341.59 292.42h0.9v0.9h-0.9z" fill="#bcbcde" fill-opacity="0.7"/>
<path d="M367.8 293.3h0.9v0.9h-0.9zM340.98 295.15h0.9v0.9h-0.9zM342.38 311.81h0.9v0.9h-0.9zM340.58 297.6h0.9v0.9h-0.9zM342.09 306.85h0.9v0.9h-0.9zM342.25 313.8h0.9v0.9h-0.9zM379.02 307.62h0.9v0.9h-0.9z" fill="#c4b6da" fill-opacity="0.7"/>
<path d="M341.19 310.55h0.9v0.9h-0.9zM362.4 294.65h0.9v0.9h-0.9zM383.52 316.81h0.9v0.9h-0.9zM337.35 295.58h0.9v0.9h-0.9zM343.96 291.78h0.9v0.9h-0.9zM365.09 302.05h0.9v0.9h-0.9z" fill="#a4aed8" fill-opacity="0.7"/>
<g fill="#b4c0ee" fill-opacity="0.55" filter="url(#nz0)">
<ellipse cx="343.5" cy="275" rx="9.6" ry="16" transform="rotate(12 343.5 275)"/>
</g>
<g fill="#8aa0e0" fill-opacity="0.75" filter="url(#nz1)">
<ellipse cx="343.5" cy="275" rx="8.4" ry="14" transform="rotate(12 343.5 275)"/>
</g>
<g fill="#5a7ad0" fill-opacity="0.75" filter="url(#nz2)">
<ellipse cx="343.5" cy="275" rx="7.5" ry="12.5" transform="rotate(12 343.5 275)"/>
</g>
<g fill="#3a8ad8" filter="url(#bl)">
<ellipse cx="343.5" cy="275" rx="6.3" ry="10.5" transform="rotate(12 343.5 275)"/>
</g>
<g fill="#38aed0" filter="url(#bl)">
<ellipse cx="343.5" cy="275" rx="5.25" ry="8.75" transform="rotate(12 343.5 275)"/>
<ellipse cx="340.8" cy="278.3" rx="4.2" ry="4.2" transform="rotate(10 340.8 278.3)"/>
<ellipse cx="343.5" cy="270" rx="3.5" ry="4.2" transform="rotate(10 343.5 270)"/>
</g>
<g fill="#56bf86" filter="url(#bl)">
<ellipse cx="340.8" cy="278.3" rx="3.36" ry="3.36" transform="rotate(10 340.8 278.3)"/>
<ellipse cx="343.5" cy="270" rx="2.8" ry="3.36" transform="rotate(10 343.5 270)"/>
</g>
<g fill="#8fc944" filter="url(#bl)">
<ellipse cx="340.8" cy="278.3" rx="2.58" ry="2.58" transform="rotate(10 340.8 278.3)"/>
<ellipse cx="343.5" cy="270" rx="2.15" ry="2.58" transform="rotate(10 343.5 270)"/>
</g>
<g fill="#d6cc2e" filter="url(#bl)">
<ellipse cx="340.8" cy="278.3" rx="1.8" ry="1.8" transform="rotate(10 340.8 278.3)"/>
</g>
<g fill="#ec8f22" filter="url(#bl)">
<ellipse cx="340.8" cy="278.3" rx="1.08" ry="1.08" transform="rotate(10 340.8 278.3)"/>
</g>
<g fill="#fff" filter="url(#sp)">
<ellipse cx="343.5" cy="275" rx="7.88" ry="13.12" transform="rotate(12 343.5 275)"/>
</g>
</g>
<rect x="333" y="255.7" width="26.2" height="31.8" fill="none" stroke="#bca6bc" stroke-width="1"/>
<rect x="359.2" y="287.5" width="26.1" height="29.5" fill="none" stroke="#bca6bc" stroke-width="1"/>
<path d="M327.5 231.7H413V317" fill="none" stroke="#a6a6a6" stroke-width="1"/>
<path d="M327.5 231.7V317H413" fill="none" stroke="#3a3a3a" stroke-width="1.1"/>
<path d="M325.5 239.2h2M326.5 243.7h1M326.5 247.7h1M326.5 251.2h1M325.5 258.9h2M326.5 263.4h1M326.5 267.4h1M326.5 270.9h1M325.5 278.5h2M326.5 283h1M326.5 287h1M326.5 290.5h1M325.5 298.5h2M326.5 303h1M326.5 307h1M325.3 308.1h2.2M336.4 317v2M344.9 317v2M366.1 317v2M385 317v2M404 317v2M349.5 317v1M354.5 317v1M358 317v1M360.5 317v1M370.5 317v1M375.5 317v1M379 317v1M381.5 317v1M389.5 317v1M394.5 317v1M398 317v1M400.5 317v1" stroke="#444" stroke-width="0.7" fill="none"/>
<g font-size="4.6" fill="#3a3a3a"><text x="324.9" y="240.6" text-anchor="end">10⁵</text><text x="324.9" y="260.3" text-anchor="end">10⁴</text><text x="324.9" y="279.9" text-anchor="end">10³</text><text x="324.9" y="299.9" text-anchor="end">10²</text><text x="324.7" y="309.5" text-anchor="end">0</text><text x="336.4" y="324.6" text-anchor="middle">0</text><text x="344.9" y="324.6" text-anchor="middle">10³</text><text x="366.1" y="324.6" text-anchor="middle">10⁴</text><text x="385" y="324.6" text-anchor="middle">10⁵</text><text x="404" y="324.6" text-anchor="middle">10⁶</text></g>
<text x="340.3" y="253.8" font-size="7.1" text-anchor="start" fill="#1a1a1a" >99.2</text>
<text x="388.9" y="304.5" font-size="7.1" text-anchor="start" fill="#1a1a1a" >0.021</text>
<text x="7.6" y="364.2" font-size="12" text-anchor="start" font-weight="bold" fill="#000" >B</text>
<text x="0" y="0" font-size="9" text-anchor="middle" fill="#111" transform="translate(19.4 428) rotate(-90)">hCD45 (%)</text>
<path d="M39.9 372.3V484.5H177.4" fill="none" stroke="#222" stroke-width="1.25"/>
<path d="M36.6 484.5h3.3M36.6 447.9h3.3M36.6 411.3h3.3M36.6 374.7h3.3M57 484.5v2.6M91.2 484.5v2.6M125.4 484.5v2.6M159.6 484.5v2.6" stroke="#222" stroke-width="1.1" fill="none"/>
<text x="34.9" y="487.4" font-size="8.3" text-anchor="end" fill="#222" >0</text>
<text x="34.9" y="450.8" font-size="8.3" text-anchor="end" fill="#222" >5</text>
<text x="34.9" y="414.2" font-size="8.3" text-anchor="end" fill="#222" >10</text>
<text x="34.9" y="377.6" font-size="8.3" text-anchor="end" fill="#222" >15</text>
<text x="57" y="498.4" font-size="8.3" text-anchor="middle" fill="#222" >Iso</text>
<text x="91.2" y="498.4" font-size="8.3" text-anchor="middle" fill="#222" >E1</text>
<text x="125.4" y="498.4" font-size="8.3" text-anchor="middle" fill="#222" >L1</text>
<text x="159.6" y="498.4" font-size="8.3" text-anchor="middle" fill="#222" >L2</text>
<text x="108.6" y="366.2" font-size="10" text-anchor="middle" font-weight="bold" fill="#000" >Liver</text>
<path d="M45.7 426.96H68.3M57 426.96V403.25M51.3 403.25H62.7" stroke="#111" stroke-width="1.15" fill="none"/>
<circle cx="57.2" cy="400.32" r="2.15" fill="#000"/>
<circle cx="60.5" cy="436.92" r="2.15" fill="#000"/>
<circle cx="53.9" cy="442.78" r="2.15" fill="#000"/>
<path d="M79.9 470.23H102.5M91.2 470.23V455.22M85.5 455.22H96.9" stroke="#111" stroke-width="1.15" fill="none"/>
<rect x="89.1" y="446.53" width="4.2" height="4.2" fill="#000"/>
<rect x="85.6" y="468.86" width="4.2" height="4.2" fill="#000"/>
<rect x="92.3" y="473.84" width="4.2" height="4.2" fill="#000"/>
<rect x="89.1" y="482.4" width="4.2" height="4.2" fill="#000"/>
<path d="M114.1 467.66H136.7M125.4 467.66V461.81M119.7 461.81H131.1" stroke="#111" stroke-width="1.15" fill="none"/>
<path d="M121.7 459.21L124.1 463.51L119.3 463.51Z" fill="#000"/>
<path d="M131.7 461.04L134.1 465.34L129.3 465.34Z" fill="#000"/>
<path d="M128.2 467.26L130.6 471.56L125.8 471.56Z" fill="#000"/>
<path d="M121.7 473.48L124.1 477.78L119.3 477.78Z" fill="#000"/>
<path d="M148.3 453.02H170.9M159.6 453.02V435.46M153.9 435.46H165.3" stroke="#111" stroke-width="1.15" fill="none"/>
<path d="M159.6 435.13L162 430.83L157.2 430.83Z" fill="#000"/>
<path d="M159.6 445.38L162 441.08L157.2 441.08Z" fill="#000"/>
<path d="M163.3 466.97L165.7 462.67L160.9 462.67Z" fill="#000"/>
<path d="M156.8 472.46L159.2 468.16L154.4 468.16Z" fill="#000"/>
<line x1="56.2" y1="392.4" x2="92.3" y2="392.4" stroke="#111" stroke-width="1.15" />
<circle cx="73.2" cy="387.5" r="1.15" fill="#111"/>
<line x1="56.2" y1="382" x2="126.4" y2="382" stroke="#111" stroke-width="1.15" />
<circle cx="91.2" cy="377.1" r="1.15" fill="#111"/>
<path d="M209.1 372.3V484.5H346.6" fill="none" stroke="#222" stroke-width="1.25"/>
<path d="M205.8 484.5h3.3M205.8 447.9h3.3M205.8 411.3h3.3M205.8 374.7h3.3M226.2 484.5v2.6M260.4 484.5v2.6M294.6 484.5v2.6M328.8 484.5v2.6" stroke="#222" stroke-width="1.1" fill="none"/>
<text x="204.1" y="487.4" font-size="8.3" text-anchor="end" fill="#222" >0</text>
<text x="204.1" y="450.8" font-size="8.3" text-anchor="end" fill="#222" >5</text>
<text x="204.1" y="414.2" font-size="8.3" text-anchor="end" fill="#222" >10</text>
<text x="204.1" y="377.6" font-size="8.3" text-anchor="end" fill="#222" >15</text>
<text x="226.2" y="498.4" font-size="8.3" text-anchor="middle" fill="#222" >Iso</text>
<text x="260.4" y="498.4" font-size="8.3" text-anchor="middle" fill="#222" >E1</text>
<text x="294.6" y="498.4" font-size="8.3" text-anchor="middle" fill="#222" >L1</text>
<text x="328.8" y="498.4" font-size="8.3" text-anchor="middle" fill="#222" >L2</text>
<text x="277.3" y="366.2" font-size="10" text-anchor="middle" font-weight="bold" fill="#000" >Spleen</text>
<path d="M214.9 443.29H237.5M226.2 443.29V416.2M220.5 416.2H231.9" stroke="#111" stroke-width="1.15" fill="none"/>
<circle cx="226.2" cy="411.3" r="2.15" fill="#000"/>
<circle cx="222.9" cy="459.61" r="2.15" fill="#000"/>
<circle cx="229.6" cy="458.88" r="2.15" fill="#000"/>
<rect x="250.3" y="482.4" width="4.2" height="4.2" fill="#000"/>
<rect x="255.8" y="482.4" width="4.2" height="4.2" fill="#000"/>
<rect x="261.3" y="482.4" width="4.2" height="4.2" fill="#000"/>
<rect x="266.8" y="482.4" width="4.2" height="4.2" fill="#000"/>
<path d="M285.6 481.9L288 486.2L283.2 486.2Z" fill="#000"/>
<path d="M290.6 481.9L293 486.2L288.2 486.2Z" fill="#000"/>
<path d="M295.6 481.9L298 486.2L293.2 486.2Z" fill="#000"/>
<path d="M302.5 478.97L304.9 483.27L300.1 483.27Z" fill="#000"/>
<path d="M317.5 464H340.1M328.8 464V425.21M323.1 425.21H334.5" stroke="#111" stroke-width="1.15" fill="none"/>
<path d="M328.8 408.04L331.2 403.74L326.4 403.74Z" fill="#000"/>
<path d="M322.4 484.17L324.8 479.87L320 479.87Z" fill="#000"/>
<path d="M328.8 487.1L331.2 482.8L326.4 482.8Z" fill="#000"/>
<path d="M335.3 486L337.7 481.7L332.9 481.7Z" fill="#000"/>
<line x1="224.6" y1="392.3" x2="261.2" y2="392.3" stroke="#111" stroke-width="1.15" />
<circle cx="242" cy="387.6" r="1.15" fill="#111"/>
<line x1="224.6" y1="381.9" x2="295.5" y2="381.9" stroke="#111" stroke-width="1.15" />
<circle cx="260.2" cy="377" r="1.15" fill="#111"/>
<path d="M373.3 370.8V484.5H512.7" fill="none" stroke="#222" stroke-width="1.25"/>
<path d="M370 484.5h3.3M370 447.4h3.3M370 410.3h3.3M370 373.2h3.3M390.4 484.5v2.6M425.3 484.5v2.6M460.2 484.5v2.6M495.1 484.5v2.6" stroke="#222" stroke-width="1.1" fill="none"/>
<text x="368.3" y="487.4" font-size="8.3" text-anchor="end" fill="#222" >0</text>
<text x="368.3" y="450.3" font-size="8.3" text-anchor="end" fill="#222" >2</text>
<text x="368.3" y="413.2" font-size="8.3" text-anchor="end" fill="#222" >4</text>
<text x="368.3" y="376.1" font-size="8.3" text-anchor="end" fill="#222" >6</text>
<text x="390.4" y="498.4" font-size="8.3" text-anchor="middle" fill="#222" >Iso</text>
<text x="425.3" y="498.4" font-size="8.3" text-anchor="middle" fill="#222" >E1</text>
<text x="460.2" y="498.4" font-size="8.3" text-anchor="middle" fill="#222" >L1</text>
<text x="495.1" y="498.4" font-size="8.3" text-anchor="middle" fill="#222" >L2</text>
<text x="441.6" y="366.2" font-size="10" text-anchor="middle" font-weight="bold" fill="#000" >BM</text>
<path d="M379.1 438.12H401.7M390.4 438.12V391.75M384.7 391.75H396.1" stroke="#111" stroke-width="1.15" fill="none"/>
<circle cx="390.4" cy="385.63" r="2.15" fill="#000"/>
<circle cx="390.4" cy="452.41" r="2.15" fill="#000"/>
<circle cx="390.4" cy="476.89" r="2.15" fill="#000"/>
<rect x="414.7" y="482.4" width="4.2" height="4.2" fill="#000"/>
<rect x="419" y="482.4" width="4.2" height="4.2" fill="#000"/>
<rect x="423.2" y="482.4" width="4.2" height="4.2" fill="#000"/>
<rect x="427.2" y="482.4" width="4.2" height="4.2" fill="#000"/>
<rect x="432.4" y="479.62" width="4.2" height="4.2" fill="#000"/>
<path d="M448.9 472.44H471.5M460.2 472.44V455.75M454.5 455.75H465.9" stroke="#111" stroke-width="1.15" fill="none"/>
<path d="M460.2 447.58L462.6 451.88L457.8 451.88Z" fill="#000"/>
<path d="M460.2 469.84L462.6 474.14L457.8 474.14Z" fill="#000"/>
<path d="M456.6 481.9L459 486.2L454.2 486.2Z" fill="#000"/>
<path d="M463.3 481.9L465.7 486.2L460.9 486.2Z" fill="#000"/>
<path d="M483.8 473.74H506.4M495.1 473.74V467.43M489.4 467.43H500.8" stroke="#111" stroke-width="1.15" fill="none"/>
<path d="M488.4 472.26L490.8 467.96L486 467.96Z" fill="#000"/>
<path d="M495.1 472.26L497.5 467.96L492.7 467.96Z" fill="#000"/>
<path d="M502.1 469.85L504.5 465.55L499.7 465.55Z" fill="#000"/>
<path d="M495.1 484.69L497.5 480.39L492.7 480.39Z" fill="#000"/>
<text x="9.4" y="527.6" font-size="12.2" text-anchor="start" font-weight="bold" fill="#000" >C</text>
<path d="M41.7 536.2V657.6H236" fill="none" stroke="#222" stroke-width="1.25"/>
<path d="M38.5 657.6h3.2M38.5 627.5h3.2M38.5 597.4h3.2M38.5 567.3h3.2M38.5 537.2h3.2M42 657.6v3M112.2 657.6v3M182.4 657.6v3" stroke="#222" stroke-width="1.1" fill="none"/>
<text x="0" y="0" font-size="9.1" text-anchor="end" fill="#222" transform="translate(36.2 660.7) scale(0.93 1)">70</text>
<text x="0" y="0" font-size="9.1" text-anchor="end" fill="#222" transform="translate(36.2 630.6) scale(0.93 1)">80</text>
<text x="0" y="0" font-size="9.1" text-anchor="end" fill="#222" transform="translate(36.2 600.5) scale(0.93 1)">90</text>
<text x="0" y="0" font-size="9.1" text-anchor="end" fill="#222" transform="translate(36.2 570.4) scale(0.93 1)">100</text>
<text x="0" y="0" font-size="9.1" text-anchor="end" fill="#222" transform="translate(36.2 540.3) scale(0.93 1)">110</text>
<text x="0" y="0" font-size="9.1" text-anchor="middle" fill="#222" transform="translate(42 671.9) scale(0.93 1)">0</text>
<text x="0" y="0" font-size="9.1" text-anchor="middle" fill="#222" transform="translate(112.2 671.9) scale(0.93 1)">20</text>
<text x="0" y="0" font-size="9.1" text-anchor="middle" fill="#222" transform="translate(182.4 671.9) scale(0.93 1)">40</text>
<text x="0" y="0" font-size="10.5" text-anchor="middle" fill="#111" transform="translate(138.6 685.6) scale(0.82 1)">Days</text>
<text x="0" y="0" font-size="9.9" text-anchor="middle" fill="#111" transform="translate(16.3 595.5) rotate(-90) scale(0.97 1)">Body Weight (%)</text>
<path d="M108.69 570.01V555.26M106.69 555.26h4M115.36 581.15V564.89M113.36 564.89h4M119.22 578.14V558.87M117.22 558.87h4M123.08 566.7V560.08M121.08 560.08h4M129.4 578.74V561.88M127.4 561.88h4M133.26 579.94V564.59M131.26 564.59h4M137.12 576.93V554.36M135.12 554.36h4M140.63 579.94V556.16M138.63 556.16h4M146.95 589.57V567.6M144.95 567.6h4M153.62 587.47V561.88M151.62 561.88h4M157.83 594.39V563.69M155.83 563.69h4M161.69 565.49V546.23M159.69 546.23h4M168.36 567.9V546.23M166.36 546.23h4M175.73 574.52V549.24M173.73 549.24h4M196.79 588.07V564.29M194.79 564.29h4M56.39 559.77V556.76M54.39 556.76h4M91.14 559.77V556.76M89.14 556.76h4" stroke="#5a6a88" stroke-width="1" fill="none"/>
<path d="M42 567.3L48.67 565.49L56.39 559.77L63.06 562.78L70.43 562.78L77.45 564.29L84.12 562.78L91.14 559.77L97.81 565.79L108.69 570.01L115.36 581.15L119.22 578.14L123.08 566.7L129.4 578.74L133.26 579.94L137.12 576.93L140.63 579.94L146.95 589.57L153.62 587.47L157.83 594.39L161.69 565.49L168.36 567.9L175.73 574.52L196.79 588.07L206.97 564.29L214.34 560.68L221.36 579.34" stroke="#2c4470" stroke-width="1.5" fill="none" stroke-linejoin="round"/>
<rect x="39.9" y="565.2" width="4.2" height="4.2" fill="#2c4470"/>
<rect x="46.57" y="563.39" width="4.2" height="4.2" fill="#2c4470"/>
<rect x="54.29" y="557.67" width="4.2" height="4.2" fill="#2c4470"/>
<rect x="60.96" y="560.68" width="4.2" height="4.2" fill="#2c4470"/>
<rect x="68.33" y="560.68" width="4.2" height="4.2" fill="#2c4470"/>
<rect x="75.35" y="562.19" width="4.2" height="4.2" fill="#2c4470"/>
<rect x="82.02" y="560.68" width="4.2" height="4.2" fill="#2c4470"/>
<rect x="89.04" y="557.67" width="4.2" height="4.2" fill="#2c4470"/>
<rect x="95.71" y="563.69" width="4.2" height="4.2" fill="#2c4470"/>
<rect x="106.59" y="567.91" width="4.2" height="4.2" fill="#2c4470"/>
<rect x="113.26" y="579.05" width="4.2" height="4.2" fill="#2c4470"/>
<rect x="117.12" y="576.04" width="4.2" height="4.2" fill="#2c4470"/>
<rect x="120.98" y="564.6" width="4.2" height="4.2" fill="#2c4470"/>
<rect x="127.3" y="576.64" width="4.2" height="4.2" fill="#2c4470"/>
<rect x="131.16" y="577.84" width="4.2" height="4.2" fill="#2c4470"/>
<rect x="135.02" y="574.83" width="4.2" height="4.2" fill="#2c4470"/>
<rect x="138.53" y="577.84" width="4.2" height="4.2" fill="#2c4470"/>
<rect x="144.85" y="587.47" width="4.2" height="4.2" fill="#2c4470"/>
<rect x="151.52" y="585.37" width="4.2" height="4.2" fill="#2c4470"/>
<rect x="155.73" y="592.29" width="4.2" height="4.2" fill="#2c4470"/>
<rect x="159.59" y="563.39" width="4.2" height="4.2" fill="#2c4470"/>
<rect x="166.26" y="565.8" width="4.2" height="4.2" fill="#2c4470"/>
<rect x="173.63" y="572.42" width="4.2" height="4.2" fill="#2c4470"/>
<rect x="194.69" y="585.97" width="4.2" height="4.2" fill="#2c4470"/>
<rect x="204.87" y="562.19" width="4.2" height="4.2" fill="#2c4470"/>
<rect x="212.24" y="558.58" width="4.2" height="4.2" fill="#2c4470"/>
<rect x="219.26" y="577.24" width="4.2" height="4.2" fill="#2c4470"/>
<path d="M48.67 561.28V558.27M46.67 558.27h4M56.39 558.87V554.66M54.39 554.66h4M63.06 562.78V558.87M61.06 558.87h4M70.43 563.69V560.08M68.43 560.08h4M77.45 564.29V560.08M75.45 560.08h4M84.12 562.78V558.27M82.12 558.27h4M91.14 558.27V554.36M89.14 554.36h4M97.81 562.78V559.77M95.81 559.77h4M108.69 570.31V565.79M106.69 565.79h4M117.11 601.01V588.37M115.11 588.37h4M122.38 629V618.47M120.38 618.47h4M129.4 632.92V624.49M127.4 624.49h4" stroke="#8fc46a" stroke-width="1" fill="none"/>
<path d="M42 567.3L48.67 561.28L56.39 558.87L63.06 562.78L70.43 563.69L77.45 564.29L84.12 562.78L91.14 558.27L97.81 562.78L108.69 570.31L117.11 601.01L122.38 629L129.4 632.92L137.12 635.02" stroke="#80b85a" stroke-width="1.5" fill="none" stroke-linejoin="round"/>
<path d="M42 564.8l2.3 4h-4.6z" fill="#80b85a"/>
<path d="M48.67 558.78l2.3 4h-4.6z" fill="#80b85a"/>
<path d="M56.39 556.37l2.3 4h-4.6z" fill="#80b85a"/>
<path d="M63.06 560.28l2.3 4h-4.6z" fill="#80b85a"/>
<path d="M70.43 561.19l2.3 4h-4.6z" fill="#80b85a"/>
<path d="M77.45 561.79l2.3 4h-4.6z" fill="#80b85a"/>
<path d="M84.12 560.28l2.3 4h-4.6z" fill="#80b85a"/>
<path d="M91.14 555.77l2.3 4h-4.6z" fill="#80b85a"/>
<path d="M97.81 560.28l2.3 4h-4.6z" fill="#80b85a"/>
<path d="M108.69 567.81l2.3 4h-4.6z" fill="#80b85a"/>
<path d="M117.11 598.51l2.3 4h-4.6z" fill="#80b85a"/>
<path d="M122.38 626.5l2.3 4h-4.6z" fill="#80b85a"/>
<path d="M129.4 630.42l2.3 4h-4.6z" fill="#80b85a"/>
<path d="M137.12 632.52l2.3 4h-4.6z" fill="#80b85a"/>
<path d="M117.82 604.92V591.38M115.82 591.38h4M123.78 613.65V603.42M121.78 603.42h4M130.1 622.68V615.46M128.1 615.46h4" stroke="#c86a30" stroke-width="1" fill="none"/>
<path d="M42 567.3L48.67 565.79L56.39 569.41L63.06 569.71L70.43 570.31L77.45 570.61L84.12 570.61L91.14 561.58L97.81 568.5L109.39 584.16L117.82 604.92L123.78 613.65L130.1 622.68L132.91 637.73L136.77 624.49L140.98 624.49" stroke="#a2152f" stroke-width="1.5" fill="none" stroke-linejoin="round"/>
<circle cx="42" cy="567.3" r="2.1" fill="#a2152f"/>
<circle cx="48.67" cy="565.79" r="2.1" fill="#a2152f"/>
<circle cx="56.39" cy="569.41" r="2.1" fill="#a2152f"/>
<circle cx="63.06" cy="569.71" r="2.1" fill="#a2152f"/>
<circle cx="70.43" cy="570.31" r="2.1" fill="#a2152f"/>
<circle cx="77.45" cy="570.61" r="2.1" fill="#a2152f"/>
<circle cx="84.12" cy="570.61" r="2.1" fill="#a2152f"/>
<circle cx="91.14" cy="561.58" r="2.1" fill="#a2152f"/>
<circle cx="97.81" cy="568.5" r="2.1" fill="#a2152f"/>
<circle cx="109.39" cy="584.16" r="2.1" fill="#a2152f"/>
<circle cx="117.82" cy="604.92" r="2.1" fill="#a2152f"/>
<circle cx="123.78" cy="613.65" r="2.1" fill="#a2152f"/>
<circle cx="130.1" cy="622.68" r="2.1" fill="#a2152f"/>
<circle cx="132.91" cy="637.73" r="2.1" fill="#a2152f"/>
<circle cx="136.77" cy="624.49" r="2.1" fill="#a2152f"/>
<circle cx="140.98" cy="624.49" r="2.1" fill="#a2152f"/>
<path d="M42 567.3L48.67 565.49L56.39 569.41L63.06 569.71L70.43 561.28L77.45 570.31L84.12 570.31L91.14 561.28L97.81 570.31L107.64 585.36L115.36 610.94L118.87 620.28L123.08 611.85L132.91 638.34L137.12 638.34" stroke="#461b5e" stroke-width="1.5" fill="none" stroke-linejoin="round"/>
<path d="M42 569.8l2.3 -4h-4.6z" fill="#461b5e"/>
<path d="M48.67 567.99l2.3 -4h-4.6z" fill="#461b5e"/>
<path d="M56.39 571.91l2.3 -4h-4.6z" fill="#461b5e"/>
<path d="M63.06 572.21l2.3 -4h-4.6z" fill="#461b5e"/>
<path d="M70.43 563.78l2.3 -4h-4.6z" fill="#461b5e"/>
<path d="M77.45 572.81l2.3 -4h-4.6z" fill="#461b5e"/>
<path d="M84.12 572.81l2.3 -4h-4.6z" fill="#461b5e"/>
<path d="M91.14 563.78l2.3 -4h-4.6z" fill="#461b5e"/>
<path d="M97.81 572.81l2.3 -4h-4.6z" fill="#461b5e"/>
<path d="M107.64 587.86l2.3 -4h-4.6z" fill="#461b5e"/>
<path d="M115.36 613.44l2.3 -4h-4.6z" fill="#461b5e"/>
<path d="M118.87 622.78l2.3 -4h-4.6z" fill="#461b5e"/>
<path d="M123.08 614.35l2.3 -4h-4.6z" fill="#461b5e"/>
<path d="M132.91 640.84l2.3 -4h-4.6z" fill="#461b5e"/>
<path d="M137.12 640.84l2.3 -4h-4.6z" fill="#461b5e"/>
<line x1="53.5" y1="608.1" x2="64.6" y2="608.1" stroke="#a2152f" stroke-width="1.3" />
<circle cx="59.2" cy="608.1" r="1.8" fill="#a2152f"/>
<text x="0" y="0" font-size="8.6" text-anchor="start" fill="#222" transform="translate(67.8 611.2) scale(0.9 1)">Iso</text>
<line x1="53.5" y1="619.9" x2="64.6" y2="619.9" stroke="#2c4470" stroke-width="1.3" />
<rect x="57.5" y="618.2" width="3.4" height="3.4" fill="#2c4470"/>
<text x="0" y="0" font-size="8.6" text-anchor="start" fill="#222" transform="translate(67.8 623) scale(0.9 1)">E1</text>
<line x1="53.5" y1="631.7" x2="64.6" y2="631.7" stroke="#80b85a" stroke-width="1.3" />
<path d="M59.2 629.7l1.9 3.3h-3.8z" fill="#80b85a"/>
<text x="0" y="0" font-size="8.6" text-anchor="start" fill="#222" transform="translate(67.8 634.8) scale(0.9 1)">L1</text>
<line x1="53.5" y1="643.5" x2="64.6" y2="643.5" stroke="#461b5e" stroke-width="1.3" />
<path d="M59.2 645.5l1.9 -3.3h-3.8z" fill="#461b5e"/>
<text x="0" y="0" font-size="8.6" text-anchor="start" fill="#222" transform="translate(67.8 646.6) scale(0.9 1)">L2</text>
<text x="254.1" y="527.6" font-size="12.2" text-anchor="start" font-weight="bold" fill="#000" >D</text>
<path d="M286.6 533.4V657.5H481.5" fill="none" stroke="#222" stroke-width="1.25"/>
<path d="M283.6 657.5h3.2M283.6 633.28h3.2M283.6 609.06h3.2M283.6 584.84h3.2M283.6 560.62h3.2M283.6 536.4h3.2M286.8 657.5v3M351.1 657.5v3M415.4 657.5v3M479.7 657.5v3" stroke="#222" stroke-width="1.1" fill="none"/>
<text x="0" y="0" font-size="9.1" text-anchor="end" fill="#222" transform="translate(281.3 660.6) scale(0.95 1)">0</text>
<text x="0" y="0" font-size="9.1" text-anchor="end" fill="#222" transform="translate(281.3 636.38) scale(0.95 1)">20</text>
<text x="0" y="0" font-size="9.1" text-anchor="end" fill="#222" transform="translate(281.3 612.16) scale(0.95 1)">40</text>
<text x="0" y="0" font-size="9.1" text-anchor="end" fill="#222" transform="translate(281.3 587.94) scale(0.95 1)">60</text>
<text x="0" y="0" font-size="9.1" text-anchor="end" fill="#222" transform="translate(281.3 563.72) scale(0.95 1)">80</text>
<text x="0" y="0" font-size="9.1" text-anchor="end" fill="#222" transform="translate(281.3 539.5) scale(0.95 1)">100</text>
<text x="0" y="0" font-size="9.1" text-anchor="middle" fill="#222" transform="translate(286.8 671.3) scale(0.95 1)">0</text>
<text x="0" y="0" font-size="9.1" text-anchor="middle" fill="#222" transform="translate(351.1 671.3) scale(0.95 1)">20</text>
<text x="0" y="0" font-size="9.1" text-anchor="middle" fill="#222" transform="translate(415.4 671.3) scale(0.95 1)">40</text>
<text x="0" y="0" font-size="9.1" text-anchor="middle" fill="#222" transform="translate(479.7 671.3) scale(0.95 1)">60</text>
<text x="0" y="0" font-size="10.5" text-anchor="middle" fill="#111" transform="translate(384 685.2) scale(0.82 1)">Days</text>
<text x="0" y="0" font-size="10" text-anchor="middle" fill="#111" transform="translate(260.6 594.8) rotate(-90) scale(0.9 1)">Survival</text>
<path d="M286.8 536.4H357.53V549.84H373.93V576.73H376.18V590.17H386.79V603.73H389.68V617.17H392.89V630.62H429.22V644.06H452.37" stroke="#263a7e" stroke-width="1.3" fill="none"/>
<line x1="452.37" y1="644.06" x2="452.37" y2="641.56" stroke="#263a7e" stroke-width="1.2" />
<path d="M286.8 536.4H357.53V553.72H360.42V571.03H363.96V605.55H370.55V622.87" stroke="#74ad52" stroke-width="1.3" fill="none"/>
<path d="M286.8 536.4H357.53V571.03H363.96V588.35H370.39V605.55H373.44V640.18H386.47V657.5" stroke="#2e1a40" stroke-width="1.3" fill="none"/>
<path d="M286.8 536.4H357.53V556.62H363.96V576.73H370.39V596.95H373.44V637.28H377.14V657.5" stroke="#c4163a" stroke-width="1.3" fill="none"/>
<line x1="432.8" y1="541.5" x2="444.2" y2="541.5" stroke="#c4163a" stroke-width="1.2" />
<line x1="438.5" y1="541.5" x2="438.5" y2="539.3" stroke="#c4163a" stroke-width="1" />
<text x="0" y="0" font-size="8.3" text-anchor="start" fill="#222" transform="translate(447.6 544.4) scale(0.95 1)">Iso (n = 6)</text>
<line x1="432.8" y1="553.3" x2="444.2" y2="553.3" stroke="#263a7e" stroke-width="1.2" />
<line x1="438.5" y1="553.3" x2="438.5" y2="551.1" stroke="#263a7e" stroke-width="1" />
<text x="0" y="0" font-size="8.3" text-anchor="start" fill="#222" transform="translate(447.6 556.2) scale(0.95 1)">E1 (n = 9)</text>
<line x1="432.8" y1="565.1" x2="444.2" y2="565.1" stroke="#74ad52" stroke-width="1.2" />
<line x1="438.5" y1="565.1" x2="438.5" y2="562.9" stroke="#74ad52" stroke-width="1" />
<text x="0" y="0" font-size="8.3" text-anchor="start" fill="#222" transform="translate(447.6 568) scale(0.95 1)">L1 (n = 7)</text>
<line x1="432.8" y1="576.9" x2="444.2" y2="576.9" stroke="#2e1a40" stroke-width="1.2" />
<line x1="438.5" y1="576.9" x2="438.5" y2="574.7" stroke="#2e1a40" stroke-width="1" />
<text x="0" y="0" font-size="8.3" text-anchor="start" fill="#222" transform="translate(447.6 579.8) scale(0.95 1)">L2 (n = 7)</text>
<text x="423.8" y="621.3" font-size="8" fill="#222"><tspan font-style="italic">P</tspan> = .0127</text>
<path d="M0.55 0V695M0 0.5H520M519.35 0V695M0 694.35H520" stroke="#111" stroke-width="1.3" fill="none"/>
</svg>
</body></html>
